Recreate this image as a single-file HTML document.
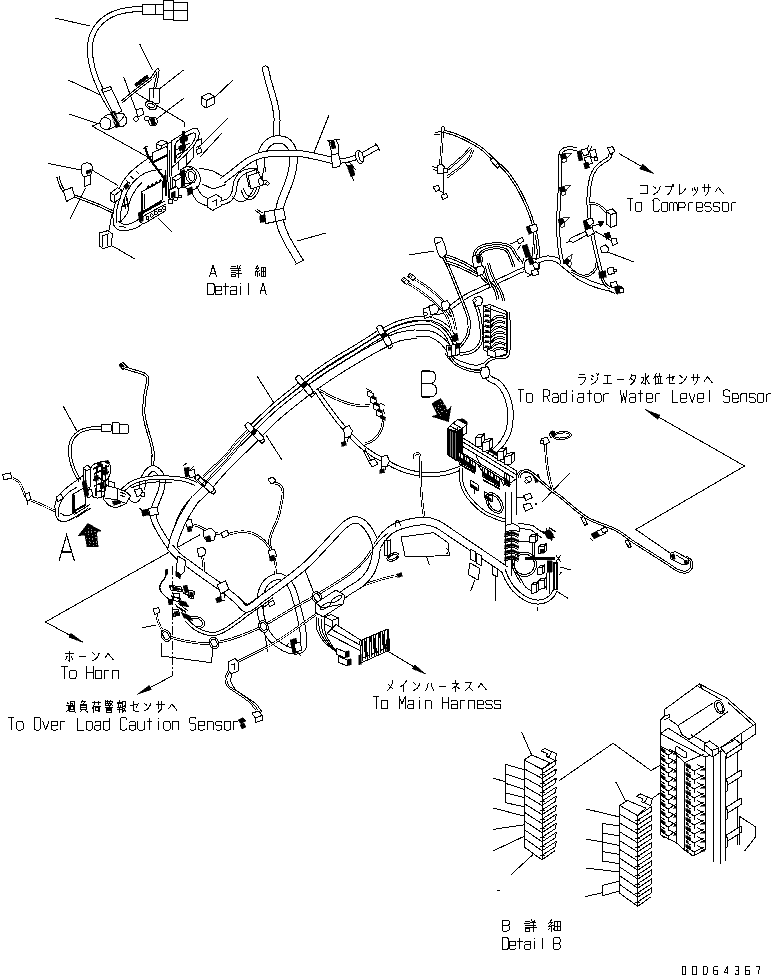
<!DOCTYPE html>
<html><head><meta charset="utf-8"><title>Wiring harness</title>
<style>
html,body{margin:0;padding:0;background:#fff;}
body{width:773px;height:975px;overflow:hidden;font-family:"Liberation Mono",monospace;}
svg{display:block}
svg text{font-family:"Liberation Mono",monospace;fill:#000;}
</style></head><body>
<svg shape-rendering="crispEdges" width="773" height="975" viewBox="0 0 773 975" stroke-linecap="butt">
<rect width="773" height="975" fill="#fff"/>
<path d="M55 18 L90 26 M139.7 44 L152.6 70 M68.6 80.2 L104.8 97 M68.6 113.8 L99.6 124.2 M183.7 69.9 L159 89.3 M183.7 98.3 L156.5 119 M123.7 77 L135.8 110 M92 126 L153 160 M92 126 L100 123 M136 93 L184 122 L184 127 M47.9 163.4 L81.5 170 M92 170 L117.7 185.4 M85.4 188 L70 219 M112.5 211 L108.7 232 M112.5 246 L135 259 M157.8 217.7 L172 232 M233 80 L214 98 M228 118 L198 148 M222 133 L200 157 M329 115 L313 155 M326 233 L297 241" fill="none" stroke="#000" stroke-width="1"/>
<path d="M142 9 C139.7 9.2 132.8 9.2 128 10 C123.2 10.8 117.7 11.8 113 14 C108.3 16.2 103.5 19.3 100 23 C96.5 26.7 93.7 31.2 92 36 C90.3 40.8 89.8 46.3 90 52 C90.2 57.7 91.5 64.3 93 70 C94.5 75.7 96.8 81 99 86 C101.2 91 103.8 96 106 100 C108.2 104 111 108.3 112 110" fill="none" stroke="#000" stroke-width="6" stroke-linecap="butt" stroke-linejoin="round"/>
<path d="M142 9 C139.7 9.2 132.8 9.2 128 10 C123.2 10.8 117.7 11.8 113 14 C108.3 16.2 103.5 19.3 100 23 C96.5 26.7 93.7 31.2 92 36 C90.3 40.8 89.8 46.3 90 52 C90.2 57.7 91.5 64.3 93 70 C94.5 75.7 96.8 81 99 86 C101.2 91 103.8 96 106 100 C108.2 104 111 108.3 112 110" fill="none" stroke="#fff" stroke-width="4" stroke-linecap="butt" stroke-linejoin="round"/>
<path d="M142.3 4 L155.2 4 L155.2 14.2 L142.3 14.2Z" fill="#fff" stroke="#000" stroke-width="1" stroke-linejoin="round"/>
<path d="M155.2 4 L163 4 L163 14.2 L155.2 14.2Z" fill="#fff" stroke="#000" stroke-width="1" stroke-linejoin="round"/>
<path d="M163 0.5 L173.4 0.5 L173.4 19.4 L163 19.4Z" fill="#fff" stroke="#000" stroke-width="1" stroke-linejoin="round"/>
<path d="M173.4 2.6 L187.6 2.6 L187.6 20.7 L173.4 20.7Z" fill="#fff" stroke="#000" stroke-width="1" stroke-linejoin="round"/>
<path d="M163 10.3 L187.6 10.3" fill="none" stroke="#000" stroke-width="1"/>
<path d="M101.5 89.5 L110.5 86.5 L122 111 L114 115Z" fill="#fff" stroke="#000" stroke-width="1" stroke-linejoin="round"/>
<path d="M103 92.5 L111.5 89.5" fill="none" stroke="#000" stroke-width="1"/>
<ellipse cx="107" cy="123" rx="7" ry="6.5" fill="#fff" stroke="#000" stroke-width="1"/>
<ellipse cx="120" cy="120.5" rx="7" ry="6.5" fill="#fff" stroke="#000" stroke-width="1"/>
<path d="M104 117 C105.3 114.4 114.7 113.7 118 113.5 C121.3 113.3 125.3 113.4 124 116 C122.7 118.6 113.3 128.8 110 129 C106.7 129.2 102.7 119.6 104 117Z" fill="#fff" stroke="#000" stroke-width="1" stroke-linejoin="round"/>
<ellipse cx="105.5" cy="123.5" rx="5.5" ry="6" fill="#fff" stroke="#000" stroke-width="1" transform="rotate(-15 105.5 123.5)"/>
<path d="M110 112 L115 111 L120 126 L116 128Z" fill="#000" stroke="#000" stroke-width="0.5"/>
<path d="M111 116 L116 124 M113 113 L119 122" fill="none" stroke="#fff" stroke-width="0.8"/>
<path d="M121.6 102 C123.8 100.2 129.9 95 135 91 C140.1 87 149.2 80.2 152 78" fill="none" stroke="#000" stroke-width="3" stroke-linecap="butt" stroke-linejoin="round"/>
<path d="M121.6 102 C123.8 100.2 129.9 95 135 91 C140.1 87 149.2 80.2 152 78" fill="none" stroke="#fff" stroke-width="1" stroke-linecap="butt" stroke-linejoin="round"/>
<path d="M152 78 C152.7 77 155 73.3 156 72 C157 70.7 157.8 69 158 70 C158.2 71 157.6 74.8 157 78 C156.4 81.2 154.9 87.2 154.5 89" fill="none" stroke="#000" stroke-width="3" stroke-linecap="butt" stroke-linejoin="round"/>
<path d="M152 78 C152.7 77 155 73.3 156 72 C157 70.7 157.8 69 158 70 C158.2 71 157.6 74.8 157 78 C156.4 81.2 154.9 87.2 154.5 89" fill="none" stroke="#fff" stroke-width="1" stroke-linecap="butt" stroke-linejoin="round"/>
<path d="M134.5 84 L147 74.5 L149 77.5 L136.5 87Z" fill="#000" stroke="#000" stroke-width="0.5"/>
<path d="M149 88 L159 88 L159 103 L149 103Z" fill="#fff" stroke="#000" stroke-width="1" stroke-linejoin="round"/>
<path d="M153.5 88 L153.5 98" fill="none" stroke="#000" stroke-width="1"/>
<ellipse cx="151" cy="105.5" rx="6" ry="3.8" fill="#fff" stroke="#000" stroke-width="1" transform="rotate(25 151 105.5)"/>
<ellipse cx="151" cy="105.5" rx="3.5" ry="2" fill="#fff" stroke="#000" stroke-width="1" transform="rotate(25 151 105.5)"/>
<path d="M136 110 L142 108 L144 114 L138 117Z" fill="#fff" stroke="#000" stroke-width="1" stroke-linejoin="round"/>
<ellipse cx="136" cy="119" rx="2.2" ry="2.2" fill="#fff" stroke="#000" stroke-width="1"/>
<ellipse cx="147" cy="118.5" rx="2.5" ry="2.5" fill="#fff" stroke="#000" stroke-width="1"/>
<ellipse cx="153" cy="121.5" rx="4.2" ry="4.5" fill="#fff" stroke="#000" stroke-width="1"/>
<path d="M150 119 L154 117.5 L156 124 L152 125.5Z" fill="#000" stroke="#000" stroke-width="0.5"/>
<path d="M82 165 C83 163.2 86.3 162.8 88 163 C89.7 163.2 91.5 164.2 92 166 C92.5 167.8 92.2 172.2 91 174 C89.8 175.8 86.5 177 85 177 C83.5 177 82.5 176 82 174 C81.5 172 81 166.8 82 165Z" fill="#fff" stroke="#000" stroke-width="1" stroke-linejoin="round"/>
<path d="M84 177 L90 175 L90.5 184 L85 186.5Z" fill="#fff" stroke="#000" stroke-width="1" stroke-linejoin="round"/>
<path d="M86 171 L91 169 L91.5 172 L86.5 174Z" fill="#000" stroke="#000" stroke-width="0.5"/>
<path d="M58 177 C58.5 178.5 59.7 183.3 61 186 C62.3 188.7 62.8 191 66 193 C69.2 195 74.7 196 80 198 C85.3 200 92.5 202.7 98 205 C103.5 207.3 110.5 210.8 113 212" fill="none" stroke="#000" stroke-width="3.2" stroke-linecap="butt" stroke-linejoin="round"/>
<path d="M58 177 C58.5 178.5 59.7 183.3 61 186 C62.3 188.7 62.8 191 66 193 C69.2 195 74.7 196 80 198 C85.3 200 92.5 202.7 98 205 C103.5 207.3 110.5 210.8 113 212" fill="none" stroke="#fff" stroke-width="1.2" stroke-linecap="butt" stroke-linejoin="round"/>
<path d="M63.4 190.5 L72 187.5 L75 197 L66.5 201.5Z" fill="#fff" stroke="#000" stroke-width="1" stroke-linejoin="round"/>
<path d="M99.6 233 L108 230.6 L112.5 234 L111 246 L103 248.8 L99.6 246Z" fill="#fff" stroke="#000" stroke-width="1" stroke-linejoin="round"/>
<path d="M103 235.5 L108 234 L107 246 M103 235.5 L102.5 247" fill="none" stroke="#000" stroke-width="1"/>
<path d="M201 97 L209 93 L214.5 96.5 L214 104 L206 108 L201 104.5Z" fill="#fff" stroke="#000" stroke-width="1" stroke-linejoin="round"/>
<path d="M201 97 L206.5 100.5 L214.5 96.5 M206.5 100.5 L206 108" fill="none" stroke="#000" stroke-width="1"/>
<path d="M113.5 225 C113.4 223.2 112.8 217.5 113 214 C113.2 210.5 114.2 207.7 115 204 C115.8 200.3 116.8 195.7 118 192 C119.2 188.3 120.4 185.3 122.5 182 C124.6 178.7 126.8 175.6 130.5 172 C134.2 168.4 140.6 163.7 144.8 160.6 C149.1 157.5 152.2 156.3 156 153.5 C159.8 150.7 165.7 145.6 167.6 144" fill="none" stroke="#000" stroke-width="1" stroke-linejoin="round"/>
<path d="M120.7 222 C120.8 220.2 120.5 214.4 121 211 C121.5 207.6 122.4 205.1 123.5 201.8 C124.6 198.5 125.8 194.3 127.5 191 C129.2 187.7 131.2 184.6 133.5 182 C135.8 179.4 138.4 177.2 141 175.5 C143.6 173.8 145.5 172.6 149 171.5 C152.5 170.4 159.8 169.4 162 169" fill="none" stroke="#000" stroke-width="1" stroke-linejoin="round"/>
<path d="M127.8 213 C128.1 211.2 128.6 205.3 129.5 202 C130.4 198.7 132.2 195.8 133.5 193.3 C134.8 190.8 136.1 188.8 137.5 187 C138.9 185.2 141.2 183.2 142 182.5" fill="none" stroke="#000" stroke-width="1" stroke-linejoin="round"/>
<path d="M117 223 C116.9 221.2 116.2 215.7 116.5 212 C116.8 208.3 117.9 204.7 119 201 C120.1 197.3 121.5 193.2 123 190 C124.5 186.8 127.2 183.3 128 182" fill="none" stroke="#000" stroke-width="1" stroke-linejoin="round"/>
<path d="M113.5 225 C114.1 225.7 115.6 228.1 117 229 C118.4 229.9 119.2 230.5 122 230.5 C124.8 230.5 130.2 230 133.5 229 C136.8 228 140.6 225.3 142 224.6" fill="none" stroke="#000" stroke-width="1" stroke-linejoin="round"/>
<path d="M118 221 C119 221.6 121.7 224.2 124 224.5 C126.3 224.8 129.3 224 132 223 C134.7 222 138.7 219.2 140 218.5" fill="none" stroke="#000" stroke-width="1" stroke-linejoin="round"/>
<path d="M120.7 222 L127.8 213 M119 226 L126 227.5" fill="none" stroke="#000" stroke-width="1"/>
<path d="M124 199 L125.5 209 M126.5 196 L128 207 M123 206 L130 203" fill="none" stroke="#000" stroke-width="1.4"/>
<path d="M123.5 186 L127 183 L129.5 186 L126 189.5Z" fill="#000" stroke="#000" stroke-width="0.5"/>
<path d="M130 176 L134 179 M126 180 L130 183.5 M136 171 L139.5 174.5" fill="none" stroke="#000" stroke-width="1"/>
<path d="M110.7 193 L117.5 187.6 L121.5 190 L120.7 198 L114 203 L110.7 200.4Z" fill="#fff" stroke="#000" stroke-width="1" stroke-linejoin="round"/>
<path d="M110.7 193 L114.5 195.5 L121.5 190 M114.5 195.5 L114 203" fill="none" stroke="#000" stroke-width="1"/>
<path d="M141.3 191.9 L162 180.5 L162 200.4 L141.3 213.2Z" fill="#fff" stroke="#000" stroke-width="1" stroke-linejoin="round"/>
<path d="M142.3 192.5 L142.3 212.5 L162 200.8" fill="none" stroke="#000" stroke-width="2.2"/>
<path d="M144.5 193.5 L144.5 209 M146 189.5 L160 182" fill="none" stroke="#000" stroke-width="1"/>
<path d="M147 188 L149 186 M151 186 L153 184 M155 184 L157 182 M159 182 L161 180" fill="none" stroke="#000" stroke-width="1.6"/>
<path d="M139 215.5 L164.8 201 M143.4 224 L166 210.5 M139 215.5 L139 221 L143.4 224 M141 217.5 L165.5 204" fill="none" stroke="#000" stroke-width="1"/>
<ellipse cx="147.5" cy="218" rx="1.6" ry="1.6" fill="#fff" stroke="#000" stroke-width="1"/>
<ellipse cx="151.7" cy="215.5" rx="1.6" ry="1.6" fill="#fff" stroke="#000" stroke-width="1"/>
<ellipse cx="155.9" cy="213" rx="1.6" ry="1.6" fill="#fff" stroke="#000" stroke-width="1"/>
<ellipse cx="160.1" cy="210.5" rx="1.6" ry="1.6" fill="#fff" stroke="#000" stroke-width="1"/>
<ellipse cx="164.3" cy="208" rx="1.6" ry="1.6" fill="#fff" stroke="#000" stroke-width="1"/>
<path d="M138 213 L142 211 L143.5 220 L139.5 222Z" fill="#000" stroke="#000" stroke-width="0.5"/>
<path d="M167.3 144 L171.5 142 L172.3 196 L168.3 198Z" fill="#fff" stroke="#000" stroke-width="1" stroke-linejoin="round"/>
<path d="M169.5 150 L170.3 192" fill="none" stroke="#000" stroke-width="1"/>
<path d="M165.5 170 L165.8 196" fill="none" stroke="#000" stroke-width="1.8"/>
<path d="M163 176 L166 174.5 L166.5 186 L163.5 187.5Z" fill="#000" stroke="#000" stroke-width="0.5"/>
<path d="M144.8 146.5 C145.2 147.6 146 150.7 147 153 C148 155.3 149.5 158.1 151 160.5 C152.5 162.9 154.3 165.2 156 167.5 C157.7 169.8 159.5 172 161 174 C162.5 176 164.3 178.6 165 179.5" fill="none" stroke="#000" stroke-width="2.2"/>
<path d="M143.5 148.5 L147.5 146 M149 163 L153 160" fill="none" stroke="#000" stroke-width="1"/>
<path d="M171.5 141 L184 133 L193 128.5 L197.5 129 L199.5 132.5 L198 139 L193 147 L185 155.5 L178 162 L172 167.5Z" fill="#fff" stroke="#000" stroke-width="1" stroke-linejoin="round"/>
<path d="M176 143 C177.5 139.4 183.1 138.2 186 136.5 C188.9 134.8 191.9 133.1 193.5 133 C195.1 132.9 195.8 134.2 195.5 136 C195.2 137.8 193.9 141.3 192 144 C190.1 146.7 186.5 149.7 184 152 C181.5 154.3 178.3 159.5 177 158 C175.7 156.5 174.5 146.6 176 143Z" fill="none" stroke="#000" stroke-width="1" stroke-linejoin="round"/>
<path d="M183.5 130.5 L183.5 152" fill="none" stroke="#000" stroke-width="2.8"/>
<path d="M179.5 137 L187 134.5 L188 140 L180.5 143Z" fill="#000" stroke="#000" stroke-width="0.5"/>
<path d="M178.5 146 L185 143.5 L186 148 L179.5 151Z" fill="#000" stroke="#000" stroke-width="0.5"/>
<path d="M176 150 L190 143 M177 155 L188 149 M175 145 L175 163" fill="none" stroke="#000" stroke-width="1.3"/>
<path d="M186 155 L186 166 M193 147 L193 158 M186 166 L193 158 M178 162 L178 170 M196 141 L201 139 L201 145 L196 147.5" fill="none" stroke="#000" stroke-width="1"/>
<path d="M196 150 L200.5 148 L202 152 L197.5 154Z" fill="#fff" stroke="#000" stroke-width="1" stroke-linejoin="round"/>
<path d="M156 143.5 L162 140 L167.5 142.5 L167.5 147 L161.5 150.5 L156 148Z" fill="#fff" stroke="#000" stroke-width="1" stroke-linejoin="round"/>
<path d="M156 143.5 L161.5 146 L167.5 142.5 M161.5 146 L161.5 150.5" fill="none" stroke="#000" stroke-width="1"/>
<path d="M152 153 L166 146.5 L167.5 149 L167.5 155 L153.5 162 L152 160Z" fill="#fff" stroke="#000" stroke-width="1" stroke-linejoin="round"/>
<path d="M153.5 162 L167.5 155" fill="none" stroke="#000" stroke-width="2.2"/>
<ellipse cx="190" cy="178" rx="10" ry="12" fill="#fff" stroke="#000" stroke-width="1" transform="rotate(-25 190 178)"/>
<path d="M180 170 L188 166 L192.5 169 L192 183 L184 188 L180 185Z" fill="#fff" stroke="#000" stroke-width="1" stroke-linejoin="round"/>
<ellipse cx="191" cy="176" rx="5.2" ry="7.2" fill="#fff" stroke="#000" stroke-width="1" transform="rotate(-15 191 176)"/>
<ellipse cx="191.5" cy="176.2" rx="3" ry="5" fill="#fff" stroke="#000" stroke-width="1" transform="rotate(-15 191.5 176.2)"/>
<path d="M181 171 L184.5 169.5 L184.5 186 L181 187.5Z" fill="#000" stroke="#000" stroke-width="0.5"/>
<path d="M184.5 172 L191 169 M184.5 184 L191 183.5" fill="none" stroke="#000" stroke-width="1"/>
<path d="M172 178 L179 174 L182 177 L181.5 187 L174.5 191 L172 188Z" fill="#fff" stroke="#000" stroke-width="1" stroke-linejoin="round"/>
<path d="M172 178 L175.5 181 L182 177 M175.5 181 L174.5 191" fill="none" stroke="#000" stroke-width="1"/>
<path d="M169.5 190 L176.5 186.5 L179 190 L178.5 197 L171.5 200.5 L169.5 198Z" fill="#fff" stroke="#000" stroke-width="1" stroke-linejoin="round"/>
<path d="M171 193 L175 191 L175.5 196 L171.5 198Z" fill="#000" stroke="#000" stroke-width="0.5"/>
<ellipse cx="170.5" cy="201.5" rx="2.2" ry="2.2" fill="#fff" stroke="#000" stroke-width="1"/>
<ellipse cx="175.5" cy="199" rx="1.9" ry="1.9" fill="#fff" stroke="#000" stroke-width="1"/>
<ellipse cx="180" cy="196.5" rx="1.6" ry="1.6" fill="#fff" stroke="#000" stroke-width="1"/>
<path d="M187 189 L192 186.5 L193 193 L188 195.5Z" fill="#000" stroke="#000" stroke-width="0.5"/>
<path d="M199 168 L212 170.5 L223 176.5 M202 184 L213 189 L226 184.5" fill="none" stroke="#000" stroke-width="1"/>
<path d="M196 186 C197.2 187.7 200.3 193.7 203 196 C205.7 198.3 210.5 199.3 212 200" fill="none" stroke="#000" stroke-width="1" stroke-linejoin="round"/>
<path d="M190 189 C191.2 191 194.2 198.2 197 201 C199.8 203.8 205.3 205.2 207 206" fill="none" stroke="#000" stroke-width="1" stroke-linejoin="round"/>
<path d="M207.5 199 L216 194.5 L222 198 L221 206 L212.5 210.5 L207.5 207Z" fill="#fff" stroke="#000" stroke-width="1" stroke-linejoin="round"/>
<path d="M212 202 L217 199.5 L216.5 206" fill="none" stroke="#000" stroke-width="1"/>
<path d="M221 203 C222.3 202.5 226.8 201.8 229 200 C231.2 198.2 232.8 195.2 234 192 C235.2 188.8 234.8 184 236 181 C237.2 178 238.7 175.8 241 174 C243.3 172.2 246.8 171 250 170.5 C253.2 170 258.3 170.9 260 171" fill="none" stroke="#000" stroke-width="5" stroke-linecap="butt" stroke-linejoin="round"/>
<path d="M221 203 C222.3 202.5 226.8 201.8 229 200 C231.2 198.2 232.8 195.2 234 192 C235.2 188.8 234.8 184 236 181 C237.2 178 238.7 175.8 241 174 C243.3 172.2 246.8 171 250 170.5 C253.2 170 258.3 170.9 260 171" fill="none" stroke="#fff" stroke-width="3" stroke-linecap="butt" stroke-linejoin="round"/>
<path d="M246 173 L256 169.5 L259 176 L258 184 L249 186.5Z" fill="#fff" stroke="#000" stroke-width="1" stroke-linejoin="round"/>
<ellipse cx="260" cy="180" rx="2.5" ry="4.5" fill="#fff" stroke="#000" stroke-width="1" transform="rotate(-10 260 180)"/>
<path d="M232 196 C233 196.8 235.7 200.3 238 201 C240.3 201.7 243.7 201.5 246 200 C248.3 198.5 250.3 194.7 252 192 C253.7 189.3 255.3 185.3 256 184" fill="none" stroke="#000" stroke-width="1" stroke-linejoin="round"/>
<path d="M265.5 69 C265.9 70.8 267 76.2 268 80 C269 83.8 270.3 87.8 271.5 92 C272.7 96.2 274.1 100.7 275 105 C275.9 109.3 276.8 112.8 277 118 C277.2 123.2 276.6 133 276.5 136" fill="none" stroke="#000" stroke-width="7" stroke-linecap="round" stroke-linejoin="round"/>
<path d="M265.5 69 C265.9 70.8 267 76.2 268 80 C269 83.8 270.3 87.8 271.5 92 C272.7 96.2 274.1 100.7 275 105 C275.9 109.3 276.8 112.8 277 118 C277.2 123.2 276.6 133 276.5 136" fill="none" stroke="#fff" stroke-width="5" stroke-linecap="round" stroke-linejoin="round"/>
<path d="M262 172 C261.8 170 260.2 164 260.5 160 C260.8 156 262.2 151.2 264 148 C265.8 144.8 268.5 142.4 271 141 C273.5 139.6 276.3 139.3 279 139.5 C281.7 139.7 284.8 140.2 287 142 C289.2 143.8 291.4 146.7 292.5 150 C293.6 153.3 293.8 157.7 293.5 162 C293.2 166.3 292.2 171.3 291 176 C289.8 180.7 287.7 185.5 286 190 C284.3 194.5 282.2 199 281 203 C279.8 207 279 210.2 279 214 C279 217.8 279.7 221.7 281 226 C282.3 230.3 284.8 235.7 287 240 C289.2 244.3 291.8 248.3 294 252 C296.2 255.7 299 260.3 300 262" fill="none" stroke="#000" stroke-width="8.5" stroke-linecap="butt" stroke-linejoin="round"/>
<path d="M262 172 C261.8 170 260.2 164 260.5 160 C260.8 156 262.2 151.2 264 148 C265.8 144.8 268.5 142.4 271 141 C273.5 139.6 276.3 139.3 279 139.5 C281.7 139.7 284.8 140.2 287 142 C289.2 143.8 291.4 146.7 292.5 150 C293.6 153.3 293.8 157.7 293.5 162 C293.2 166.3 292.2 171.3 291 176 C289.8 180.7 287.7 185.5 286 190 C284.3 194.5 282.2 199 281 203 C279.8 207 279 210.2 279 214 C279 217.8 279.7 221.7 281 226 C282.3 230.3 284.8 235.7 287 240 C289.2 244.3 291.8 248.3 294 252 C296.2 255.7 299 260.3 300 262" fill="none" stroke="#fff" stroke-width="6.5" stroke-linecap="butt" stroke-linejoin="round"/>
<path d="M295.5 264.5 L304.5 259.5" fill="none" stroke="#000" stroke-width="1" stroke-linejoin="round"/>
<path d="M222 181 C224.2 179.3 230.7 174.3 235 171 C239.3 167.7 243.8 163.6 248 161 C252.2 158.4 255.5 156.8 260 155.5 C264.5 154.2 268.5 153.8 275 153.5 C281.5 153.2 291.8 152.9 299 153.5 C306.2 154.1 312.2 155.8 318 157 C323.8 158.2 331.3 160.3 334 161" fill="none" stroke="#000" stroke-width="7" stroke-linecap="butt" stroke-linejoin="round"/>
<path d="M222 181 C224.2 179.3 230.7 174.3 235 171 C239.3 167.7 243.8 163.6 248 161 C252.2 158.4 255.5 156.8 260 155.5 C264.5 154.2 268.5 153.8 275 153.5 C281.5 153.2 291.8 152.9 299 153.5 C306.2 154.1 312.2 155.8 318 157 C323.8 158.2 331.3 160.3 334 161" fill="none" stroke="#fff" stroke-width="5" stroke-linecap="butt" stroke-linejoin="round"/>
<path d="M241 190 C241.7 191.3 243.2 196.5 245 198 C246.8 199.5 249.8 200 252 199 C254.2 198 256.3 195.5 258 192 C259.7 188.5 260.8 183 262 178 C263.2 173 264.5 164.7 265 162" fill="none" stroke="#000" stroke-width="1" stroke-linejoin="round"/>
<path d="M243 188 C243.7 189.2 245.5 193.7 247 195 C248.5 196.3 250.5 196.8 252 196 C253.5 195.2 254.7 193.2 256 190 C257.3 186.8 259.3 179.2 260 177" fill="none" stroke="#000" stroke-width="1" stroke-linejoin="round"/>
<path d="M248 176 L258 172.5 L262 179 L260 186 L251 189Z" fill="#fff" stroke="#000" stroke-width="1" stroke-linejoin="round"/>
<ellipse cx="261" cy="182" rx="2.3" ry="4.2" fill="#fff" stroke="#000" stroke-width="1" transform="rotate(-15 261 182)"/>
<path d="M262 180 L267 181 M262 184 L266 185" fill="none" stroke="#000" stroke-width="1"/>
<ellipse cx="267.5" cy="183.5" rx="1.6" ry="1.6" fill="#fff" stroke="#000" stroke-width="1"/>
<path d="M334 161 C335.8 160.9 341.3 161.1 345 160.5 C348.7 159.9 354.2 158 356 157.5" fill="none" stroke="#000" stroke-width="5.5" stroke-linecap="butt" stroke-linejoin="round"/>
<path d="M334 161 C335.8 160.9 341.3 161.1 345 160.5 C348.7 159.9 354.2 158 356 157.5" fill="none" stroke="#fff" stroke-width="3.5" stroke-linecap="butt" stroke-linejoin="round"/>
<path d="M362 155.5 C363.3 154.8 367.3 152.5 370 151 C372.7 149.5 376.7 147.2 378 146.5" fill="none" stroke="#000" stroke-width="6" stroke-linecap="butt" stroke-linejoin="round"/>
<path d="M362 155.5 C363.3 154.8 367.3 152.5 370 151 C372.7 149.5 376.7 147.2 378 146.5" fill="none" stroke="#fff" stroke-width="4" stroke-linecap="butt" stroke-linejoin="round"/>
<path d="M375.5 143 L380 150.5" fill="none" stroke="#000" stroke-width="1" stroke-linejoin="round"/>
<ellipse cx="359.5" cy="157" rx="3.6" ry="7" fill="#fff" stroke="#000" stroke-width="1" transform="rotate(-15 359.5 157)"/>
<ellipse cx="361" cy="156.5" rx="2.2" ry="5" fill="#fff" stroke="#000" stroke-width="1" transform="rotate(-15 361 156.5)"/>
<path d="M331 155 L338 153 L341 163 L339 166.5 L333 168Z" fill="#fff" stroke="#000" stroke-width="1" stroke-linejoin="round"/>
<path d="M329 141 L336 139.5 L339 146 L338 153.5 L332 155Z" fill="#fff" stroke="#000" stroke-width="1" stroke-linejoin="round"/>
<path d="M330.5 141.5 L334 140.5 L336 148 L332 149Z" fill="#000" stroke="#000" stroke-width="0.5"/>
<path d="M327 140 L331 143 M336 140 L340 139" fill="none" stroke="#000" stroke-width="1"/>
<path d="M347 166 L352 164 L355 175 L351 177Z" fill="#000" stroke="#000" stroke-width="0.5"/>
<path d="M345 163 L352 172 M349 162 L356 170 M352 177 L354 181" fill="none" stroke="#000" stroke-width="1"/>
<path d="M274 210 L283.5 208.5 L285.5 219 L276 221.5Z" fill="#fff" stroke="#000" stroke-width="1" stroke-linejoin="round"/>
<path d="M264 212 L274 210 L276 221.5 L266 223.5Z" fill="#fff" stroke="#000" stroke-width="1" stroke-linejoin="round"/>
<path d="M259.5 215.5 L265 214.5 L266 221.5 L260.5 222.5Z" fill="#000" stroke="#000" stroke-width="0.5"/>
<path d="M255.5 210.5 L261 214.5 M257 209.5 L263 213" fill="none" stroke="#000" stroke-width="1"/>
<path d="M257 376 L274 403 M266 435 L282 460 M409 255 L434 251" fill="none" stroke="#000" stroke-width="1"/>
<path d="M172 546 C172.8 543.7 175.1 537.2 177 532 C178.9 526.8 180.9 520 183.6 515 C186.3 510 189.5 506.1 193 502 C196.5 497.9 200.7 494.7 204.5 490.5 C208.3 486.3 212.1 481.4 216 477 C219.9 472.6 222 470.1 228 464 C234 457.9 244.3 448.2 252 440.5 C259.7 432.8 266 425.4 274.2 418 C282.4 410.6 293.7 401.8 301 396 C308.3 390.2 312.4 387.4 318 383.5 C323.6 379.6 328.6 376.2 334.3 372.5 C340 368.8 346.1 365.1 352 361.5 C357.9 357.9 364.8 353.9 370 351 C375.2 348.1 378.3 346.3 383 344 C387.7 341.7 392.5 338.7 398 337 C403.5 335.3 413 334.5 416 334" fill="none" stroke="#000" stroke-width="9.5" stroke-linecap="butt" stroke-linejoin="round"/>
<path d="M172 546 C172.8 543.7 175.1 537.2 177 532 C178.9 526.8 180.9 520 183.6 515 C186.3 510 189.5 506.1 193 502 C196.5 497.9 200.7 494.7 204.5 490.5 C208.3 486.3 212.1 481.4 216 477 C219.9 472.6 222 470.1 228 464 C234 457.9 244.3 448.2 252 440.5 C259.7 432.8 266 425.4 274.2 418 C282.4 410.6 293.7 401.8 301 396 C308.3 390.2 312.4 387.4 318 383.5 C323.6 379.6 328.6 376.2 334.3 372.5 C340 368.8 346.1 365.1 352 361.5 C357.9 357.9 364.8 353.9 370 351 C375.2 348.1 378.3 346.3 383 344 C387.7 341.7 392.5 338.7 398 337 C403.5 335.3 413 334.5 416 334" fill="none" stroke="#fff" stroke-width="7.5" stroke-linecap="butt" stroke-linejoin="round"/>
<path d="M251 432.5 C254.9 428.8 265.9 417.3 274.2 410 C282.5 402.7 293.7 394.2 301 388.5 C308.3 382.8 312.3 379.5 318 375.5 C323.7 371.5 329.3 368.1 335 364.5 C340.7 360.9 346.8 357.2 352 354 C357.2 350.8 361.2 348 366 345 C370.8 342 375.7 338.9 381 336 C386.3 333.1 392.2 329.7 398 327.5 C403.8 325.3 410.7 323.8 416 323 C421.3 322.2 427.7 323 430 323" fill="none" stroke="#000" stroke-width="4.6" stroke-linecap="butt" stroke-linejoin="round"/>
<path d="M251 432.5 C254.9 428.8 265.9 417.3 274.2 410 C282.5 402.7 293.7 394.2 301 388.5 C308.3 382.8 312.3 379.5 318 375.5 C323.7 371.5 329.3 368.1 335 364.5 C340.7 360.9 346.8 357.2 352 354 C357.2 350.8 361.2 348 366 345 C370.8 342 375.7 338.9 381 336 C386.3 333.1 392.2 329.7 398 327.5 C403.8 325.3 410.7 323.8 416 323 C421.3 322.2 427.7 323 430 323" fill="none" stroke="#fff" stroke-width="2.6" stroke-linecap="butt" stroke-linejoin="round"/>
<path d="M250 427.8 C254 424 265.8 412.3 274.2 405 C282.6 397.7 293.2 389.6 300.5 383.8 C307.8 378.1 312.4 374.5 318 370.5 C323.6 366.5 328.3 363.3 334 359.7 C339.7 356.1 346.8 352.1 352 349 C357.2 345.9 360.3 343.9 365 341 C369.7 338.1 374.5 334.5 380 331.5 C385.5 328.5 392 325.2 398 323 C404 320.8 410.3 319.2 416 318.5 C421.7 317.8 429.3 318.9 432 319" fill="none" stroke="#000" stroke-width="4.6" stroke-linecap="butt" stroke-linejoin="round"/>
<path d="M250 427.8 C254 424 265.8 412.3 274.2 405 C282.6 397.7 293.2 389.6 300.5 383.8 C307.8 378.1 312.4 374.5 318 370.5 C323.6 366.5 328.3 363.3 334 359.7 C339.7 356.1 346.8 352.1 352 349 C357.2 345.9 360.3 343.9 365 341 C369.7 338.1 374.5 334.5 380 331.5 C385.5 328.5 392 325.2 398 323 C404 320.8 410.3 319.2 416 318.5 C421.7 317.8 429.3 318.9 432 319" fill="none" stroke="#fff" stroke-width="2.6" stroke-linecap="butt" stroke-linejoin="round"/>
<path d="M250 428.5 C247.8 430.7 241.1 436.9 237 441.5 C232.9 446.1 229.3 451.7 225.3 456 C221.3 460.3 216.7 464 213 467.5 C209.3 471 204.7 475.4 203 477" fill="none" stroke="#000" stroke-width="2.4" stroke-linecap="butt" stroke-linejoin="round"/>
<path d="M250 428.5 C247.8 430.7 241.1 436.9 237 441.5 C232.9 446.1 229.3 451.7 225.3 456 C221.3 460.3 216.7 464 213 467.5 C209.3 471 204.7 475.4 203 477" fill="none" stroke="#fff" stroke-width="1" stroke-linecap="butt" stroke-linejoin="round"/>
<path d="M251.5 433 C249.2 435.3 242.2 442.3 238 447 C233.8 451.7 229.8 456.8 226 461 C222.2 465.2 218.2 469.1 215 472.5 C211.8 475.9 207.9 480 206.5 481.5" fill="none" stroke="#000" stroke-width="2.4" stroke-linecap="butt" stroke-linejoin="round"/>
<path d="M251.5 433 C249.2 435.3 242.2 442.3 238 447 C233.8 451.7 229.8 456.8 226 461 C222.2 465.2 218.2 469.1 215 472.5 C211.8 475.9 207.9 480 206.5 481.5" fill="none" stroke="#fff" stroke-width="1" stroke-linecap="butt" stroke-linejoin="round"/>
<g transform="translate(381.5 331.5) rotate(-28)" stroke="#000" stroke-width="1.15"><rect x="-2.8" y="-6.4" width="5.6" height="11.6" rx="2.4" fill="#fff"/><path d="M-1.6 15.2 L-1.3 19 L2.8 18.4 L3 14.6" fill="#fff"/><rect x="-2.3" y="4.6" width="6.2" height="11.6" rx="2.6" fill="#fff"/><path d="M-2.6 3 L3 2.6 L3.4 6.2 L-2.2 6.8Z" fill="#000"/></g>
<g transform="translate(301 381.5) rotate(-38)" stroke="#000" stroke-width="1.15"><rect x="-2.8" y="-6.4" width="5.6" height="11.6" rx="2.4" fill="#fff"/><path d="M-1.6 15.2 L-1.3 19 L2.8 18.4 L3 14.6" fill="#fff"/><rect x="-2.3" y="4.6" width="6.2" height="11.6" rx="2.6" fill="#fff"/><path d="M-2.6 3 L3 2.6 L3.4 6.2 L-2.2 6.8Z" fill="#000"/></g>
<g transform="translate(250.5 428.5) rotate(-42)" stroke="#000" stroke-width="1.15"><rect x="-2.8" y="-6.4" width="5.6" height="11.6" rx="2.4" fill="#fff"/><path d="M-1.6 15.2 L-1.3 19 L2.8 18.4 L3 14.6" fill="#fff"/><rect x="-2.3" y="4.6" width="6.2" height="11.6" rx="2.6" fill="#fff"/><path d="M-2.6 3 L3 2.6 L3.4 6.2 L-2.2 6.8Z" fill="#000"/></g>
<g transform="translate(200.5 480.5) rotate(-47)" stroke="#000" stroke-width="1.15"><rect x="-2.8" y="-6.4" width="5.6" height="11.6" rx="2.4" fill="#fff"/><path d="M-1.6 15.2 L-1.3 19 L2.8 18.4 L3 14.6" fill="#fff"/><rect x="-2.3" y="4.6" width="6.2" height="11.6" rx="2.6" fill="#fff"/><path d="M-2.6 3 L3 2.6 L3.4 6.2 L-2.2 6.8Z" fill="#000"/></g>
<path d="M416 334 C418.3 334 425.8 333 430 334 C434.2 335 437.8 337.5 441 340 C444.2 342.5 447.7 347.5 449 349" fill="none" stroke="#000" stroke-width="7" stroke-linecap="butt" stroke-linejoin="round"/>
<path d="M416 334 C418.3 334 425.8 333 430 334 C434.2 335 437.8 337.5 441 340 C444.2 342.5 447.7 347.5 449 349" fill="none" stroke="#fff" stroke-width="5" stroke-linecap="butt" stroke-linejoin="round"/>
<path d="M430 323 C431.7 323.8 437 325.7 440 328 C443 330.3 446 333.8 448 337 C450 340.2 451.3 345.3 452 347" fill="none" stroke="#000" stroke-width="4.2" stroke-linecap="butt" stroke-linejoin="round"/>
<path d="M430 323 C431.7 323.8 437 325.7 440 328 C443 330.3 446 333.8 448 337 C450 340.2 451.3 345.3 452 347" fill="none" stroke="#fff" stroke-width="2.2" stroke-linecap="butt" stroke-linejoin="round"/>
<path d="M432 319 C433.8 319.8 439.7 321.7 443 324 C446.3 326.3 450 329.5 452 333 C454 336.5 454.5 343 455 345" fill="none" stroke="#000" stroke-width="4.2" stroke-linecap="butt" stroke-linejoin="round"/>
<path d="M432 319 C433.8 319.8 439.7 321.7 443 324 C446.3 326.3 450 329.5 452 333 C454 336.5 454.5 343 455 345" fill="none" stroke="#fff" stroke-width="2.2" stroke-linecap="butt" stroke-linejoin="round"/>
<path d="M531 267 C529.2 267.7 524.3 269.2 520 271 C515.7 272.8 510.3 275.5 505 278 C499.7 280.5 494.5 282.9 488 286 C481.5 289.1 472.7 292.7 466 296.5 C459.3 300.3 452.8 306.3 448 309 C443.2 311.7 440.3 311.8 437 312.5 C433.7 313.2 429.5 312.9 428 313" fill="none" stroke="#000" stroke-width="5" stroke-linecap="butt" stroke-linejoin="round"/>
<path d="M531 267 C529.2 267.7 524.3 269.2 520 271 C515.7 272.8 510.3 275.5 505 278 C499.7 280.5 494.5 282.9 488 286 C481.5 289.1 472.7 292.7 466 296.5 C459.3 300.3 452.8 306.3 448 309 C443.2 311.7 440.3 311.8 437 312.5 C433.7 313.2 429.5 312.9 428 313" fill="none" stroke="#fff" stroke-width="3" stroke-linecap="butt" stroke-linejoin="round"/>
<path d="M423 309 L430 306.5 L433 311 L432 316 L425 318.5Z" fill="#fff" stroke="#000" stroke-width="1" stroke-linejoin="round"/>
<path d="M429 306 L436 304 L439 309 L437 313 L431 315Z" fill="#fff" stroke="#000" stroke-width="1" stroke-linejoin="round"/>
<ellipse cx="425.5" cy="314" rx="1.8" ry="1.8" fill="#fff" stroke="#000" stroke-width="1"/>
<g transform="translate(447.5 309.5) rotate(-30) scale(0.85)"><path d="M-2.5 -4.5 L2.5 -4.5 L3.5 4 L-1.5 5Z" fill="#fff" stroke="#000" stroke-width="1.18"/><path d="M-1.5 5 L-1 8.5 L3 8 L3.5 4" fill="#fff" stroke="#000" stroke-width="1.41"/></g>
<path d="M407.5 283 C409.6 284.3 415.6 287.8 420 291 C424.4 294.2 429.7 298 434 302 C438.3 306 443 310 446 315 C449 320 451 329.2 452 332" fill="none" stroke="#000" stroke-width="2.4" stroke-linecap="butt" stroke-linejoin="round"/>
<path d="M407.5 283 C409.6 284.3 415.6 287.8 420 291 C424.4 294.2 429.7 298 434 302 C438.3 306 443 310 446 315 C449 320 451 329.2 452 332" fill="none" stroke="#fff" stroke-width="1" stroke-linecap="butt" stroke-linejoin="round"/>
<path d="M414 278.5 C416.2 279.9 422.7 283.8 427 287 C431.3 290.2 436 293.8 440 298 C444 302.2 448.3 306.7 451 312 C453.7 317.3 455.2 327 456 330" fill="none" stroke="#000" stroke-width="2.4" stroke-linecap="butt" stroke-linejoin="round"/>
<path d="M414 278.5 C416.2 279.9 422.7 283.8 427 287 C431.3 290.2 436 293.8 440 298 C444 302.2 448.3 306.7 451 312 C453.7 317.3 455.2 327 456 330" fill="none" stroke="#fff" stroke-width="1" stroke-linecap="butt" stroke-linejoin="round"/>
<g transform="translate(406 281.5) rotate(38)"><rect x="-4.5" y="-2" width="7" height="4" fill="#fff" stroke="#000"/><path d="M-3 -2V2M-1 -2V2" stroke="#000" stroke-width=".9"/></g>
<g transform="translate(412.5 277.5) rotate(38)"><rect x="-4.5" y="-2" width="7" height="4" fill="#fff" stroke="#000"/><path d="M-3 -2V2M-1 -2V2" stroke="#000" stroke-width=".9"/></g>
<path d="M443 256 C443.8 257.7 446.3 262.3 448 266 C449.7 269.7 451.2 273.5 453 278 C454.8 282.5 457 288 459 293 C461 298 463.3 303.3 465 308 C466.7 312.7 468.5 316.7 469 321 C469.5 325.3 469.2 330.2 468 334 C466.8 337.8 464 341.3 462 344 C460 346.7 457 349 456 350" fill="none" stroke="#000" stroke-width="3.2" stroke-linecap="butt" stroke-linejoin="round"/>
<path d="M443 256 C443.8 257.7 446.3 262.3 448 266 C449.7 269.7 451.2 273.5 453 278 C454.8 282.5 457 288 459 293 C461 298 463.3 303.3 465 308 C466.7 312.7 468.5 316.7 469 321 C469.5 325.3 469.2 330.2 468 334 C466.8 337.8 464 341.3 462 344 C460 346.7 457 349 456 350" fill="none" stroke="#fff" stroke-width="1.2" stroke-linecap="butt" stroke-linejoin="round"/>
<path d="M445 255.5 C446.7 256.1 451.3 257.5 455 259 C458.7 260.5 463.3 262.4 467 264.5 C470.7 266.6 473.8 268.8 477 271.5 C480.2 274.2 483.2 278.4 486 281 C488.8 283.6 492 284 494 287 C496 290 497.3 297 498 299" fill="none" stroke="#000" stroke-width="3.2" stroke-linecap="butt" stroke-linejoin="round"/>
<path d="M445 255.5 C446.7 256.1 451.3 257.5 455 259 C458.7 260.5 463.3 262.4 467 264.5 C470.7 266.6 473.8 268.8 477 271.5 C480.2 274.2 483.2 278.4 486 281 C488.8 283.6 492 284 494 287 C496 290 497.3 297 498 299" fill="none" stroke="#fff" stroke-width="1.2" stroke-linecap="butt" stroke-linejoin="round"/>
<path d="M447 262 C448.8 262.7 454.2 264.4 458 266 C461.8 267.6 466.7 269.8 470 271.5 C473.3 273.2 476.7 275.2 478 276" fill="none" stroke="#000" stroke-width="3.2" stroke-linecap="butt" stroke-linejoin="round"/>
<path d="M447 262 C448.8 262.7 454.2 264.4 458 266 C461.8 267.6 466.7 269.8 470 271.5 C473.3 273.2 476.7 275.2 478 276" fill="none" stroke="#fff" stroke-width="1.2" stroke-linecap="butt" stroke-linejoin="round"/>
<path d="M434.5 240 C434.2 236.9 436.8 237.8 438 237.5 C439.2 237.2 440.6 236.1 442 238.5 C443.4 240.9 446.2 249 446.5 252 C446.8 255 445.2 255.8 444 256.5 C442.8 257.2 441.1 258.8 439.5 256 C437.9 253.2 434.8 243.1 434.5 240Z" fill="#fff" stroke="#000" stroke-width="1" stroke-linejoin="round"/>
<path d="M435 244 L441.5 241.5" fill="none" stroke="#000" stroke-width="1"/>
<path d="M474 259 C474.2 257.7 474.3 253.1 475.5 251 C476.7 248.9 478.2 247.7 481 246.5 C483.8 245.3 488 244.3 492 244 C496 243.7 501.7 243.8 505 244.5 C508.3 245.2 510.2 246.2 512 248 C513.8 249.8 514.5 252.7 516 255 C517.5 257.3 520.2 260.8 521 262" fill="none" stroke="#000" stroke-width="3" stroke-linecap="butt" stroke-linejoin="round"/>
<path d="M474 259 C474.2 257.7 474.3 253.1 475.5 251 C476.7 248.9 478.2 247.7 481 246.5 C483.8 245.3 488 244.3 492 244 C496 243.7 501.7 243.8 505 244.5 C508.3 245.2 510.2 246.2 512 248 C513.8 249.8 514.5 252.7 516 255 C517.5 257.3 520.2 260.8 521 262" fill="none" stroke="#fff" stroke-width="1" stroke-linecap="butt" stroke-linejoin="round"/>
<path d="M478.5 262 C478.8 260.7 478.9 256 480 254 C481.1 252 482.8 251 485 250 C487.2 249 490 248.2 493 248 C496 247.8 500.5 247.8 503 248.5 C505.5 249.2 506.7 250.2 508 252 C509.3 253.8 510 256.5 511 259 C512 261.5 513.5 265.7 514 267" fill="none" stroke="#000" stroke-width="3" stroke-linecap="butt" stroke-linejoin="round"/>
<path d="M478.5 262 C478.8 260.7 478.9 256 480 254 C481.1 252 482.8 251 485 250 C487.2 249 490 248.2 493 248 C496 247.8 500.5 247.8 503 248.5 C505.5 249.2 506.7 250.2 508 252 C509.3 253.8 510 256.5 511 259 C512 261.5 513.5 265.7 514 267" fill="none" stroke="#fff" stroke-width="1" stroke-linecap="butt" stroke-linejoin="round"/>
<path d="M488.5 263 C488.9 264.5 489.8 268.7 491 272 C492.2 275.3 494.3 279.7 496 283 C497.7 286.3 499.7 289 501 292 C502.3 295 503.5 299.5 504 301" fill="none" stroke="#000" stroke-width="3" stroke-linecap="butt" stroke-linejoin="round"/>
<path d="M488.5 263 C488.9 264.5 489.8 268.7 491 272 C492.2 275.3 494.3 279.7 496 283 C497.7 286.3 499.7 289 501 292 C502.3 295 503.5 299.5 504 301" fill="none" stroke="#fff" stroke-width="1" stroke-linecap="butt" stroke-linejoin="round"/>
<path d="M484 266 C484.5 267.7 485.8 272.5 487 276 C488.2 279.5 490.3 285.2 491 287" fill="none" stroke="#000" stroke-width="3" stroke-linecap="butt" stroke-linejoin="round"/>
<path d="M484 266 C484.5 267.7 485.8 272.5 487 276 C488.2 279.5 490.3 285.2 491 287" fill="none" stroke="#fff" stroke-width="1" stroke-linecap="butt" stroke-linejoin="round"/>
<path d="M472 257 L479 254 L483 258 L481 266 L474 268Z" fill="#fff" stroke="#000" stroke-width="1" stroke-linejoin="round"/>
<path d="M476 256.5 L480 255 L481.5 262 L477.5 263Z" fill="#000" stroke="#000" stroke-width="0.5"/>
<path d="M476 268 L482 265.5 L485 269 L483 274 L478 276Z" fill="#fff" stroke="#000" stroke-width="1" stroke-linejoin="round"/>
<path d="M524 271 C525.2 270.5 528.8 269.5 531 268 C533.2 266.5 536 263 537 262" fill="none" stroke="#000" stroke-width="5" stroke-linecap="butt" stroke-linejoin="round"/>
<path d="M524 271 C525.2 270.5 528.8 269.5 531 268 C533.2 266.5 536 263 537 262" fill="none" stroke="#fff" stroke-width="3" stroke-linecap="butt" stroke-linejoin="round"/>
<path d="M525 262 C526 260 529 258.3 531 258 C533 257.7 535.5 258.7 537 260 C538.5 261.3 540.2 264 540 266 C539.8 268 537.8 270.7 536 272 C534.2 273.3 530.8 274.3 529 274 C527.2 273.7 525.7 272 525 270 C524.3 268 524 264 525 262Z" fill="#fff" stroke="#000" stroke-width="1" stroke-linejoin="round"/>
<ellipse cx="536" cy="265.5" rx="2.6" ry="3.6" fill="#fff" stroke="#000" stroke-width="1" transform="rotate(-30 536 265.5)"/>
<path d="M528 258 L532 256 L534 263 L530 265Z" fill="#000" stroke="#000" stroke-width="0.5"/>
<path d="M443 131 C445.2 131.7 451.7 133.3 456 135 C460.3 136.7 464.7 138.7 469 141 C473.3 143.3 477.8 145.8 482 149 C486.2 152.2 490 156.3 494 160 C498 163.7 502.3 166.8 506 171 C509.7 175.2 513 180.2 516 185 C519 189.8 521.5 194.7 524 200 C526.5 205.3 529.1 211.7 531 217 C532.9 222.3 534.3 227 535.5 232 C536.7 237 537.6 242.7 538 247 C538.4 251.3 538 256.2 538 258" fill="none" stroke="#000" stroke-width="3.2" stroke-linecap="butt" stroke-linejoin="round"/>
<path d="M443 131 C445.2 131.7 451.7 133.3 456 135 C460.3 136.7 464.7 138.7 469 141 C473.3 143.3 477.8 145.8 482 149 C486.2 152.2 490 156.3 494 160 C498 163.7 502.3 166.8 506 171 C509.7 175.2 513 180.2 516 185 C519 189.8 521.5 194.7 524 200 C526.5 205.3 529.1 211.7 531 217 C532.9 222.3 534.3 227 535.5 232 C536.7 237 537.6 242.7 538 247 C538.4 251.3 538 256.2 538 258" fill="none" stroke="#fff" stroke-width="1.2" stroke-linecap="butt" stroke-linejoin="round"/>
<path d="M442.5 131 C442.4 133 442.2 138.8 442 143 C441.8 147.2 441.3 151.8 441 156 C440.7 160.2 440.2 166 440 168" fill="none" stroke="#000" stroke-width="2.6" stroke-linecap="butt" stroke-linejoin="round"/>
<path d="M442.5 131 C442.4 133 442.2 138.8 442 143 C441.8 147.2 441.3 151.8 441 156 C440.7 160.2 440.2 166 440 168" fill="none" stroke="#fff" stroke-width="1" stroke-linecap="butt" stroke-linejoin="round"/>
<path d="M471 147.5 C469.7 148.9 465.8 153.2 463 156 C460.2 158.8 456.7 161.7 454 164 C451.3 166.3 448.2 169 447 170" fill="none" stroke="#000" stroke-width="2.6" stroke-linecap="butt" stroke-linejoin="round"/>
<path d="M471 147.5 C469.7 148.9 465.8 153.2 463 156 C460.2 158.8 456.7 161.7 454 164 C451.3 166.3 448.2 169 447 170" fill="none" stroke="#fff" stroke-width="1" stroke-linecap="butt" stroke-linejoin="round"/>
<path d="M473 150 C472.2 151.7 470.5 156.8 468 160 C465.5 163.2 461.5 166.2 458 169 C454.5 171.8 448.8 175.7 447 177" fill="none" stroke="#000" stroke-width="2.6" stroke-linecap="butt" stroke-linejoin="round"/>
<path d="M473 150 C472.2 151.7 470.5 156.8 468 160 C465.5 163.2 461.5 166.2 458 169 C454.5 171.8 448.8 175.7 447 177" fill="none" stroke="#fff" stroke-width="1" stroke-linecap="butt" stroke-linejoin="round"/>
<path d="M443.5 172 L443.7 194" fill="none" stroke="#000" stroke-width="1.6"/>
<ellipse cx="442.8" cy="129.5" rx="1.8" ry="3.4" fill="#fff" stroke="#000" stroke-width="1" transform="rotate(10 442.8 129.5)"/>
<path d="M435 133 L441 131 M434 135 L440 134.5" fill="none" stroke="#000" stroke-width="1"/>
<path d="M437 165.5 L442 164 L445 168 L443 173 L438 173.5Z" fill="#fff" stroke="#000" stroke-width="1" stroke-linejoin="round"/>
<ellipse cx="445.5" cy="170.5" rx="2.4" ry="2.4" fill="#fff" stroke="#000" stroke-width="1"/>
<path d="M432 166.5 L437 168 M433 169.5 L438 171" fill="none" stroke="#000" stroke-width="1"/>
<path d="M433 187 L438 185.5 L440 189 L436 191.5Z" fill="#fff" stroke="#000" stroke-width="1" stroke-linejoin="round"/>
<path d="M438 190 L443 192.5" fill="none" stroke="#000" stroke-width="1"/>
<path d="M441 195.5 L446.5 193.5 L448 197 L443 199.5Z" fill="#fff" stroke="#000" stroke-width="1" stroke-linejoin="round"/>
<g transform="translate(494 162) rotate(-35) scale(0.8)"><path d="M-2.5 -4.5 L2.5 -4.5 L3.5 4 L-1.5 5Z" fill="#fff" stroke="#000" stroke-width="1.25"/><path d="M-1.5 5 L-1 8.5 L3 8 L3.5 4" fill="#fff" stroke="#000" stroke-width="1.50"/></g>
<path d="M526 227 L531 225 L534 232 L529 234.5Z" fill="#000" stroke="#000" stroke-width="0.5"/>
<path d="M529 226 L536 224 L538 230 L532 233Z" fill="#fff" stroke="#000" stroke-width="1" stroke-linejoin="round"/>
<path d="M534 232 C534 234.2 534.2 241 534 245 C533.8 249 533.2 254.2 533 256" fill="none" stroke="#000" stroke-width="2.6" stroke-linecap="butt" stroke-linejoin="round"/>
<path d="M534 232 C534 234.2 534.2 241 534 245 C533.8 249 533.2 254.2 533 256" fill="none" stroke="#fff" stroke-width="1" stroke-linecap="butt" stroke-linejoin="round"/>
<path d="M517 240 L522 237.5 L524 241 L519 244Z" fill="#fff" stroke="#000" stroke-width="1" stroke-linejoin="round"/>
<path d="M510 244 L518 241" fill="none" stroke="#000" stroke-width="1"/>
<path d="M522 246 L527 244 L531 256 L526 258Z" fill="#000" stroke="#000" stroke-width="0.5"/>
<path d="M521 245 L517 250 M524 258 L522 264" fill="none" stroke="#000" stroke-width="1"/>
<path d="M607.6 252 L633.5 261.8 M619 153.6 L653 173" fill="none" stroke="#000" stroke-width="1"/>
<path d="M654 174 L639.5 169 L642.6 163.9Z" fill="#000" stroke="#000" stroke-width="0.5"/>
<path d="M537 261 C538.5 260.6 542.8 258.6 546 258.3 C549.2 258.1 552.7 258.1 556 259.5 C559.3 260.9 561.8 263.8 566 267 C570.2 270.2 575.8 275.4 581 278.5 C586.2 281.6 592 283.8 597 285.5 C602 287.2 608.7 288.4 611 289" fill="none" stroke="#000" stroke-width="5.5" stroke-linecap="butt" stroke-linejoin="round"/>
<path d="M537 261 C538.5 260.6 542.8 258.6 546 258.3 C549.2 258.1 552.7 258.1 556 259.5 C559.3 260.9 561.8 263.8 566 267 C570.2 270.2 575.8 275.4 581 278.5 C586.2 281.6 592 283.8 597 285.5 C602 287.2 608.7 288.4 611 289" fill="none" stroke="#fff" stroke-width="3.5" stroke-linecap="butt" stroke-linejoin="round"/>
<path d="M562.5 264 C562 261.3 560.2 254.7 559.5 248 C558.8 241.3 558 232.3 558 224 C558 215.7 558.9 206.7 559.3 198 C559.7 189.3 560.2 178.7 560.3 172 C560.4 165.3 559.7 161.5 560 158 C560.3 154.5 560.7 152.6 562 151 C563.3 149.4 565.5 148.6 568 148.3 C570.5 148 575.5 148.9 577 149" fill="none" stroke="#000" stroke-width="4" stroke-linecap="butt" stroke-linejoin="round"/>
<path d="M562.5 264 C562 261.3 560.2 254.7 559.5 248 C558.8 241.3 558 232.3 558 224 C558 215.7 558.9 206.7 559.3 198 C559.7 189.3 560.2 178.7 560.3 172 C560.4 165.3 559.7 161.5 560 158 C560.3 154.5 560.7 152.6 562 151 C563.3 149.4 565.5 148.6 568 148.3 C570.5 148 575.5 148.9 577 149" fill="none" stroke="#fff" stroke-width="2" stroke-linecap="butt" stroke-linejoin="round"/>
<path d="M571 271 C572.8 271.8 578.8 275.4 582 276 C585.2 276.6 587.7 275.8 590 274.5 C592.3 273.2 594.8 270.8 596 268 C597.2 265.2 597.2 259.7 597.5 258" fill="none" stroke="#000" stroke-width="3" stroke-linecap="butt" stroke-linejoin="round"/>
<path d="M571 271 C572.8 271.8 578.8 275.4 582 276 C585.2 276.6 587.7 275.8 590 274.5 C592.3 273.2 594.8 270.8 596 268 C597.2 265.2 597.2 259.7 597.5 258" fill="none" stroke="#fff" stroke-width="1" stroke-linecap="butt" stroke-linejoin="round"/>
<path d="M611 152.5 C610.7 153.4 610.3 156.4 609 158 C607.7 159.6 605.2 160.3 603 162 C600.8 163.7 598 165.3 596 168 C594 170.7 592.2 173.2 591 178 C589.8 182.8 588.8 190.3 588.5 197 C588.2 203.7 588.8 211.2 589.5 218 C590.2 224.8 591.7 231.3 593 238 C594.3 244.7 596.3 253 597.5 258 C598.7 263 599.2 265 600 268 C600.8 271 601.7 274.7 602 276" fill="none" stroke="#000" stroke-width="4" stroke-linecap="butt" stroke-linejoin="round"/>
<path d="M611 152.5 C610.7 153.4 610.3 156.4 609 158 C607.7 159.6 605.2 160.3 603 162 C600.8 163.7 598 165.3 596 168 C594 170.7 592.2 173.2 591 178 C589.8 182.8 588.8 190.3 588.5 197 C588.2 203.7 588.8 211.2 589.5 218 C590.2 224.8 591.7 231.3 593 238 C594.3 244.7 596.3 253 597.5 258 C598.7 263 599.2 265 600 268 C600.8 271 601.7 274.7 602 276" fill="none" stroke="#fff" stroke-width="2" stroke-linecap="butt" stroke-linejoin="round"/>
<path d="M602 278 C602.5 279 603.7 282.3 605 284 C606.3 285.7 609.2 287.3 610 288" fill="none" stroke="#000" stroke-width="3" stroke-linecap="butt" stroke-linejoin="round"/>
<path d="M602 278 C602.5 279 603.7 282.3 605 284 C606.3 285.7 609.2 287.3 610 288" fill="none" stroke="#fff" stroke-width="1" stroke-linecap="butt" stroke-linejoin="round"/>
<path d="M577 151.5 L581 150.5 L583 160 L579 161Z" fill="#000" stroke="#000" stroke-width="0.5"/>
<path d="M581 150 L587 148.5 L589 154 L584 156Z" fill="#fff" stroke="#000" stroke-width="1" stroke-linejoin="round"/>
<path d="M584 158 L590 156 L592.5 163 L587 165.5Z" fill="#fff" stroke="#000" stroke-width="1" stroke-linejoin="round"/>
<path d="M583.5 163 L588 161.5 L589.5 167.5 L585 169Z" fill="#000" stroke="#000" stroke-width="0.5"/>
<path d="M589 151 L595 149.5 L597 156 L592 158Z" fill="#fff" stroke="#000" stroke-width="1" stroke-linejoin="round"/>
<ellipse cx="596" cy="159" rx="2" ry="2" fill="#fff" stroke="#000" stroke-width="1"/>
<path d="M590 150.5 L592 146 M587 148.5 L589 145" fill="none" stroke="#000" stroke-width="1"/>
<path d="M607.5 148 L612.5 146.5 L615 151.5 L610.5 154Z" fill="#fff" stroke="#000" stroke-width="1" stroke-linejoin="round"/>
<g transform="translate(563 157) rotate(-8) scale(0.85)"><path d="M-3 -3.5 L3 -4 L4 2 L-2 3.5Z" fill="#000" stroke="#000" stroke-width=".8"/><path d="M3 -4 L11 -3.2 L4 2Z" fill="#fff" stroke="#000" stroke-width="1"/><path d="M-2 3.5 L-1 7 L3 6 L4 2" fill="#fff" stroke="#000" stroke-width="1"/></g>
<g transform="translate(562 190) rotate(-12) scale(0.85)"><path d="M-3 -3.5 L3 -4 L4 2 L-2 3.5Z" fill="#000" stroke="#000" stroke-width=".8"/><path d="M3 -4 L11 -3.2 L4 2Z" fill="#fff" stroke="#000" stroke-width="1"/><path d="M-2 3.5 L-1 7 L3 6 L4 2" fill="#fff" stroke="#000" stroke-width="1"/></g>
<g transform="translate(561 222) rotate(-14) scale(0.85)"><path d="M-3 -3.5 L3 -4 L4 2 L-2 3.5Z" fill="#000" stroke="#000" stroke-width=".8"/><path d="M3 -4 L11 -3.2 L4 2Z" fill="#fff" stroke="#000" stroke-width="1"/><path d="M-2 3.5 L-1 7 L3 6 L4 2" fill="#fff" stroke="#000" stroke-width="1"/></g>
<g transform="translate(567 262) rotate(-40) scale(0.8)"><path d="M-3 -3.5 L3 -4 L4 2 L-2 3.5Z" fill="#000" stroke="#000" stroke-width=".8"/><path d="M3 -4 L11 -3.2 L4 2Z" fill="#fff" stroke="#000" stroke-width="1"/><path d="M-2 3.5 L-1 7 L3 6 L4 2" fill="#fff" stroke="#000" stroke-width="1"/></g>
<path d="M589 203.3 C590.2 203.4 593.8 203.3 596 204 C598.2 204.7 600.2 206 602 207.5 C603.8 209 606.2 212.1 607 213" fill="none" stroke="#000" stroke-width="2.4" stroke-linecap="butt" stroke-linejoin="round"/>
<path d="M589 203.3 C590.2 203.4 593.8 203.3 596 204 C598.2 204.7 600.2 206 602 207.5 C603.8 209 606.2 212.1 607 213" fill="none" stroke="#fff" stroke-width="1" stroke-linecap="butt" stroke-linejoin="round"/>
<path d="M606 211 L612.5 209 L616.5 213 L616.7 225 L611 227.5 L606.5 224Z" fill="#fff" stroke="#000" stroke-width="1" stroke-linejoin="round"/>
<path d="M606 211 L610.5 214.5 L616.5 213 M610.5 214.5 L611 227.5" fill="none" stroke="#000" stroke-width="1"/>
<path d="M569 240.5 L571 238 L585 231.5 L587 235 L573 242.5Z" fill="#fff" stroke="#000" stroke-width="1" stroke-linejoin="round"/>
<path d="M566.5 243 L569.5 241" fill="none" stroke="#000" stroke-width="1"/>
<path d="M583 221 L588 219 L591 230 L586 232.5Z" fill="#000" stroke="#000" stroke-width="0.5"/>
<path d="M586 220 L592 218 L594 223 L589 226Z" fill="#fff" stroke="#000" stroke-width="1" stroke-linejoin="round"/>
<path d="M585 230 L592 227.5 L594.5 233 L588 236.5Z" fill="#fff" stroke="#000" stroke-width="1" stroke-linejoin="round"/>
<path d="M592 226 L601 223.5 M594.7 231 L606 237.5 L613 242" fill="none" stroke="#000" stroke-width="1"/>
<path d="M598 221 L604 222 L600.5 226.5Z" fill="#000" stroke="#000" stroke-width="1" stroke-linejoin="round"/>
<path d="M604.5 234 L609 232.5 L611 237 L606.5 239Z" fill="#000" stroke="#000" stroke-width="1" stroke-linejoin="round"/>
<path d="M611 239 L616 238 L617.5 243.5 L612.5 245.5Z" fill="#fff" stroke="#000" stroke-width="1" stroke-linejoin="round"/>
<path d="M600 247.5 L605.5 245 L609 248.5 L607.5 252.5 L602 253Z" fill="#fff" stroke="#000" stroke-width="1" stroke-linejoin="round"/>
<path d="M598.5 272 L605.5 270.5 L606.5 277 L599.5 278.5Z" fill="#000" stroke="#000" stroke-width="0.5"/>
<path d="M607 268.5 L613 267 L614.5 273 L608.5 275Z" fill="#fff" stroke="#000" stroke-width="1" stroke-linejoin="round"/>
<ellipse cx="615" cy="270.5" rx="1.6" ry="1.6" fill="#fff" stroke="#000" stroke-width="1"/>
<path d="M610 283 L616 281.5 L618 286 L612 288Z" fill="#fff" stroke="#000" stroke-width="1" stroke-linejoin="round"/>
<path d="M614 287 L620 285.5 L622.5 292 L616.5 294Z" fill="#000" stroke="#000" stroke-width="0.5"/>
<path d="M609 291 L615 293.5 M620 286 L624 289" fill="none" stroke="#000" stroke-width="1"/>
<path d="M619 289 L623 288 L624 292 L620 293Z" fill="#fff" stroke="#000" stroke-width="1" stroke-linejoin="round"/>
<path d="M531 271 L537 269 L539 274 L533 276Z" fill="#fff" stroke="#000" stroke-width="1" stroke-linejoin="round"/>
<path d="M527 277 L533 274" fill="none" stroke="#000" stroke-width="1"/>
<path d="M474.5 302 C475.2 303.7 477.4 308 478.5 312 C479.6 316 480.5 321.3 481 326 C481.5 330.7 482.2 336.3 481.5 340 C480.8 343.7 478.9 345.9 477 348 C475.1 350.1 472.8 351.5 470 352.5 C467.2 353.5 461.7 353.8 460 354" fill="none" stroke="#000" stroke-width="3.6" stroke-linecap="butt" stroke-linejoin="round"/>
<path d="M474.5 302 C475.2 303.7 477.4 308 478.5 312 C479.6 316 480.5 321.3 481 326 C481.5 330.7 482.2 336.3 481.5 340 C480.8 343.7 478.9 345.9 477 348 C475.1 350.1 472.8 351.5 470 352.5 C467.2 353.5 461.7 353.8 460 354" fill="none" stroke="#fff" stroke-width="1.6" stroke-linecap="butt" stroke-linejoin="round"/>
<path d="M447 352 C447.7 353 449.2 356.2 451 358 C452.8 359.8 455.2 361.2 458 362.5 C460.8 363.8 464.8 365.2 468 366 C471.2 366.8 474.3 367.7 477 367.5 C479.7 367.3 482.8 365.4 484 365" fill="none" stroke="#000" stroke-width="5.5" stroke-linecap="butt" stroke-linejoin="round"/>
<path d="M447 352 C447.7 353 449.2 356.2 451 358 C452.8 359.8 455.2 361.2 458 362.5 C460.8 363.8 464.8 365.2 468 366 C471.2 366.8 474.3 367.7 477 367.5 C479.7 367.3 482.8 365.4 484 365" fill="none" stroke="#fff" stroke-width="3.5" stroke-linecap="butt" stroke-linejoin="round"/>
<path d="M484 365 C484.8 364.2 487 361.2 489 360 C491 358.8 493.3 358 496 357.5 C498.7 357 502.9 357.9 505 357 C507.1 356.1 507.8 355.7 508.5 352 C509.2 348.3 509 341.7 509 335 C509 328.3 508.6 315.8 508.5 312" fill="none" stroke="#000" stroke-width="3.6" stroke-linecap="butt" stroke-linejoin="round"/>
<path d="M484 365 C484.8 364.2 487 361.2 489 360 C491 358.8 493.3 358 496 357.5 C498.7 357 502.9 357.9 505 357 C507.1 356.1 507.8 355.7 508.5 352 C509.2 348.3 509 341.7 509 335 C509 328.3 508.6 315.8 508.5 312" fill="none" stroke="#fff" stroke-width="1.6" stroke-linecap="butt" stroke-linejoin="round"/>
<path d="M449 355 C450 356.4 452.2 361.2 455 363.5 C457.8 365.8 462.3 367.7 466 369 C469.7 370.3 474 371.2 477 371.5 C480 371.8 482.8 371.1 484 371" fill="none" stroke="#000" stroke-width="3" stroke-linecap="butt" stroke-linejoin="round"/>
<path d="M449 355 C450 356.4 452.2 361.2 455 363.5 C457.8 365.8 462.3 367.7 466 369 C469.7 370.3 474 371.2 477 371.5 C480 371.8 482.8 371.1 484 371" fill="none" stroke="#fff" stroke-width="1" stroke-linecap="butt" stroke-linejoin="round"/>
<path d="M484.5 370 C485.2 371.3 486.8 375.8 489 378 C491.2 380.2 495.3 380.7 498 383 C500.7 385.3 503.1 388.3 505 392 C506.9 395.7 508.6 400.7 509.5 405 C510.4 409.3 510.7 413.7 510.5 418 C510.3 422.3 509.8 427 508.5 431 C507.2 435 505.1 438.8 503 442 C500.9 445.2 498.3 447.8 496 450 C493.7 452.2 490.2 454.2 489 455" fill="none" stroke="#000" stroke-width="6.5" stroke-linecap="butt" stroke-linejoin="round"/>
<path d="M484.5 370 C485.2 371.3 486.8 375.8 489 378 C491.2 380.2 495.3 380.7 498 383 C500.7 385.3 503.1 388.3 505 392 C506.9 395.7 508.6 400.7 509.5 405 C510.4 409.3 510.7 413.7 510.5 418 C510.3 422.3 509.8 427 508.5 431 C507.2 435 505.1 438.8 503 442 C500.9 445.2 498.3 447.8 496 450 C493.7 452.2 490.2 454.2 489 455" fill="none" stroke="#fff" stroke-width="4.5" stroke-linecap="butt" stroke-linejoin="round"/>
<path d="M481.5 368 L487.5 366.5 L490 371.5 L488.5 377 L483 378.5 L480.5 374Z" fill="#fff" stroke="#000" stroke-width="1" stroke-linejoin="round"/>
<path d="M483.3 306 L490 304.5 L506.8 311.5 L506.8 354 L497 357 L484 350Z" fill="#fff" stroke="#000" stroke-width="1" stroke-linejoin="round"/>
<path d="M490 304.5 L490.5 349 M483.3 306 L490 309 L506.8 314.5" fill="none" stroke="#000" stroke-width="1"/>
<path d="M484 311.2 L490 312" fill="none" stroke="#000" stroke-width="1"/>
<path d="M485 309.2 L489 309.8 L489 311.2 L485 310.6Z" fill="#000" stroke="#000" stroke-width="0.5"/>
<path d="M484 316.4 L490 317.2" fill="none" stroke="#000" stroke-width="1"/>
<path d="M485 314.4 L489 315 L489 316.4 L485 315.8Z" fill="#000" stroke="#000" stroke-width="0.5"/>
<path d="M484 321.6 L490 322.4" fill="none" stroke="#000" stroke-width="1"/>
<path d="M485 319.6 L489 320.2 L489 321.6 L485 321Z" fill="#000" stroke="#000" stroke-width="0.5"/>
<path d="M484 326.8 L490 327.6" fill="none" stroke="#000" stroke-width="1"/>
<path d="M485 324.8 L489 325.4 L489 326.8 L485 326.2Z" fill="#000" stroke="#000" stroke-width="0.5"/>
<path d="M484 332 L490 332.8" fill="none" stroke="#000" stroke-width="1"/>
<path d="M485 330 L489 330.6 L489 332 L485 331.4Z" fill="#000" stroke="#000" stroke-width="0.5"/>
<path d="M484 337.2 L490 338" fill="none" stroke="#000" stroke-width="1"/>
<path d="M485 335.2 L489 335.8 L489 337.2 L485 336.6Z" fill="#000" stroke="#000" stroke-width="0.5"/>
<path d="M484 342.4 L490 343.2" fill="none" stroke="#000" stroke-width="1"/>
<path d="M485 340.4 L489 341 L489 342.4 L485 341.8Z" fill="#000" stroke="#000" stroke-width="0.5"/>
<path d="M484 347.6 L490 348.4" fill="none" stroke="#000" stroke-width="1"/>
<path d="M485 345.6 L489 346.2 L489 347.6 L485 347Z" fill="#000" stroke="#000" stroke-width="0.5"/>
<path d="M491 320.5 C491.7 319.8 493.3 317.4 495 316.5 C496.7 315.6 499.2 315.3 501 315.4 C502.8 315.5 504.8 316.9 505.5 317.2" fill="none" stroke="#000" stroke-width="1" stroke-linejoin="round"/>
<path d="M491 322 C491.8 321.4 494.3 319 496 318.2 C497.7 317.4 499.4 317.1 501 317.2 C502.6 317.3 504.8 318.7 505.5 319" fill="none" stroke="#000" stroke-width="1" stroke-linejoin="round"/>
<path d="M491 325.8 C491.7 325.1 493.3 322.7 495 321.8 C496.7 320.9 499.2 320.6 501 320.7 C502.8 320.8 504.8 322.2 505.5 322.5" fill="none" stroke="#000" stroke-width="1" stroke-linejoin="round"/>
<path d="M491 327.3 C491.8 326.7 494.3 324.3 496 323.5 C497.7 322.7 499.4 322.4 501 322.5 C502.6 322.6 504.8 324 505.5 324.3" fill="none" stroke="#000" stroke-width="1" stroke-linejoin="round"/>
<path d="M491 331.1 C491.7 330.4 493.3 328 495 327.1 C496.7 326.2 499.2 325.9 501 326 C502.8 326.1 504.8 327.5 505.5 327.8" fill="none" stroke="#000" stroke-width="1" stroke-linejoin="round"/>
<path d="M491 332.6 C491.8 332 494.3 329.6 496 328.8 C497.7 328 499.4 327.7 501 327.8 C502.6 327.9 504.8 329.3 505.5 329.6" fill="none" stroke="#000" stroke-width="1" stroke-linejoin="round"/>
<path d="M491 336.4 C491.7 335.7 493.3 333.2 495 332.4 C496.7 331.5 499.2 331.2 501 331.3 C502.8 331.4 504.8 332.8 505.5 333.1" fill="none" stroke="#000" stroke-width="1" stroke-linejoin="round"/>
<path d="M491 337.9 C491.8 337.3 494.3 334.9 496 334.1 C497.7 333.3 499.4 333 501 333.1 C502.6 333.2 504.8 334.6 505.5 334.9" fill="none" stroke="#000" stroke-width="1" stroke-linejoin="round"/>
<path d="M491 341.7 C491.7 341 493.3 338.6 495 337.7 C496.7 336.8 499.2 336.5 501 336.6 C502.8 336.7 504.8 338.1 505.5 338.4" fill="none" stroke="#000" stroke-width="1" stroke-linejoin="round"/>
<path d="M491 343.2 C491.8 342.6 494.3 340.2 496 339.4 C497.7 338.6 499.4 338.3 501 338.4 C502.6 338.5 504.8 339.9 505.5 340.2" fill="none" stroke="#000" stroke-width="1" stroke-linejoin="round"/>
<path d="M491 347 C491.7 346.3 493.3 343.9 495 343 C496.7 342.1 499.2 341.8 501 341.9 C502.8 342 504.8 343.4 505.5 343.7" fill="none" stroke="#000" stroke-width="1" stroke-linejoin="round"/>
<path d="M491 348.5 C491.8 347.9 494.3 345.5 496 344.7 C497.7 343.9 499.4 343.6 501 343.7 C502.6 343.8 504.8 345.2 505.5 345.5" fill="none" stroke="#000" stroke-width="1" stroke-linejoin="round"/>
<path d="M491 352.3 C491.7 351.6 493.3 349.2 495 348.3 C496.7 347.4 499.2 347.1 501 347.2 C502.8 347.3 504.8 348.7 505.5 349" fill="none" stroke="#000" stroke-width="1" stroke-linejoin="round"/>
<path d="M491 353.8 C491.8 353.2 494.3 350.8 496 350 C497.7 349.2 499.4 348.9 501 349 C502.6 349.1 504.8 350.5 505.5 350.8" fill="none" stroke="#000" stroke-width="1" stroke-linejoin="round"/>
<path d="M487 349 L495 351.5 L495 357.5 L487 355Z" fill="#fff" stroke="#000" stroke-width="1" stroke-linejoin="round"/>
<path d="M474 298 L480 296 L483 300 L481 305 L475.5 306.5Z" fill="#fff" stroke="#000" stroke-width="1" stroke-linejoin="round"/>
<ellipse cx="474.5" cy="300.5" rx="1.8" ry="1.8" fill="#fff" stroke="#000" stroke-width="1"/>
<path d="M446.5 346 L459.5 343.5 L460 354.5 L447.5 357Z" fill="#fff" stroke="#000" stroke-width="1" stroke-linejoin="round"/>
<path d="M451 345.2 L451.5 356.3 M455.3 344.3 L455.8 355.5" fill="none" stroke="#000" stroke-width="1"/>
<path d="M448 347 L450.5 346.5 L450.8 350 L448.2 350.5Z" fill="#000" stroke="#000" stroke-width="0.5"/>
<path d="M456 344.7 L459 344 L459.2 348 L456.2 348.6Z" fill="#000" stroke="#000" stroke-width="0.5"/>
<path d="M452 336 L457 333 L458.5 340 L454 342Z" fill="#000" stroke="#000" stroke-width="0.5"/>
<path d="M441 303 L447 300.5 L450 304 L448.5 309 L443 311Z" fill="#fff" stroke="#000" stroke-width="1" stroke-linejoin="round"/>
<path d="M421.5 371 V397 M421.5 371 H430 Q435.5 371 435.5 377 Q435.5 383.5 430 383.5 H421.5 M430 383.5 Q436.5 384 436.5 390.5 Q436.5 397 430 397 H421.5" fill="none" stroke="#000" stroke-width="1.1"/>
<path d="M431.7 403.6 L440.8 398.4 L447.8 410 L451.2 406.2 L448.6 421.7 L431.7 416.5 L437.4 414.7Z" fill="#000" stroke="#000" stroke-width="0.5"/>
<path d="M434 404.5 L441 416 M437 402.5 L444.5 415.5 M440 401 L447 413.5 M435 409 L444 404 M438 413 L447 408" fill="none" stroke="#fff" stroke-width="0.7" stroke-dasharray="1 2.2"/>
<path d="M316 390 C317.2 391.8 320.5 396.9 323 400.5 C325.5 404.1 328.3 407.9 331 411.5 C333.7 415.1 336.2 418.6 339 422 C341.8 425.4 344.9 429 347.6 432 C350.3 435 352.6 437.6 355 440 C357.4 442.4 359 444.2 362 446.6 C365 449 369.2 452.1 373 454.5 C376.8 456.9 381.2 458.9 385 461 C388.8 463.1 392.2 465.3 396 467 C399.8 468.7 403.7 470.2 407.7 471.4 C411.7 472.6 415.9 473.4 420 474 C424.1 474.6 428.2 475 432.5 474.8 C436.8 474.6 441.9 473.9 446 473 C450.1 472.1 454.3 470.5 457 469.5 C459.7 468.5 461.2 467.4 462 467" fill="none" stroke="#000" stroke-width="5" stroke-linecap="butt" stroke-linejoin="round"/>
<path d="M316 390 C317.2 391.8 320.5 396.9 323 400.5 C325.5 404.1 328.3 407.9 331 411.5 C333.7 415.1 336.2 418.6 339 422 C341.8 425.4 344.9 429 347.6 432 C350.3 435 352.6 437.6 355 440 C357.4 442.4 359 444.2 362 446.6 C365 449 369.2 452.1 373 454.5 C376.8 456.9 381.2 458.9 385 461 C388.8 463.1 392.2 465.3 396 467 C399.8 468.7 403.7 470.2 407.7 471.4 C411.7 472.6 415.9 473.4 420 474 C424.1 474.6 428.2 475 432.5 474.8 C436.8 474.6 441.9 473.9 446 473 C450.1 472.1 454.3 470.5 457 469.5 C459.7 468.5 461.2 467.4 462 467" fill="none" stroke="#fff" stroke-width="3" stroke-linecap="butt" stroke-linejoin="round"/>
<path d="M319.5 390 C321.2 391 326.4 394.2 330 396 C333.6 397.8 337.7 399.6 341.4 401 C345.1 402.4 348.6 403.7 352 404.5 C355.4 405.3 359 405.9 362 406 C365 406.1 368.7 405.2 370 405" fill="none" stroke="#000" stroke-width="2.6" stroke-linecap="butt" stroke-linejoin="round"/>
<path d="M319.5 390 C321.2 391 326.4 394.2 330 396 C333.6 397.8 337.7 399.6 341.4 401 C345.1 402.4 348.6 403.7 352 404.5 C355.4 405.3 359 405.9 362 406 C365 406.1 368.7 405.2 370 405" fill="none" stroke="#fff" stroke-width="1" stroke-linecap="butt" stroke-linejoin="round"/>
<path d="M383 414.5 C383 415.8 383.2 419.6 383 422 C382.8 424.4 382.4 426.7 381.5 429 C380.6 431.3 379.1 434 377.5 436 C375.9 438 374.2 439.7 372 441 C369.8 442.3 365.8 443.5 364.5 444" fill="none" stroke="#000" stroke-width="2.6" stroke-linecap="butt" stroke-linejoin="round"/>
<path d="M383 414.5 C383 415.8 383.2 419.6 383 422 C382.8 424.4 382.4 426.7 381.5 429 C380.6 431.3 379.1 434 377.5 436 C375.9 438 374.2 439.7 372 441 C369.8 442.3 365.8 443.5 364.5 444" fill="none" stroke="#fff" stroke-width="1" stroke-linecap="butt" stroke-linejoin="round"/>
<path d="M368 391 L374 394 L373 398.5 L367 395.5Z" fill="#fff" stroke="#000" stroke-width="1" stroke-linejoin="round"/>
<path d="M371.5 395.5 L376.5 398 L376 401 L371 398.5Z" fill="#000" stroke="#000" stroke-width="0.5"/>
<path d="M371 397.5 L377 400.5 L376 405 L370 402Z" fill="#fff" stroke="#000" stroke-width="1" stroke-linejoin="round"/>
<path d="M374.5 402 L379.5 404.5 L379 407.5 L374 405Z" fill="#000" stroke="#000" stroke-width="0.5"/>
<path d="M374 404 L380 407 L379 411.5 L373 408.5Z" fill="#fff" stroke="#000" stroke-width="1" stroke-linejoin="round"/>
<path d="M377.5 408.5 L382.5 411 L382 414 L377 411.5Z" fill="#000" stroke="#000" stroke-width="0.5"/>
<path d="M377 410.5 L383 413.5 L382 418 L376 415Z" fill="#fff" stroke="#000" stroke-width="1" stroke-linejoin="round"/>
<path d="M380.5 415 L385.5 417.5 L385 420.5 L380 418Z" fill="#000" stroke="#000" stroke-width="0.5"/>
<path d="M366 388.5 L372 391.5 M380 403 L385 405.5 M383 409 L384.5 414" fill="none" stroke="#000" stroke-width="1"/>
<path d="M343.5 428.5 L349 425.5 L352.5 431 L350.5 436 L345 438Z" fill="#fff" stroke="#000" stroke-width="1" stroke-linejoin="round"/>
<path d="M345 438 L343.5 443.5 M348.5 437 L347.5 442" fill="none" stroke="#000" stroke-width="1"/>
<path d="M341 442.5 L345.5 441 L346.5 445 L342 446.5Z" fill="#000" stroke="#000" stroke-width="0.5"/>
<path d="M381.5 457 L387 455 L389.5 461 L387 466.5 L382 467Z" fill="#fff" stroke="#000" stroke-width="1" stroke-linejoin="round"/>
<path d="M382 467 L381 471 M385.5 466.5 L385 470.5" fill="none" stroke="#000" stroke-width="1"/>
<path d="M379.5 469.5 L384 468.5 L384.5 472.5 L380 473.5Z" fill="#000" stroke="#000" stroke-width="0.5"/>
<path d="M363 449.7 L365.5 455 L368.3 461 M365 448.5 L368 455 L370.5 460" fill="none" stroke="#000" stroke-width="1"/>
<path d="M368.5 461 L374.5 459 L378 464 L372 467Z" fill="#fff" stroke="#000" stroke-width="1" stroke-linejoin="round"/>
<path d="M414 459 C414.1 458.3 413.9 455.9 414.5 455 C415.1 454.1 416.6 453.3 417.5 453.5 C418.4 453.7 419.5 453.2 420 456 C420.5 458.8 420.3 464.8 420.5 470 C420.7 475.2 420.7 481.2 421 487 C421.3 492.8 421.9 499.7 422.5 505 C423.1 510.3 424.2 516.7 424.5 519" fill="none" stroke="#000" stroke-width="2.4" stroke-linecap="butt" stroke-linejoin="round"/>
<path d="M414 459 C414.1 458.3 413.9 455.9 414.5 455 C415.1 454.1 416.6 453.3 417.5 453.5 C418.4 453.7 419.5 453.2 420 456 C420.5 458.8 420.3 464.8 420.5 470 C420.7 475.2 420.7 481.2 421 487 C421.3 492.8 421.9 499.7 422.5 505 C423.1 510.3 424.2 516.7 424.5 519" fill="none" stroke="#fff" stroke-width="1" stroke-linecap="butt" stroke-linejoin="round"/>
<path d="M461 468 C461 470 460.3 476 461 480 C461.7 484 462.9 488.2 465 492 C467.1 495.8 470.3 499.7 473.5 503 C476.7 506.3 480.1 509.5 484 512 C487.9 514.5 493.2 516.5 497 518 C500.8 519.5 505.3 520.5 507 521" fill="none" stroke="#000" stroke-width="4" stroke-linecap="butt" stroke-linejoin="round"/>
<path d="M461 468 C461 470 460.3 476 461 480 C461.7 484 462.9 488.2 465 492 C467.1 495.8 470.3 499.7 473.5 503 C476.7 506.3 480.1 509.5 484 512 C487.9 514.5 493.2 516.5 497 518 C500.8 519.5 505.3 520.5 507 521" fill="none" stroke="#fff" stroke-width="2" stroke-linecap="butt" stroke-linejoin="round"/>
<path d="M456.8 441 L462 437.5 L516 470.5 L516 479 L511 482.5 L456.8 449.5Z" fill="#fff" stroke="#000" stroke-width="1" stroke-linejoin="round"/>
<path d="M456.8 445 L462 441.5 L516 474.5 M462 437.5 L462 441.5 M458 452 L511 485 M462 446 L514 478" fill="none" stroke="#000" stroke-width="1"/>
<path d="M447.8 428.5 L453 423.5 L462 428.5 L462 458 L457 461 L447.8 455Z" fill="#000" stroke="#000" stroke-width="1" stroke-linejoin="round"/>
<path d="M450.2 431V455.5 M452.6 432V457 M455 433V458.5" fill="none" stroke="#fff" stroke-width="0.5"/>
<path d="M447.8 428.5 L453 423 L458 419.5 L467 424.5 L466.5 433 L462 436 L462 428.5 L457 431.5Z" fill="#fff" stroke="#000" stroke-width="1" stroke-linejoin="round"/>
<path d="M453 423 L462 428.5 L466.5 425 M457 431.5 L457 427 M450 426 L459 431" fill="none" stroke="#000" stroke-width="1"/>
<path d="M458 420 L462 418.5 L467 421.5 L467 424.5 L462 422Z" fill="#000" stroke="#000" stroke-width="0.5"/>
<path d="M475 438 L481.5 437 L481.5 446 L475 447Z" fill="#fff" stroke="#000" stroke-width="1" stroke-linejoin="round"/>
<path d="M475 438 L478.2 434.8 L484.7 433.8 L481.5 437Z" fill="#fff" stroke="#000" stroke-width="1" stroke-linejoin="round"/>
<path d="M481.5 437 L484.7 433.8 L484.7 442.8 L481.5 446Z" fill="#fff" stroke="#000" stroke-width="1" stroke-linejoin="round"/>
<path d="M482.5 442.5 L489 441.5 L489 450.5 L482.5 451.5Z" fill="#fff" stroke="#000" stroke-width="1" stroke-linejoin="round"/>
<path d="M482.5 442.5 L485.7 439.3 L492.2 438.3 L489 441.5Z" fill="#fff" stroke="#000" stroke-width="1" stroke-linejoin="round"/>
<path d="M489 441.5 L492.2 438.3 L492.2 447.3 L489 450.5Z" fill="#fff" stroke="#000" stroke-width="1" stroke-linejoin="round"/>
<path d="M497 452 L503.5 451 L503.5 459.5 L497 460.5Z" fill="#fff" stroke="#000" stroke-width="1" stroke-linejoin="round"/>
<path d="M497 452 L500.2 448.8 L506.7 447.8 L503.5 451Z" fill="#fff" stroke="#000" stroke-width="1" stroke-linejoin="round"/>
<path d="M503.5 451 L506.7 447.8 L506.7 456.3 L503.5 459.5Z" fill="#fff" stroke="#000" stroke-width="1" stroke-linejoin="round"/>
<path d="M504.5 456.5 L511 455.5 L511 464 L504.5 465Z" fill="#fff" stroke="#000" stroke-width="1" stroke-linejoin="round"/>
<path d="M504.5 456.5 L507.7 453.3 L514.2 452.3 L511 455.5Z" fill="#fff" stroke="#000" stroke-width="1" stroke-linejoin="round"/>
<path d="M511 455.5 L514.2 452.3 L514.2 460.8 L511 464Z" fill="#fff" stroke="#000" stroke-width="1" stroke-linejoin="round"/>
<path d="M489 448 L497 452.5 L497 456 L489 451.5Z" fill="#000" stroke="#000" stroke-width="0.5"/>
<path d="M458 452 L463.5 455 L463.5 464.5 L458 461.5Z" fill="#fff" stroke="#000" stroke-width="1" stroke-linejoin="round"/>
<path d="M458.8 456.3 L462.7 459 L462.7 463.4 L458.8 460.7Z" fill="#000" stroke="#000" stroke-width="0.5"/>
<path d="M460.8 453.5 L460.8 456.8" fill="none" stroke="#000" stroke-width="1"/>
<path d="M464 455.5 L469.5 458.5 L469.5 468 L464 465Z" fill="#fff" stroke="#000" stroke-width="1" stroke-linejoin="round"/>
<path d="M464.8 459.8 L468.7 462.5 L468.7 466.9 L464.8 464.2Z" fill="#000" stroke="#000" stroke-width="0.5"/>
<path d="M466.8 457 L466.8 460.2" fill="none" stroke="#000" stroke-width="1"/>
<path d="M470 459.5 L475.5 462.5 L475.5 472 L470 469Z" fill="#fff" stroke="#000" stroke-width="1" stroke-linejoin="round"/>
<path d="M470.8 463.8 L474.7 466.5 L474.7 470.9 L470.8 468.2Z" fill="#000" stroke="#000" stroke-width="0.5"/>
<path d="M472.8 461 L472.8 464.2" fill="none" stroke="#000" stroke-width="1"/>
<path d="M482 467 L487.5 470 L487.5 479.5 L482 476.5Z" fill="#fff" stroke="#000" stroke-width="1" stroke-linejoin="round"/>
<path d="M482.8 471.3 L486.7 474 L486.7 478.4 L482.8 475.7Z" fill="#000" stroke="#000" stroke-width="0.5"/>
<path d="M484.8 468.5 L484.8 471.8" fill="none" stroke="#000" stroke-width="1"/>
<path d="M488 470.5 L493.5 473.5 L493.5 483 L488 480Z" fill="#fff" stroke="#000" stroke-width="1" stroke-linejoin="round"/>
<path d="M488.8 474.8 L492.7 477.5 L492.7 481.9 L488.8 479.2Z" fill="#000" stroke="#000" stroke-width="0.5"/>
<path d="M490.8 472 L490.8 475.2" fill="none" stroke="#000" stroke-width="1"/>
<path d="M494 474.5 L499.5 477.5 L499.5 487 L494 484Z" fill="#fff" stroke="#000" stroke-width="1" stroke-linejoin="round"/>
<path d="M494.8 478.8 L498.7 481.5 L498.7 485.9 L494.8 483.2Z" fill="#000" stroke="#000" stroke-width="0.5"/>
<path d="M496.8 476 L496.8 479.2" fill="none" stroke="#000" stroke-width="1"/>
<path d="M504 473 L509.5 476 L509.5 487 L504 484Z" fill="#fff" stroke="#000" stroke-width="1" stroke-linejoin="round"/>
<path d="M504.8 477.9 L508.7 480.7 L508.7 485.9 L504.8 483.2Z" fill="#000" stroke="#000" stroke-width="0.5"/>
<path d="M506.8 474.5 L506.8 478.5" fill="none" stroke="#000" stroke-width="1"/>
<path d="M476 456 L481 466 M476.5 463 L482 471 M500 478 L504 486" fill="none" stroke="#000" stroke-width="1"/>
<path d="M459 464L475 473 M483 480L500 489" fill="none" stroke="#000" stroke-width="1.6"/>
<path d="M470 480 L478 484.5 L478 491 L470 486.5Z" fill="#fff" stroke="#000" stroke-width="1" stroke-linejoin="round"/>
<path d="M471 484 L477 487.5 L477 490 L471 486.5Z" fill="#000" stroke="#000" stroke-width="0.5"/>
<path d="M484 491.5 L492 496 L492 502 L484 497.5Z" fill="#fff" stroke="#000" stroke-width="1" stroke-linejoin="round"/>
<path d="M485 495 L491 498.5 L491 501 L485 497.5Z" fill="#000" stroke="#000" stroke-width="0.5"/>
<path d="M488 500 L488 505 M474 489 L474 494" fill="none" stroke="#000" stroke-width="1"/>
<path d="M517.5 477 C517.8 476.4 518.1 474.4 519 473.5 C519.9 472.6 521.2 471.8 523 471.5 C524.8 471.2 528 471.2 530 472 C532 472.8 534.2 475.8 535 476.5" fill="none" stroke="#000" stroke-width="3.6" stroke-linecap="butt" stroke-linejoin="round"/>
<path d="M517.5 477 C517.8 476.4 518.1 474.4 519 473.5 C519.9 472.6 521.2 471.8 523 471.5 C524.8 471.2 528 471.2 530 472 C532 472.8 534.2 475.8 535 476.5" fill="none" stroke="#fff" stroke-width="1.6" stroke-linecap="butt" stroke-linejoin="round"/>
<path d="M533.5 476 L538.5 474 L540.5 480.5 L535.5 482.5Z" fill="#000" stroke="#000" stroke-width="0.5"/>
<path d="M516.3 476 L516.3 515 M511.8 500 L511.8 515" fill="none" stroke="#000" stroke-width="1"/>
<ellipse cx="494.5" cy="503" rx="7" ry="11.5" fill="none" stroke="#000" stroke-width="1" transform="rotate(-35 494.5 503)"/>
<ellipse cx="494.5" cy="503" rx="5" ry="9.5" fill="none" stroke="#000" stroke-width="1" transform="rotate(-35 494.5 503)"/>
<path d="M508.7 492 L508.7 520 L508.7 545 L508.7 576" fill="none" stroke="#000" stroke-width="6.5" stroke-linecap="butt" stroke-linejoin="round"/>
<path d="M508.7 492 L508.7 520 L508.7 545 L508.7 576" fill="none" stroke="#fff" stroke-width="4.5" stroke-linecap="butt" stroke-linejoin="round"/>
<path d="M516.3 497 L524 497" fill="none" stroke="#000" stroke-width="1"/>
<path d="M523.5 495.5 L530 493.5 L532.5 497.5 L526 500.5Z" fill="#fff" stroke="#000" stroke-width="1" stroke-linejoin="round"/>
<path d="M523 505 L530 503 L532.5 508 L525.5 511Z" fill="#fff" stroke="#000" stroke-width="1" stroke-linejoin="round"/>
<path d="M504.5 533 L513 531.5 L518.5 534 L518.5 536.2 L513 534 L504.5 535.6Z" fill="#000" stroke="#000" stroke-width="0.5"/>
<path d="M504.5 536.5 L513 535.2 L518.5 537.5" fill="none" stroke="#000" stroke-width="1"/>
<path d="M504.5 539 L513 537.5 L518.5 540 L518.5 542.2 L513 540 L504.5 541.6Z" fill="#000" stroke="#000" stroke-width="0.5"/>
<path d="M504.5 542.5 L513 541.2 L518.5 543.5" fill="none" stroke="#000" stroke-width="1"/>
<path d="M504.5 545 L513 543.5 L518.5 546 L518.5 548.2 L513 546 L504.5 547.6Z" fill="#000" stroke="#000" stroke-width="0.5"/>
<path d="M504.5 548.5 L513 547.2 L518.5 549.5" fill="none" stroke="#000" stroke-width="1"/>
<path d="M504.5 551 L513 549.5 L518.5 552 L518.5 554.2 L513 552 L504.5 553.6Z" fill="#000" stroke="#000" stroke-width="0.5"/>
<path d="M504.5 554.5 L513 553.2 L518.5 555.5" fill="none" stroke="#000" stroke-width="1"/>
<path d="M504.5 557 L513 555.5 L518.5 558 L518.5 560.2 L513 558 L504.5 559.6Z" fill="#000" stroke="#000" stroke-width="0.5"/>
<path d="M504.5 560.5 L513 559.2 L518.5 561.5" fill="none" stroke="#000" stroke-width="1"/>
<path d="M505 525.5 L513 523.5 L519 526.5 L519 531.5 L513 530 L505 532Z" fill="#fff" stroke="#000" stroke-width="1" stroke-linejoin="round"/>
<path d="M559.9 567 L570.9 570 M557.3 591.5 L568.3 598.6 M517.8 523 L532.7 525.5 L545.6 534.6 M519 528 L531 530 L542 538 M519 541 L529.5 541.5 M532.7 542 L532.7 556.6 M534.3 542 L534.3 556.6" fill="none" stroke="#000" stroke-width="1"/>
<path d="M503.5 570.5 C504.1 571.9 505.2 575.8 507 579 C508.8 582.2 511.3 586.5 514 589.5 C516.7 592.5 519.8 595 523 597 C526.2 599 529.7 600.8 533 601.5 C536.3 602.2 540 602.2 543 601.5 C546 600.8 548.9 598.9 551 597 C553.1 595.1 554.8 591.2 555.5 590" fill="none" stroke="#000" stroke-width="5" stroke-linecap="butt" stroke-linejoin="round"/>
<path d="M503.5 570.5 C504.1 571.9 505.2 575.8 507 579 C508.8 582.2 511.3 586.5 514 589.5 C516.7 592.5 519.8 595 523 597 C526.2 599 529.7 600.8 533 601.5 C536.3 602.2 540 602.2 543 601.5 C546 600.8 548.9 598.9 551 597 C553.1 595.1 554.8 591.2 555.5 590" fill="none" stroke="#fff" stroke-width="3" stroke-linecap="butt" stroke-linejoin="round"/>
<path d="M521 580 C521.8 581.2 524.2 585.8 526 587.5 C527.8 589.2 530.6 590 531.5 590.5" fill="none" stroke="#000" stroke-width="1" stroke-linejoin="round"/>
<path d="M512 563 C512.7 564.7 514.3 569.7 516 573 C517.7 576.3 521 581.3 522 583" fill="none" stroke="#000" stroke-width="3" stroke-linecap="butt" stroke-linejoin="round"/>
<path d="M512 563 C512.7 564.7 514.3 569.7 516 573 C517.7 576.3 521 581.3 522 583" fill="none" stroke="#fff" stroke-width="1" stroke-linecap="butt" stroke-linejoin="round"/>
<ellipse cx="524.3" cy="564.3" rx="12.3" ry="12.3" fill="none" stroke="#000" stroke-width="1"/>
<ellipse cx="524.3" cy="564.3" rx="10.2" ry="10.2" fill="none" stroke="#000" stroke-width="1"/>
<path d="M525 558.5 L554.7 558.5" fill="none" stroke="#000" stroke-width="3.2"/>
<path d="M555.3 561.7 V590" fill="none" stroke="#000" stroke-width="5.5"/>
<path d="M555.3 564 V588.5" fill="none" stroke="#fff" stroke-width="1.6"/>
<path d="M556 555.3 L560.5 561.7 M560.5 555.3 L556 561.7 M559 575 L561.5 572" fill="none" stroke="#000" stroke-width="1"/>
<path d="M544.3 532 L549 529.4 L553.4 534 L552 539.8 L547 538Z" fill="#000" stroke="#000" stroke-width="0.5"/>
<path d="M542 531L555 538 M546 528L552 541 M549 527.5L556 532" fill="none" stroke="#000" stroke-width="1.3"/>
<path d="M529.5 537 L535.5 536 L535.5 542 L529.5 543Z" fill="#fff" stroke="#000" stroke-width="1" stroke-linejoin="round"/>
<path d="M529.5 537 L531.7 534.8 L537.7 533.8 L535.5 536Z" fill="#fff" stroke="#000" stroke-width="1" stroke-linejoin="round"/>
<path d="M535.5 536 L537.7 533.8 L537.7 539.8 L535.5 542Z" fill="#fff" stroke="#000" stroke-width="1" stroke-linejoin="round"/>
<path d="M538.5 547 L544.5 546 L544.5 552.5 L538.5 553.5Z" fill="#fff" stroke="#000" stroke-width="1" stroke-linejoin="round"/>
<path d="M538.5 547 L540.7 544.8 L546.7 543.8 L544.5 546Z" fill="#fff" stroke="#000" stroke-width="1" stroke-linejoin="round"/>
<path d="M544.5 546 L546.7 543.8 L546.7 550.3 L544.5 552.5Z" fill="#fff" stroke="#000" stroke-width="1" stroke-linejoin="round"/>
<path d="M540 549.5 L543.5 549 L543.5 553 L540 553.5Z" fill="#000" stroke="#000" stroke-width="0.5"/>
<path d="M537.9 568 L542.4 567 L542.4 574 L537.9 575Z" fill="#fff" stroke="#000" stroke-width="1" stroke-linejoin="round"/>
<path d="M537.9 568 L539.9 566 L544.4 565 L542.4 567Z" fill="#fff" stroke="#000" stroke-width="1" stroke-linejoin="round"/>
<path d="M542.4 567 L544.4 565 L544.4 572 L542.4 574Z" fill="#fff" stroke="#000" stroke-width="1" stroke-linejoin="round"/>
<path d="M531.4 585 L536.4 584 L536.4 592.5 L531.4 593.5Z" fill="#fff" stroke="#000" stroke-width="1" stroke-linejoin="round"/>
<path d="M531.4 585 L533.6 582.8 L538.6 581.8 L536.4 584Z" fill="#fff" stroke="#000" stroke-width="1" stroke-linejoin="round"/>
<path d="M536.4 584 L538.6 581.8 L538.6 590.3 L536.4 592.5Z" fill="#fff" stroke="#000" stroke-width="1" stroke-linejoin="round"/>
<path d="M538.5 581 L544 580 L544 588.5 L538.5 589.5Z" fill="#fff" stroke="#000" stroke-width="1" stroke-linejoin="round"/>
<path d="M538.5 581 L540.7 578.8 L546.2 577.8 L544 580Z" fill="#fff" stroke="#000" stroke-width="1" stroke-linejoin="round"/>
<path d="M544 580 L546.2 577.8 L546.2 586.3 L544 588.5Z" fill="#fff" stroke="#000" stroke-width="1" stroke-linejoin="round"/>
<path d="M547 561 L552 560.5 L552 572 L547 572.5Z" fill="#000" stroke="#000" stroke-width="0.5"/>
<path d="M546 572.5 L546 590 M549.5 572 L549.5 594 M537 607 L537 611 M495.2 575 L495.2 600.6" fill="none" stroke="#000" stroke-width="1"/>
<path d="M492.5 565 L497.5 567.5 L497.5 577 L492.5 574.5Z" fill="#fff" stroke="#000" stroke-width="1" stroke-linejoin="round"/>
<path d="M63.4 406.5 L77.6 432.3 M45.4 622 L200 534.7 M302.6 564 L314.7 595 M265 633.4 L267.4 652 M141.6 627.8 L156 625 M161 643 L161 656 L211.5 662.7 L212.8 648.5" fill="none" stroke="#000" stroke-width="1"/>
<path d="M172 566 L172 676" fill="none" stroke="#000" stroke-width="1" stroke-linejoin="round" stroke-dasharray="9 2 2 2"/>
<path d="M172 676 L138 694" fill="none" stroke="#000" stroke-width="1"/>
<path d="M137 694.5 L149.1 685.4 L151.4 689.6Z" fill="#000" stroke="#000" stroke-width="0.5"/>
<path d="M45.4 622 L82.4 642" fill="none" stroke="#000" stroke-width="1"/>
<path d="M83 642.3 L68.7 637.3 L70.9 633.1Z" fill="#000" stroke="#000" stroke-width="0.5"/>
<path d="M277 576.5 C273.7 577.3 267.8 580.1 265 584 C262.2 587.9 260.5 594 260 600 C259.5 606 260.3 613.8 262 620 C263.7 626.2 266.2 632.2 270 637 C273.8 641.8 280.5 646.2 285 648.5 C289.5 650.8 293.9 651.4 297 651 C300.1 650.6 302.6 649.8 303.5 646 C304.4 642.2 303.4 634.3 302.5 628 C301.6 621.7 299.7 614.5 298 608 C296.3 601.5 294.7 593.8 292.5 589 C290.3 584.2 287.6 581.1 285 579 C282.4 576.9 280.3 575.7 277 576.5Z" fill="none" stroke="#000" stroke-width="7"/>
<path d="M277 576.5 C273.7 577.3 267.8 580.1 265 584 C262.2 587.9 260.5 594 260 600 C259.5 606 260.3 613.8 262 620 C263.7 626.2 266.2 632.2 270 637 C273.8 641.8 280.5 646.2 285 648.5 C289.5 650.8 293.9 651.4 297 651 C300.1 650.6 302.6 649.8 303.5 646 C304.4 642.2 303.4 634.3 302.5 628 C301.6 621.7 299.7 614.5 298 608 C296.3 601.5 294.7 593.8 292.5 589 C290.3 584.2 287.6 581.1 285 579 C282.4 576.9 280.3 575.7 277 576.5Z" fill="none" stroke="#fff" stroke-width="5"/>
<path d="M272 482.5 C273.3 482.9 278.2 483.4 280 485 C281.8 486.6 282.8 488.7 283 492 C283.2 495.3 281.8 500.7 281 505 C280.2 509.3 279.5 513.5 278 518 C276.5 522.5 273.4 527.8 272 532 C270.6 536.2 269.2 539 269.5 543 C269.8 547 272.4 552.2 273.5 556 C274.6 559.8 275.7 563 276 566 C276.3 569 275.6 572.7 275.5 574" fill="none" stroke="#000" stroke-width="2.6" stroke-linecap="butt" stroke-linejoin="round"/>
<path d="M272 482.5 C273.3 482.9 278.2 483.4 280 485 C281.8 486.6 282.8 488.7 283 492 C283.2 495.3 281.8 500.7 281 505 C280.2 509.3 279.5 513.5 278 518 C276.5 522.5 273.4 527.8 272 532 C270.6 536.2 269.2 539 269.5 543 C269.8 547 272.4 552.2 273.5 556 C274.6 559.8 275.7 563 276 566 C276.3 569 275.6 572.7 275.5 574" fill="none" stroke="#fff" stroke-width="1" stroke-linecap="butt" stroke-linejoin="round"/>
<path d="M268 479 L273 477 L276 481 L271 484Z" fill="#fff" stroke="#000" stroke-width="1" stroke-linejoin="round"/>
<path d="M187 524 C188.8 524.3 194.2 524.7 198 526 C201.8 527.3 205.3 530.6 210 532 C214.7 533.4 221.3 534.5 226 534.5 C230.7 534.5 234 532.3 238 532 C242 531.7 246 531.3 250 532.5 C254 533.7 258.7 536.4 262 539 C265.3 541.6 268 545.2 270 548 C272 550.8 273.3 554.7 274 556" fill="none" stroke="#000" stroke-width="2.6" stroke-linecap="butt" stroke-linejoin="round"/>
<path d="M187 524 C188.8 524.3 194.2 524.7 198 526 C201.8 527.3 205.3 530.6 210 532 C214.7 533.4 221.3 534.5 226 534.5 C230.7 534.5 234 532.3 238 532 C242 531.7 246 531.3 250 532.5 C254 533.7 258.7 536.4 262 539 C265.3 541.6 268 545.2 270 548 C272 550.8 273.3 554.7 274 556" fill="none" stroke="#fff" stroke-width="1" stroke-linecap="butt" stroke-linejoin="round"/>
<path d="M185 521 L191 519 L193 527 L188 530Z" fill="#fff" stroke="#000" stroke-width="1" stroke-linejoin="round"/>
<path d="M187 527 L191 526 L192 531 L188 532Z" fill="#000" stroke="#000" stroke-width="0.5"/>
<path d="M203 531 L211 528 L216 533 L214 540 L207 542 L204 537Z" fill="#fff" stroke="#000" stroke-width="1" stroke-linejoin="round"/>
<path d="M205 537 L210 535.5 L211 540 L207 541.5Z" fill="#000" stroke="#000" stroke-width="0.5"/>
<path d="M221 533 L227 530 L229 535 L223 538Z" fill="#fff" stroke="#000" stroke-width="1" stroke-linejoin="round"/>
<path d="M268 551 L274 549 L277 556 L271 559Z" fill="#fff" stroke="#000" stroke-width="1" stroke-linejoin="round"/>
<path d="M269 556.5 L274 555 L275 560 L270.5 561Z" fill="#000" stroke="#000" stroke-width="0.5"/>
<path d="M124 367.5 C125.8 368.1 131.7 369.9 135 371 C138.3 372.1 141.9 372.9 144 374 C146.1 375.1 147 375.7 147.5 377.5 C148 379.3 147.4 382.1 147 385 C146.6 387.9 145.5 390.3 145 395 C144.5 399.7 143.6 408 143.8 413 C144 418 145.1 421 146 425 C146.9 429 148.3 432.5 149.5 437 C150.7 441.5 152.5 447.2 153 452 C153.5 456.8 152.6 463.7 152.5 466" fill="none" stroke="#000" stroke-width="3.2" stroke-linecap="butt" stroke-linejoin="round"/>
<path d="M124 367.5 C125.8 368.1 131.7 369.9 135 371 C138.3 372.1 141.9 372.9 144 374 C146.1 375.1 147 375.7 147.5 377.5 C148 379.3 147.4 382.1 147 385 C146.6 387.9 145.5 390.3 145 395 C144.5 399.7 143.6 408 143.8 413 C144 418 145.1 421 146 425 C146.9 429 148.3 432.5 149.5 437 C150.7 441.5 152.5 447.2 153 452 C153.5 456.8 152.6 463.7 152.5 466" fill="none" stroke="#fff" stroke-width="1.2" stroke-linecap="butt" stroke-linejoin="round"/>
<path d="M119 365 L123 362.5 L127 366.5 L123 369.5Z" fill="#fff" stroke="#000" stroke-width="1" stroke-linejoin="round"/>
<path d="M119.5 365.5 L122.5 363.5 L124.5 366 L121.5 368Z" fill="#000" stroke="#000" stroke-width="0.5"/>
<path d="M142 490 C142.2 488.5 142.2 483.9 143 481 C143.8 478.1 145.4 474.6 147 472.5 C148.6 470.4 150.7 468.8 152.5 468.5 C154.3 468.2 156.4 469.4 158 471 C159.6 472.6 161.4 475 162 478 C162.6 481 162.3 485.2 161.5 489 C160.7 492.8 158.4 497.2 157 501 C155.6 504.8 153.3 508.5 153 512 C152.7 515.5 153.5 518.2 155 522 C156.5 525.8 159.5 530.8 162 535 C164.5 539.2 167.3 543.5 170 547 C172.7 550.5 174.7 553 178 556 C181.3 559 185.5 561.7 190 565 C194.5 568.3 199.7 572.2 205 576 C210.3 579.8 216.5 583.8 222 588 C227.5 592.2 233.8 597.5 238 601 C242.2 604.5 245.5 607.7 247 609" fill="none" stroke="#000" stroke-width="6.6" stroke-linecap="butt" stroke-linejoin="round"/>
<path d="M142 490 C142.2 488.5 142.2 483.9 143 481 C143.8 478.1 145.4 474.6 147 472.5 C148.6 470.4 150.7 468.8 152.5 468.5 C154.3 468.2 156.4 469.4 158 471 C159.6 472.6 161.4 475 162 478 C162.6 481 162.3 485.2 161.5 489 C160.7 492.8 158.4 497.2 157 501 C155.6 504.8 153.3 508.5 153 512 C152.7 515.5 153.5 518.2 155 522 C156.5 525.8 159.5 530.8 162 535 C164.5 539.2 167.3 543.5 170 547 C172.7 550.5 174.7 553 178 556 C181.3 559 185.5 561.7 190 565 C194.5 568.3 199.7 572.2 205 576 C210.3 579.8 216.5 583.8 222 588 C227.5 592.2 233.8 597.5 238 601 C242.2 604.5 245.5 607.7 247 609" fill="none" stroke="#fff" stroke-width="4.6" stroke-linecap="butt" stroke-linejoin="round"/>
<path d="M196 498 C194.2 500.8 188.2 509.3 185 515 C181.8 520.7 179 526.8 177 532 C175 537.2 173.2 542.7 173 546 C172.8 549.3 175.5 551 176 552" fill="none" stroke="#000" stroke-width="9.5" stroke-linecap="butt" stroke-linejoin="round"/>
<path d="M196 498 C194.2 500.8 188.2 509.3 185 515 C181.8 520.7 179 526.8 177 532 C175 537.2 173.2 542.7 173 546 C172.8 549.3 175.5 551 176 552" fill="none" stroke="#fff" stroke-width="7.5" stroke-linecap="butt" stroke-linejoin="round"/>
<path d="M170 547 C171.3 548.5 174.7 553 178 556 C181.3 559 185.5 561.7 190 565 C194.5 568.3 199.7 572.2 205 576 C210.3 579.8 216.5 583.8 222 588 C227.5 592.2 233.8 597.5 238 601 C242.2 604.5 245.5 607.7 247 609" fill="none" stroke="#000" stroke-width="7.6" stroke-linecap="butt" stroke-linejoin="round"/>
<path d="M170 547 C171.3 548.5 174.7 553 178 556 C181.3 559 185.5 561.7 190 565 C194.5 568.3 199.7 572.2 205 576 C210.3 579.8 216.5 583.8 222 588 C227.5 592.2 233.8 597.5 238 601 C242.2 604.5 245.5 607.7 247 609" fill="none" stroke="#fff" stroke-width="5.6" stroke-linecap="butt" stroke-linejoin="round"/>
<path d="M118 495 C119 494 121.8 490.9 124 489 C126.2 487.1 128.2 485.1 131 483.5 C133.8 481.9 136.8 480.5 141 479.5 C145.2 478.5 150.8 477.8 156 477.5 C161.2 477.2 167 477.6 172 478 C177 478.4 182 479 186 480 C190 481 194.3 483.3 196 484" fill="none" stroke="#000" stroke-width="4.6" stroke-linecap="butt" stroke-linejoin="round"/>
<path d="M118 495 C119 494 121.8 490.9 124 489 C126.2 487.1 128.2 485.1 131 483.5 C133.8 481.9 136.8 480.5 141 479.5 C145.2 478.5 150.8 477.8 156 477.5 C161.2 477.2 167 477.6 172 478 C177 478.4 182 479 186 480 C190 481 194.3 483.3 196 484" fill="none" stroke="#fff" stroke-width="2.6" stroke-linecap="butt" stroke-linejoin="round"/>
<path d="M131 488 C132.8 487.3 137.8 485 142 484 C146.2 483 151 482.2 156 482 C161 481.8 169.3 482.8 172 483" fill="none" stroke="#000" stroke-width="1" stroke-linejoin="round"/>
<path d="M148.5 508.5 L157 507 L158.5 514 L150 516Z" fill="#fff" stroke="#000" stroke-width="1" stroke-linejoin="round"/>
<path d="M141.5 510 L148 509 L149 515 L142.5 516Z" fill="#000" stroke="#000" stroke-width="0.5"/>
<path d="M139 508 L143 511" fill="none" stroke="#000" stroke-width="1"/>
<path d="M184 468 L189 467 L190 476 L185.5 477Z" fill="#000" stroke="#000" stroke-width="0.5"/>
<path d="M188 471 L194 469.5 L195.5 476 L190 478Z" fill="#fff" stroke="#000" stroke-width="1" stroke-linejoin="round"/>
<path d="M183 466 L187 463 M190 470 L194 466" fill="none" stroke="#000" stroke-width="1"/>
<g transform="translate(201 481) rotate(-40) scale(0.7)"><path d="M-2.5 -4.5 L2.5 -4.5 L3.5 4 L-1.5 5Z" fill="#fff" stroke="#000" stroke-width="1.43"/><path d="M-1.5 5 L-1 8.5 L3 8 L3.5 4" fill="#fff" stroke="#000" stroke-width="1.71"/></g>
<path d="M134.5 490 L141 488 L143.5 494 L137 497Z" fill="#fff" stroke="#000" stroke-width="1" stroke-linejoin="round"/>
<ellipse cx="143" cy="494.5" rx="2" ry="2" fill="#fff" stroke="#000" stroke-width="1"/>
<path d="M127 494 C127.7 495.2 129.3 499.7 131 501 C132.7 502.3 135.3 502.5 137 502 C138.7 501.5 140.3 498.7 141 498" fill="none" stroke="#000" stroke-width="1" stroke-linejoin="round"/>
<path d="M101 428 C99.2 428.1 93.5 427.9 90 428.5 C86.5 429.1 82.8 429.9 80 431.5 C77.2 433.1 74.7 435.4 73 438 C71.3 440.6 70.4 443.7 70 447 C69.6 450.3 69.8 454.2 70.5 458 C71.2 461.8 72.4 466.2 74 470 C75.6 473.8 79 479.2 80 481" fill="none" stroke="#000" stroke-width="3.6" stroke-linecap="butt" stroke-linejoin="round"/>
<path d="M101 428 C99.2 428.1 93.5 427.9 90 428.5 C86.5 429.1 82.8 429.9 80 431.5 C77.2 433.1 74.7 435.4 73 438 C71.3 440.6 70.4 443.7 70 447 C69.6 450.3 69.8 454.2 70.5 458 C71.2 461.8 72.4 466.2 74 470 C75.6 473.8 79 479.2 80 481" fill="none" stroke="#fff" stroke-width="1.6" stroke-linecap="butt" stroke-linejoin="round"/>
<path d="M101 424.6 L111 424.6 L111 431.2 L101 431.2Z" fill="#fff" stroke="#000" stroke-width="1" stroke-linejoin="round"/>
<path d="M112.5 422.8 L119 422.8 L119 433.6 L112.5 433.6Z" fill="#fff" stroke="#000" stroke-width="1" stroke-linejoin="round"/>
<path d="M119 424.6 L128 424.6 L128 433 L119 433Z" fill="#fff" stroke="#000" stroke-width="1" stroke-linejoin="round"/>
<path d="M111 428 L112.5 428" fill="none" stroke="#000" stroke-width="1"/>
<path d="M11.6 477.6 C12.8 478.3 17.1 479.9 19 482 C20.9 484.1 21.7 487.3 23 490 C24.3 492.7 24.2 495.7 27 498 C29.8 500.3 35.2 501.8 40 504 C44.8 506.2 53.3 510.2 56 511.5" fill="none" stroke="#000" stroke-width="2.4" stroke-linecap="butt" stroke-linejoin="round"/>
<path d="M11.6 477.6 C12.8 478.3 17.1 479.9 19 482 C20.9 484.1 21.7 487.3 23 490 C24.3 492.7 24.2 495.7 27 498 C29.8 500.3 35.2 501.8 40 504 C44.8 506.2 53.3 510.2 56 511.5" fill="none" stroke="#fff" stroke-width="1" stroke-linecap="butt" stroke-linejoin="round"/>
<path d="M2.6 474.5 L10.5 473 L12 478 L4 479.8Z" fill="#fff" stroke="#000" stroke-width="1" stroke-linejoin="round"/>
<path d="M25 494 L29 492.5 L31 499 L27 501Z" fill="#fff" stroke="#000" stroke-width="1" stroke-linejoin="round"/>
<path d="M27 501 L28 505" fill="none" stroke="#000" stroke-width="1"/>
<path d="M56 516 C55.8 514.2 54.7 508.2 55 505 C55.3 501.8 56.5 499.5 58 497 C59.5 494.5 61.5 492.3 64 490 C66.5 487.7 69.7 485.5 73 483 C76.3 480.5 82.2 476.3 84 475" fill="none" stroke="#000" stroke-width="1" stroke-linejoin="round"/>
<path d="M59 517 C59 515.3 58.5 509.8 59 507 C59.5 504.2 60.5 502.3 62 500 C63.5 497.7 65.5 495.2 68 493 C70.5 490.8 75.5 488 77 487" fill="none" stroke="#000" stroke-width="1" stroke-linejoin="round"/>
<path d="M56 516 C56.5 516.8 57.2 519.7 59 520.5 C60.8 521.3 64 521.8 67 521 C70 520.2 73.5 518.1 77 516 C80.5 513.9 86.2 509.8 88 508.5" fill="none" stroke="#000" stroke-width="1" stroke-linejoin="round"/>
<path d="M60 513 C61.2 513.5 64.3 516.2 67 516 C69.7 515.8 74.5 512.7 76 512" fill="none" stroke="#000" stroke-width="1" stroke-linejoin="round"/>
<path d="M72.6 494.5 L85.3 487 L85.3 505 L72.6 512.5Z" fill="#fff" stroke="#000" stroke-width="1" stroke-linejoin="round"/>
<path d="M73.5 494.5 L73.5 511.5 L85.3 505" fill="none" stroke="#000" stroke-width="2"/>
<path d="M74 514.5 L90 504.5 M76 517.5 L91 508" fill="none" stroke="#000" stroke-width="1"/>
<path d="M56 497 L61 494 L63 498 L58 502Z" fill="#fff" stroke="#000" stroke-width="1" stroke-linejoin="round"/>
<path d="M92 466 C93.3 464.4 95.8 463.2 98 462.5 C100.2 461.8 103 461.6 105 462 C107 462.4 109.1 463.3 110 465 C110.9 466.7 110.8 469.5 110.5 472 C110.2 474.5 108.2 477.3 108 480 C107.8 482.7 109.5 485.5 109 488 C108.5 490.5 106.8 493.3 105 495 C103.2 496.7 100.2 497.8 98 498 C95.8 498.2 93.5 497.5 92 496 C90.5 494.5 89.2 491.7 89 489 C88.8 486.3 90.8 482.8 91 480 C91.2 477.2 89.8 474.3 90 472 C90.2 469.7 90.7 467.6 92 466Z" fill="#fff" stroke="#000" stroke-width="1" stroke-linejoin="round"/>
<path d="M93 469 L99 466 L104 468 L109 466 M94 474 L100 471 L105 474 L109 472 M93 480 L99 478 L104 481 L108 479 M94 486 L99 484 L104 487 L107 485 M95 492 L101 491 L105 492 M97 466 L96 496 M102 464 L101.5 497 M106 465 L105 494" fill="none" stroke="#000" stroke-width="1.5"/>
<path d="M97 463 L101 461.5 L102 466 L98 467.5Z" fill="#000" stroke="#000" stroke-width="0.5"/>
<path d="M103 470 L107 469 L107.5 474 L103.5 475Z" fill="#000" stroke="#000" stroke-width="0.5"/>
<path d="M94 476 L98 475 L98.5 480 L94.5 481Z" fill="#000" stroke="#000" stroke-width="0.5"/>
<path d="M100 483 L104 482 L104.5 488 L100.5 489Z" fill="#000" stroke="#000" stroke-width="0.5"/>
<path d="M105 461 L108 460 L110 463 L107 464Z" fill="#000" stroke="#000" stroke-width="0.5"/>
<path d="M83 468 L88 465 L91 469 L90 487 L85 490 L83 486Z" fill="#fff" stroke="#000" stroke-width="1" stroke-linejoin="round"/>
<path d="M83 468 L86 470.5 L91 469 M86 470.5 L85.5 489.5" fill="none" stroke="#000" stroke-width="1"/>
<path d="M86 491 L91 489 L93 495 L88 498Z" fill="#fff" stroke="#000" stroke-width="1" stroke-linejoin="round"/>
<path d="M82 482 L86 480 L89 495 L85 497Z" fill="#000" stroke="#000" stroke-width="0.5"/>
<path d="M103.5 499.5 L105 491 L106.5 485.5 L118 488.5 L127 492.5 L130.5 496 L126 503.5 L116 508 L109 505.5Z" fill="#fff" stroke="#000" stroke-width="1" stroke-linejoin="round"/>
<path d="M118 488.5 L117 500 L105 498 M117 500 L126 503.5 M108 481 L114 482.5 L114 487.5" fill="none" stroke="#000" stroke-width="1"/>
<path d="M112 501.5 L119 500 L121 503 L114 505.5Z" fill="#000" stroke="#000" stroke-width="0.5"/>
<path d="M120 492 L126 494.5 M120 495 L125 497" fill="none" stroke="#000" stroke-width="1"/>
<path d="M59 561 L66.6 535 L74.4 561 M61.8 552 H71.7" fill="none" stroke="#000" stroke-width="1.1"/>
<path d="M87.8 523.3 L100.7 530.6 L96.5 532.3 L98.3 547 L87 546.5 L84.8 535 L78 536Z" fill="#000" stroke="#000" stroke-width="0.5"/>
<path d="M88 528 L90 545 M91.5 529 L93.5 545.5 M95 531 L96.5 545.5 M85 533 L97 531 M86 539 L97.5 537.5 M86.5 543.5 L98 542" fill="none" stroke="#fff" stroke-width="0.6" stroke-dasharray="1 2.2"/>
<path d="M178 556 L186 561 L184 572 L181 575 L176 571Z" fill="#fff" stroke="#000" stroke-width="1" stroke-linejoin="round"/>
<path d="M176 571 L181 575 L180 579 L175.5 576Z" fill="#000" stroke="#000" stroke-width="0.5"/>
<path d="M200 552 C200.5 553.3 202.3 556.8 203 560 C203.7 563.2 203.8 569.2 204 571" fill="none" stroke="#000" stroke-width="2.4" stroke-linecap="butt" stroke-linejoin="round"/>
<path d="M200 552 C200.5 553.3 202.3 556.8 203 560 C203.7 563.2 203.8 569.2 204 571" fill="none" stroke="#fff" stroke-width="1" stroke-linecap="butt" stroke-linejoin="round"/>
<path d="M197 549 L203 547 L206 551 L204.5 555.5 L199 556.5Z" fill="#fff" stroke="#000" stroke-width="1" stroke-linejoin="round"/>
<path d="M217 585 L225.5 581 L229 589 L221 594Z" fill="#fff" stroke="#000" stroke-width="1" stroke-linejoin="round"/>
<path d="M221 594 L220 600 M225 592 L224.5 598.5" fill="none" stroke="#000" stroke-width="1"/>
<path d="M215.5 598 L221 596 L222 601 L217 603Z" fill="#000" stroke="#000" stroke-width="0.5"/>
<path d="M221 601 L225 600" fill="none" stroke="#000" stroke-width="1"/>
<path d="M166.5 572 C166.2 573 165.9 576.2 165 578 C164.1 579.8 161.8 581 161 583 C160.2 585 159.2 587.7 160 590 C160.8 592.3 164 595 166 597 C168 599 171 601.2 172 602" fill="none" stroke="#000" stroke-width="1.3" stroke-linejoin="round"/>
<path d="M165 570 L167.5 569 L168 574 L165.5 575Z" fill="#000" stroke="#000" stroke-width="0.5"/>
<path d="M169 585 L181 587 L183 592 L171 590Z" fill="#fff" stroke="#000" stroke-width="1" stroke-linejoin="round"/>
<path d="M172 587 L178 588 L179 590.5 L173 589.5Z" fill="#000" stroke="#000" stroke-width="0.5"/>
<path d="M173 593 L180 594 L179 602 L173 600Z" fill="#fff" stroke="#000" stroke-width="1" stroke-linejoin="round"/>
<path d="M178 600 L186 602 L189 607 L181 605.5Z" fill="#000" stroke="#000" stroke-width="0.5"/>
<path d="M189 590 L195 591.5 L193 599 L188 597.5Z" fill="#fff" stroke="#000" stroke-width="1" stroke-linejoin="round"/>
<path d="M190 592 L193.5 593 L192.5 597 L189.5 596Z" fill="#000" stroke="#000" stroke-width="0.5"/>
<path d="M172 610 L178 609 L180 615 L174 616.5Z" fill="#fff" stroke="#000" stroke-width="1" stroke-linejoin="round"/>
<path d="M174 612 L178 611 L179 615 L175 616Z" fill="#000" stroke="#000" stroke-width="0.5"/>
<path d="M181 612 L190 616 L193 621 L184 618Z" fill="#000" stroke="#000" stroke-width="0.5"/>
<path d="M175 604 L183 612 M178 603 L188 611" fill="none" stroke="#000" stroke-width="1"/>
<ellipse cx="196" cy="622.5" rx="9" ry="6" fill="none" stroke="#000" stroke-width="1" transform="rotate(15 196 622.5)"/>
<ellipse cx="196" cy="622.5" rx="7" ry="4.2" fill="none" stroke="#000" stroke-width="1" transform="rotate(15 196 622.5)"/>
<path d="M170 586L182 590 M171 596L181 599 M176 606L186 612 M183 593L192 597" fill="none" stroke="#000" stroke-width="1.5"/>
<path d="M183 586 L187 585 L189 592 L185 593Z" fill="#000" stroke="#000" stroke-width="0.5"/>
<path d="M168 600 L172 599 L173 604 L169 605Z" fill="#000" stroke="#000" stroke-width="0.5"/>
<path d="M156.5 614 C156.8 615.2 157.2 618.7 158 621 C158.8 623.3 159.8 626 161 628 C162.2 630 164.3 632.2 165 633" fill="none" stroke="#000" stroke-width="2.2" stroke-linecap="butt" stroke-linejoin="round"/>
<path d="M156.5 614 C156.8 615.2 157.2 618.7 158 621 C158.8 623.3 159.8 626 161 628 C162.2 630 164.3 632.2 165 633" fill="none" stroke="#fff" stroke-width="1" stroke-linecap="butt" stroke-linejoin="round"/>
<path d="M153 609 L158.5 607.5 L160 612 L155 614.5Z" fill="#fff" stroke="#000" stroke-width="1" stroke-linejoin="round"/>
<path d="M166 636 C169.2 636.8 178.5 639.8 185 641 C191.5 642.2 198.8 643.4 205 643.5 C211.2 643.6 216.2 642.8 222 641.5 C227.8 640.2 233.3 638.5 240 636 C246.7 633.5 253.7 630.8 262 626.5 C270.3 622.2 281.3 615 290 610 C298.7 605 306.3 601 314 596.5 C321.7 592 329.5 587.2 336 583 C342.5 578.8 348.2 575.3 353 571.5 C357.8 567.7 361.8 563.6 365 560 C368.2 556.4 370.8 551.7 372 550" fill="none" stroke="#000" stroke-width="2.6" stroke-linecap="butt" stroke-linejoin="round"/>
<path d="M166 636 C169.2 636.8 178.5 639.8 185 641 C191.5 642.2 198.8 643.4 205 643.5 C211.2 643.6 216.2 642.8 222 641.5 C227.8 640.2 233.3 638.5 240 636 C246.7 633.5 253.7 630.8 262 626.5 C270.3 622.2 281.3 615 290 610 C298.7 605 306.3 601 314 596.5 C321.7 592 329.5 587.2 336 583 C342.5 578.8 348.2 575.3 353 571.5 C357.8 567.7 361.8 563.6 365 560 C368.2 556.4 370.8 551.7 372 550" fill="none" stroke="#fff" stroke-width="1" stroke-linecap="butt" stroke-linejoin="round"/>
<path d="M186 620 C187.5 621.3 192 625.9 195 628 C198 630.1 200.8 631.5 204 632.5 C207.2 633.5 210.7 634.3 214 634 C217.3 633.7 220.3 632.4 224 630.5 C227.7 628.6 232 625.3 236 622.5 C240 619.7 244 616.4 248 613.5 C252 610.6 256 607.8 260 605 C264 602.2 270 597.9 272 596.5" fill="none" stroke="#000" stroke-width="4.2" stroke-linecap="butt" stroke-linejoin="round"/>
<path d="M186 620 C187.5 621.3 192 625.9 195 628 C198 630.1 200.8 631.5 204 632.5 C207.2 633.5 210.7 634.3 214 634 C217.3 633.7 220.3 632.4 224 630.5 C227.7 628.6 232 625.3 236 622.5 C240 619.7 244 616.4 248 613.5 C252 610.6 256 607.8 260 605 C264 602.2 270 597.9 272 596.5" fill="none" stroke="#fff" stroke-width="2.2" stroke-linecap="butt" stroke-linejoin="round"/>
<path d="M247 609 C249.5 607.2 256.8 602.2 262 598.5 C267.2 594.8 273 590.7 278 587 C283 583.3 287.3 580.2 292 576.5 C296.7 572.8 301.5 569.1 306 565 C310.5 560.9 314.7 556.5 319 552 C323.3 547.5 328 542.2 332 538 C336 533.8 339.7 529.4 343 526.5 C346.3 523.6 349.2 521.4 352 520.5 C354.8 519.6 357.5 519.9 360 521 C362.5 522.1 364.8 524.3 367 527 C369.2 529.7 371.4 533.5 373 537 C374.6 540.5 375.9 546.2 376.5 548" fill="none" stroke="#000" stroke-width="7.6" stroke-linecap="butt" stroke-linejoin="round"/>
<path d="M247 609 C249.5 607.2 256.8 602.2 262 598.5 C267.2 594.8 273 590.7 278 587 C283 583.3 287.3 580.2 292 576.5 C296.7 572.8 301.5 569.1 306 565 C310.5 560.9 314.7 556.5 319 552 C323.3 547.5 328 542.2 332 538 C336 533.8 339.7 529.4 343 526.5 C346.3 523.6 349.2 521.4 352 520.5 C354.8 519.6 357.5 519.9 360 521 C362.5 522.1 364.8 524.3 367 527 C369.2 529.7 371.4 533.5 373 537 C374.6 540.5 375.9 546.2 376.5 548" fill="none" stroke="#fff" stroke-width="5.6" stroke-linecap="butt" stroke-linejoin="round"/>
<path d="M238 601 C239.5 602.3 243 609.4 247 609 C251 608.6 259.5 600.2 262 598.5" fill="none" stroke="#000" stroke-width="7.6" stroke-linecap="butt" stroke-linejoin="round"/>
<path d="M238 601 C239.5 602.3 243 609.4 247 609 C251 608.6 259.5 600.2 262 598.5" fill="none" stroke="#fff" stroke-width="5.6" stroke-linecap="butt" stroke-linejoin="round"/>
<path d="M237 662 C240 660.5 248.8 656.2 255 653 C261.2 649.8 267.5 646.8 274 643 C280.5 639.2 286.7 635 294 630 C301.3 625 309.7 618.7 318 613 C326.3 607.3 336.7 600.5 344 596 C351.3 591.5 355.3 588.9 362 586 C368.7 583.1 378.2 580.2 384 578.5 C389.8 576.8 394.8 576 397 575.5" fill="none" stroke="#000" stroke-width="2.4" stroke-linecap="butt" stroke-linejoin="round"/>
<path d="M237 662 C240 660.5 248.8 656.2 255 653 C261.2 649.8 267.5 646.8 274 643 C280.5 639.2 286.7 635 294 630 C301.3 625 309.7 618.7 318 613 C326.3 607.3 336.7 600.5 344 596 C351.3 591.5 355.3 588.9 362 586 C368.7 583.1 378.2 580.2 384 578.5 C389.8 576.8 394.8 576 397 575.5" fill="none" stroke="#fff" stroke-width="1" stroke-linecap="butt" stroke-linejoin="round"/>
<path d="M228 662 L235 658.5 L239 663 L238 671 L231 674 L228 670Z" fill="#fff" stroke="#000" stroke-width="1" stroke-linejoin="round"/>
<path d="M231.5 665 L235 663.5 L234.5 670.5" fill="none" stroke="#000" stroke-width="1"/>
<path d="M397 574 L401.5 572.5 L402.5 576 L398 577.5Z" fill="#000" stroke="#000" stroke-width="0.5"/>
<ellipse cx="166" cy="635.6" rx="4.6" ry="6" fill="#fff" stroke="#000" stroke-width="1" transform="rotate(-25 166 635.6)"/>
<ellipse cx="166" cy="635.6" rx="2.8" ry="4" fill="#fff" stroke="#000" stroke-width="1" transform="rotate(-25 166 635.6)"/>
<ellipse cx="214" cy="643" rx="4.6" ry="6" fill="#fff" stroke="#000" stroke-width="1" transform="rotate(-25 214 643)"/>
<ellipse cx="214" cy="643" rx="2.8" ry="4" fill="#fff" stroke="#000" stroke-width="1" transform="rotate(-25 214 643)"/>
<ellipse cx="263.5" cy="626.5" rx="4.6" ry="6" fill="#fff" stroke="#000" stroke-width="1" transform="rotate(-25 263.5 626.5)"/>
<ellipse cx="263.5" cy="626.5" rx="2.8" ry="4" fill="#fff" stroke="#000" stroke-width="1" transform="rotate(-25 263.5 626.5)"/>
<ellipse cx="317" cy="597.5" rx="4.6" ry="6" fill="#fff" stroke="#000" stroke-width="1" transform="rotate(-25 317 597.5)"/>
<ellipse cx="317" cy="597.5" rx="2.8" ry="4" fill="#fff" stroke="#000" stroke-width="1" transform="rotate(-25 317 597.5)"/>
<path d="M290 640 L296 638 L299 652 L293 654Z" fill="#000" stroke="#000" stroke-width="0.5"/>
<path d="M294 644 L300 642 L302 650 L296 652Z" fill="#fff" stroke="#000" stroke-width="1" stroke-linejoin="round"/>
<path d="M289 643 L286 647 M298 653 L301 656" fill="none" stroke="#000" stroke-width="1"/>
<path d="M268 603 L273 600.5 L275 604 L270 606.5Z" fill="#fff" stroke="#000" stroke-width="1" stroke-linejoin="round"/>
<path d="M262 608 L268 604.5" fill="none" stroke="#000" stroke-width="1"/>
<path d="M229 671 C228.5 672.2 226.2 675.5 226 678 C225.8 680.5 226 683.5 228 686 C230 688.5 234.5 690.5 238 693 C241.5 695.5 245.8 698.2 249 701 C252.2 703.8 255.7 708.5 257 710" fill="none" stroke="#000" stroke-width="2.6" stroke-linecap="butt" stroke-linejoin="round"/>
<path d="M229 671 C228.5 672.2 226.2 675.5 226 678 C225.8 680.5 226 683.5 228 686 C230 688.5 234.5 690.5 238 693 C241.5 695.5 245.8 698.2 249 701 C252.2 703.8 255.7 708.5 257 710" fill="none" stroke="#fff" stroke-width="1" stroke-linecap="butt" stroke-linejoin="round"/>
<path d="M232 673 C231.8 674.5 230.3 679.2 231 682 C231.7 684.8 233.5 687.5 236 690 C238.5 692.5 242.7 694.7 246 697 C249.3 699.3 253.3 701.5 256 704 C258.7 706.5 261 710.7 262 712" fill="none" stroke="#000" stroke-width="1" stroke-linejoin="round"/>
<path d="M252 713 L259 711 L262 715.5 L255 718Z" fill="#fff" stroke="#000" stroke-width="1" stroke-linejoin="round"/>
<path d="M255 718 L262 715.5 L263 720 L256 722.5Z" fill="#fff" stroke="#000" stroke-width="1" stroke-linejoin="round"/>
<path d="M238 720 L243 717.5 L246 721 L241 724Z" fill="#000" stroke="#000" stroke-width="0.5"/>
<path d="M240 725 L244 723 L246 727 L242 729Z" fill="#000" stroke="#000" stroke-width="0.5"/>
<path d="M426.6 557 L429.5 565.5 M475 579.7 L470.7 591 M382.5 648 L425 673.6" fill="none" stroke="#000" stroke-width="1"/>
<path d="M425.5 674 L412.3 668.8 L414.8 664.7Z" fill="#000" stroke="#000" stroke-width="0.5"/>
<path d="M376.5 548 C376.2 550 376.1 555.8 375 560 C373.9 564.2 372.3 569.2 370 573 C367.7 576.8 364.3 580.2 361 583 C357.7 585.8 353.5 587.7 350 590 C346.5 592.3 343.2 594.5 340 597 C336.8 599.5 332.5 603.7 331 605" fill="none" stroke="#000" stroke-width="8.6" stroke-linecap="butt" stroke-linejoin="round"/>
<path d="M376.5 548 C376.2 550 376.1 555.8 375 560 C373.9 564.2 372.3 569.2 370 573 C367.7 576.8 364.3 580.2 361 583 C357.7 585.8 353.5 587.7 350 590 C346.5 592.3 343.2 594.5 340 597 C336.8 599.5 332.5 603.7 331 605" fill="none" stroke="#fff" stroke-width="6.6" stroke-linecap="butt" stroke-linejoin="round"/>
<path d="M377 546 C378.3 544.2 382.2 538 385 535 C387.8 532 390 530 394 528 C398 526 403.8 524.2 409 523 C414.2 521.8 420.3 520.8 425 521 C429.7 521.2 433.2 522.3 437 524 C440.8 525.7 443.3 527.9 448 531 C452.7 534.1 459.3 538.7 465 542.5 C470.7 546.3 476.3 550.2 482 554 C487.7 557.8 495.2 562.8 499 565.5 C502.8 568.2 504 569.2 505 570" fill="none" stroke="#000" stroke-width="8.6" stroke-linecap="butt" stroke-linejoin="round"/>
<path d="M377 546 C378.3 544.2 382.2 538 385 535 C387.8 532 390 530 394 528 C398 526 403.8 524.2 409 523 C414.2 521.8 420.3 520.8 425 521 C429.7 521.2 433.2 522.3 437 524 C440.8 525.7 443.3 527.9 448 531 C452.7 534.1 459.3 538.7 465 542.5 C470.7 546.3 476.3 550.2 482 554 C487.7 557.8 495.2 562.8 499 565.5 C502.8 568.2 504 569.2 505 570" fill="none" stroke="#fff" stroke-width="6.6" stroke-linecap="butt" stroke-linejoin="round"/>
<path d="M372 550 C373.3 548.3 377.3 542.8 380 540 C382.7 537.2 386.7 534.2 388 533" fill="none" stroke="#000" stroke-width="1" stroke-linejoin="round"/>
<path d="M401 537 L433.7 532.7 L448 542.7 L449.4 555.5 L405.3 557Z" fill="#fff" stroke="#000" stroke-width="1" stroke-linejoin="round"/>
<path d="M446 548 L449 551 L446.5 554" fill="none" stroke="#000" stroke-width="1"/>
<path d="M384 541 L390.5 540 L391 555 L385 556Z" fill="#fff" stroke="#000" stroke-width="1" stroke-linejoin="round"/>
<path d="M387 541 L387.5 555.5" fill="none" stroke="#000" stroke-width="1"/>
<ellipse cx="393" cy="557" rx="6.5" ry="3.6" fill="none" stroke="#000" stroke-width="1" transform="rotate(-25 393 557)"/>
<ellipse cx="393" cy="557" rx="4.6" ry="2" fill="none" stroke="#000" stroke-width="1" transform="rotate(-25 393 557)"/>
<path d="M470.5 549 L475.5 552 L475.5 562 L470.5 559Z" fill="#fff" stroke="#000" stroke-width="1" stroke-linejoin="round"/>
<path d="M476.5 553 L481.5 556 L481.5 566 L476.5 563Z" fill="#fff" stroke="#000" stroke-width="1" stroke-linejoin="round"/>
<path d="M470 563 L480 568.5 L478 580 L468 574.5Z" fill="#fff" stroke="#000" stroke-width="1" stroke-linejoin="round"/>
<path d="M395 527 C395.2 526.1 395.3 522.5 396 521.5 C396.7 520.5 398.2 520.2 399 521 C399.8 521.8 400.2 525.2 400.5 526" fill="none" stroke="#000" stroke-width="1" stroke-linejoin="round"/>
<path d="M316 603 L336 590 L345 595.5 L343 604 L323 617 L315 612Z" fill="#fff" stroke="#000" stroke-width="1" stroke-linejoin="round"/>
<ellipse cx="325.5" cy="606" rx="6" ry="2" fill="none" stroke="#000" stroke-width="1" transform="rotate(-33 325.5 606)"/>
<ellipse cx="336.5" cy="599" rx="6" ry="2" fill="none" stroke="#000" stroke-width="1" transform="rotate(-33 336.5 599)"/>
<path d="M316 603 L322 608 L343 604" fill="none" stroke="#000" stroke-width="1"/>
<path d="M316 617 C316.2 619.2 315.5 625.7 317 630 C318.5 634.3 321.7 639.3 325 643 C328.3 646.7 335 650.5 337 652" fill="none" stroke="#000" stroke-width="1" stroke-linejoin="round"/>
<path d="M319 617.9 C319.1 620 318.4 626.4 319.7 630.6 C321 634.8 323.8 639.3 326.8 643 C329.8 646.7 335.8 651.2 337.6 652.9" fill="none" stroke="#000" stroke-width="1" stroke-linejoin="round"/>
<path d="M322 618.8 C322.1 620.9 321.3 627.2 322.4 631.2 C323.5 635.2 326 639.2 328.6 643 C331.2 646.8 336.6 652 338.2 653.8" fill="none" stroke="#000" stroke-width="1" stroke-linejoin="round"/>
<path d="M325 619.7 C325 621.7 324.2 627.9 325.1 631.8 C326 635.7 328.1 639.2 330.4 643 C332.7 646.8 337.4 652.8 338.8 654.7" fill="none" stroke="#000" stroke-width="1" stroke-linejoin="round"/>
<path d="M336 648 L345 652 L345 658 L336 654Z" fill="#fff" stroke="#000" stroke-width="1" stroke-linejoin="round"/>
<path d="M338 656 L347 660 L347 666 L338 662Z" fill="#fff" stroke="#000" stroke-width="1" stroke-linejoin="round"/>
<path d="M345 652 L349 650.5 L349 656.5 L345 658Z" fill="#000" stroke="#000" stroke-width="0.5"/>
<path d="M347 660 L351 658.5 L351 664.5 L347 666Z" fill="#000" stroke="#000" stroke-width="0.5"/>
<path d="M324.5 617 L331 614.5 L338.5 618 L338.5 625 L332 627.5 L324.5 624Z" fill="#fff" stroke="#000" stroke-width="1" stroke-linejoin="round"/>
<path d="M324.5 617 L332 620.5 L338.5 618 M332 620.5 L332 627.5" fill="none" stroke="#000" stroke-width="1"/>
<path d="M336 624.5 L362 641 L360 650.5 L327 633.5Z" fill="#fff" stroke="#000" stroke-width="1" stroke-linejoin="round"/>
<path d="M331 629 L361 645.5" fill="none" stroke="#000" stroke-width="1"/>
<path d="M359.8 641 L388 629 L389.5 650 L361 663Z" fill="#fff" stroke="#000" stroke-width="1" stroke-linejoin="round"/>
<path d="M362 640 L364.8 638.8 L365.3 657 L362.5 658.2Z" fill="#fff" stroke="#000" stroke-width="1.3" stroke-linejoin="round"/>
<path d="M362.5 658.2 L362.6 661 M365.3 657 L365.4 659.5" fill="none" stroke="#000" stroke-width="1"/>
<path d="M366.5 638.1 L369.3 636.9 L369.8 655.1 L367 656.3Z" fill="#fff" stroke="#000" stroke-width="1.3" stroke-linejoin="round"/>
<path d="M367 656.3 L367.1 659.1 M369.8 655.1 L369.9 657.6" fill="none" stroke="#000" stroke-width="1"/>
<path d="M371 636.2 L373.8 635 L374.3 653.2 L371.5 654.4Z" fill="#fff" stroke="#000" stroke-width="1.3" stroke-linejoin="round"/>
<path d="M371.5 654.4 L371.6 657.2 M374.3 653.2 L374.4 655.7" fill="none" stroke="#000" stroke-width="1"/>
<path d="M375.5 634.3 L378.3 633.1 L378.8 651.3 L376 652.5Z" fill="#fff" stroke="#000" stroke-width="1.3" stroke-linejoin="round"/>
<path d="M376 652.5 L376.1 655.3 M378.8 651.3 L378.9 653.8" fill="none" stroke="#000" stroke-width="1"/>
<path d="M380 632.4 L382.8 631.2 L383.3 649.4 L380.5 650.6Z" fill="#fff" stroke="#000" stroke-width="1.3" stroke-linejoin="round"/>
<path d="M380.5 650.6 L380.6 653.4 M383.3 649.4 L383.4 651.9" fill="none" stroke="#000" stroke-width="1"/>
<path d="M384.5 630.5 L387.3 629.3 L387.8 647.5 L385 648.7Z" fill="#fff" stroke="#000" stroke-width="1.3" stroke-linejoin="round"/>
<path d="M385 648.7 L385.1 651.5 M387.8 647.5 L387.9 650" fill="none" stroke="#000" stroke-width="1"/>
<path d="M358.5 655 L361 654 L361.5 664 L359 665Z" fill="#000" stroke="#000" stroke-width="0.5"/>
<path d="M386 640 L389.5 638.5 L390 650 L387 651.5Z" fill="#000" stroke="#000" stroke-width="0.5"/>
<path d="M569.5 473.4 L542 502 M645.4 409.6 L744.6 466 L635.8 529.5 L670 553" fill="none" stroke="#000" stroke-width="1"/>
<path d="M645 409.4 L660.1 415.2 L657.7 419.4Z" fill="#000" stroke="#000" stroke-width="0.5"/>
<ellipse cx="536" cy="504" rx="0.7" ry="0.7" fill="#000" stroke="#000" stroke-width="1"/>
<path d="M519 478 C519.3 477.2 519.8 474.2 521 473 C522.2 471.8 524.7 470.5 526.5 470.5 C528.3 470.5 529.9 471.5 532 473 C534.1 474.5 536 476.8 539 479.5 C542 482.2 546.2 485.9 550 489 C553.8 492.1 557.8 494.7 562 498 C566.2 501.3 570.7 505.6 575 509 C579.3 512.4 583.7 516 588 518.5 C592.3 521 596.8 522.3 601 524 C605.2 525.7 609.7 527 613 528.5 C616.3 530 617.8 530.9 621 533 C624.2 535.1 627.2 537.8 632 541 C636.8 544.2 644 548.7 650 552.5 C656 556.3 663.3 561 668 564 C672.7 567 675 569.2 678 570.5 C681 571.8 683.8 572.5 686 572 C688.2 571.5 690.7 569.3 691.5 567.5 C692.3 565.7 691.9 562.8 691 561 C690.1 559.2 686.8 557.7 686 557" fill="none" stroke="#000" stroke-width="3" stroke-linecap="butt" stroke-linejoin="round"/>
<path d="M519 478 C519.3 477.2 519.8 474.2 521 473 C522.2 471.8 524.7 470.5 526.5 470.5 C528.3 470.5 529.9 471.5 532 473 C534.1 474.5 536 476.8 539 479.5 C542 482.2 546.2 485.9 550 489 C553.8 492.1 557.8 494.7 562 498 C566.2 501.3 570.7 505.6 575 509 C579.3 512.4 583.7 516 588 518.5 C592.3 521 596.8 522.3 601 524 C605.2 525.7 609.7 527 613 528.5 C616.3 530 617.8 530.9 621 533 C624.2 535.1 627.2 537.8 632 541 C636.8 544.2 644 548.7 650 552.5 C656 556.3 663.3 561 668 564 C672.7 567 675 569.2 678 570.5 C681 571.8 683.8 572.5 686 572 C688.2 571.5 690.7 569.3 691.5 567.5 C692.3 565.7 691.9 562.8 691 561 C690.1 559.2 686.8 557.7 686 557" fill="none" stroke="#fff" stroke-width="1" stroke-linecap="butt" stroke-linejoin="round"/>
<path d="M545.5 443 C545.6 445 545.7 450.8 546 455 C546.3 459.2 546.8 463.7 547.5 468 C548.2 472.3 549.1 477.3 550 481 C550.9 484.7 552.5 488.5 553 490" fill="none" stroke="#000" stroke-width="2.6" stroke-linecap="butt" stroke-linejoin="round"/>
<path d="M545.5 443 C545.6 445 545.7 450.8 546 455 C546.3 459.2 546.8 463.7 547.5 468 C548.2 472.3 549.1 477.3 550 481 C550.9 484.7 552.5 488.5 553 490" fill="none" stroke="#fff" stroke-width="1" stroke-linecap="butt" stroke-linejoin="round"/>
<ellipse cx="562" cy="435.5" rx="9.5" ry="4" fill="none" stroke="#000" stroke-width="1" transform="rotate(-5 562 435.5)"/>
<ellipse cx="562" cy="435.5" rx="7.5" ry="2.4" fill="none" stroke="#000" stroke-width="1" transform="rotate(-5 562 435.5)"/>
<path d="M549 434 L554 431.5 L556 434.5 L551 437.5Z" fill="#fff" stroke="#000" stroke-width="1" stroke-linejoin="round"/>
<path d="M541 439 L547 437 L549.5 442 L544 445Z" fill="#fff" stroke="#000" stroke-width="1" stroke-linejoin="round"/>
<ellipse cx="542" cy="442" rx="1.8" ry="1.8" fill="#fff" stroke="#000" stroke-width="1"/>
<path d="M550 432 L553 430.5 L555.5 435 L552.5 436.5Z" fill="#000" stroke="#000" stroke-width="0.5"/>
<path d="M525.5 478 L530 476 L532 480.5 L528 483Z" fill="#fff" stroke="#000" stroke-width="1" stroke-linejoin="round"/>
<ellipse cx="526.5" cy="481.5" rx="1.6" ry="1.6" fill="#fff" stroke="#000" stroke-width="1"/>
<g transform="translate(583.5 520) rotate(-20) scale(0.65)"><path d="M-2.5 -4.5 L2.5 -4.5 L3.5 4 L-1.5 5Z" fill="#fff" stroke="#000" stroke-width="1.54"/><path d="M-1.5 5 L-1 8.5 L3 8 L3.5 4" fill="#fff" stroke="#000" stroke-width="1.85"/></g>
<g transform="translate(627.5 543) rotate(-25) scale(0.6)"><path d="M-2.5 -4.5 L2.5 -4.5 L3.5 4 L-1.5 5Z" fill="#fff" stroke="#000" stroke-width="1.67"/><path d="M-1.5 5 L-1 8.5 L3 8 L3.5 4" fill="#fff" stroke="#000" stroke-width="2.00"/></g>
<path d="M591 534 L597 531 L600 536 L594 539Z" fill="#000" stroke="#000" stroke-width="0.5"/>
<path d="M590 538 L593 541 M597 531 L608 527 M600 536 L606 533" fill="none" stroke="#000" stroke-width="1"/>
<path d="M601 529 L606 527 L608 531 L603 533Z" fill="#fff" stroke="#000" stroke-width="1" stroke-linejoin="round"/>
<path d="M670 553.5 L675 551.5 L689 559 L688 563.5 L683 565 L670 558.5Z" fill="#fff" stroke="#000" stroke-width="1" stroke-linejoin="round"/>
<path d="M671 555 L674 553.5 L675.5 558 L672.5 559.5Z" fill="#000" stroke="#000" stroke-width="0.5"/>
<path d="M684 561 L687 560 L688 564 L685 565Z" fill="#000" stroke="#000" stroke-width="0.5"/>
<path d="M676 555 L686 561" fill="none" stroke="#000" stroke-width="1"/>
<path d="M521.4 731.6 L531.7 755 M505.9 764 L505.9 802.8 M505.9 764.5 L524 769.7 M505.9 774 L524 780 M505.9 783.5 L524 789.3 M505.9 793 L524 797.6 M505.9 802.8 L524 806.7 M493 778 L505.9 782 M493 808 L524 816 M493 829.4 L524 824.8 M493 851 L524 836.4 M511 874.7 L533 854.5 M496.8 890.8 L500 890.8 M559 780.8 L613 743.3 L650.8 770.5 L661 765 M645.6 802.8 L661 792.4 M615.8 782 L626 802 M586 809 L619.7 817 M602 823.5 L602 861 M602 823.5 L619.7 826 M602 833 L619.7 836 M602 842 L619.7 845.5 M602 851.5 L619.7 854.5 M602 861 L619.7 863.7 M586 839 L602 842 M586 868 L619.7 872 M584.8 896.7 L602 892.8" fill="none" stroke="#000" stroke-width="1"/>
<path d="M602 885.5 L619.7 881 L619.7 890.8 L602 896Z" fill="#fff" stroke="#000" stroke-width="1" stroke-linejoin="round"/>
<path d="M524 760 L531.7 755 L549.9 762.7 L542 769.3Z" fill="#fff" stroke="#000" stroke-width="1" stroke-linejoin="round"/>
<path d="M524 760 L542 769.3 L542 859.9 L524 846.8Z" fill="#fff" stroke="#000" stroke-width="1" stroke-linejoin="round"/>
<path d="M524 768.7 L542 778.4" fill="none" stroke="#000" stroke-width="1"/>
<path d="M524 777.4 L542 787.4" fill="none" stroke="#000" stroke-width="1"/>
<path d="M524 786 L542 796.5" fill="none" stroke="#000" stroke-width="1"/>
<path d="M524 794.7 L542 805.5" fill="none" stroke="#000" stroke-width="1"/>
<path d="M524 803.4 L542 814.6" fill="none" stroke="#000" stroke-width="1"/>
<path d="M524 812.1 L542 823.7" fill="none" stroke="#000" stroke-width="1"/>
<path d="M524 820.8 L542 832.7" fill="none" stroke="#000" stroke-width="1"/>
<path d="M524 829.4 L542 841.8" fill="none" stroke="#000" stroke-width="1"/>
<path d="M524 838.1 L542 850.8" fill="none" stroke="#000" stroke-width="1"/>
<path d="M542 769.3 L556.3 759.8 M542 773.8 L555.3 765.3 M556.3 759.8 L555.3 765.3" fill="none" stroke="#000" stroke-width="1"/>
<path d="M539.5 774.3 L544.5 774.3" fill="none" stroke="#000" stroke-width="1"/>
<path d="M542 778.4 L556.3 768.9 M542 782.9 L555.3 774.4 M556.3 768.9 L555.3 774.4" fill="none" stroke="#000" stroke-width="1"/>
<path d="M539.5 783.4 L544.5 783.4" fill="none" stroke="#000" stroke-width="1"/>
<path d="M542 787.4 L556.3 777.9 M542 791.9 L555.3 783.4 M556.3 777.9 L555.3 783.4" fill="none" stroke="#000" stroke-width="1"/>
<path d="M539.5 792.4 L544.5 792.4" fill="none" stroke="#000" stroke-width="1"/>
<path d="M542 796.5 L556.3 787 M542 801 L555.3 792.5 M556.3 787 L555.3 792.5" fill="none" stroke="#000" stroke-width="1"/>
<path d="M539.5 801.5 L544.5 801.5" fill="none" stroke="#000" stroke-width="1"/>
<path d="M542 805.5 L556.3 796 M542 810 L555.3 801.5 M556.3 796 L555.3 801.5" fill="none" stroke="#000" stroke-width="1"/>
<path d="M539.5 810.5 L544.5 810.5" fill="none" stroke="#000" stroke-width="1"/>
<path d="M542 814.6 L556.3 805.1 M542 819.1 L555.3 810.6 M556.3 805.1 L555.3 810.6" fill="none" stroke="#000" stroke-width="1"/>
<path d="M539.5 819.6 L544.5 819.6" fill="none" stroke="#000" stroke-width="1"/>
<path d="M542 823.7 L556.3 814.2 M542 828.2 L555.3 819.7 M556.3 814.2 L555.3 819.7" fill="none" stroke="#000" stroke-width="1"/>
<path d="M539.5 828.7 L544.5 828.7" fill="none" stroke="#000" stroke-width="1"/>
<path d="M542 832.7 L556.3 823.2 M542 837.2 L555.3 828.7 M556.3 823.2 L555.3 828.7" fill="none" stroke="#000" stroke-width="1"/>
<path d="M539.5 837.7 L544.5 837.7" fill="none" stroke="#000" stroke-width="1"/>
<path d="M542 841.8 L556.3 832.3 M542 846.3 L555.3 837.8 M556.3 832.3 L555.3 837.8" fill="none" stroke="#000" stroke-width="1"/>
<path d="M539.5 846.8 L544.5 846.8" fill="none" stroke="#000" stroke-width="1"/>
<path d="M542 850.8 L556.3 841.3 M542 855.3 L555.3 846.8 M556.3 841.3 L555.3 846.8" fill="none" stroke="#000" stroke-width="1"/>
<path d="M539.5 855.8 L544.5 855.8" fill="none" stroke="#000" stroke-width="1"/>
<path d="M542 859.9 L555.3 850.4" fill="none" stroke="#000" stroke-width="1"/>
<path d="M540.8 751 L544.5 748.5 L552 751.7 L548.5 757.4 L546 756.4 L547.5 753.5Z" fill="#fff" stroke="#000" stroke-width="1" stroke-linejoin="round"/>
<path d="M548.5 757.4 L552 751.7 L556.5 753.7 L555 760.3Z" fill="#fff" stroke="#000" stroke-width="1" stroke-linejoin="round"/>
<path d="M619.7 805.4 L627.4 800.4 L645.7 808.1 L637.8 815.7Z" fill="#fff" stroke="#000" stroke-width="1" stroke-linejoin="round"/>
<path d="M619.7 805.4 L637.8 815.7 L637.8 906.3 L619.7 893.3Z" fill="#fff" stroke="#000" stroke-width="1" stroke-linejoin="round"/>
<path d="M619.7 814.2 L637.8 824.8" fill="none" stroke="#000" stroke-width="1"/>
<path d="M619.7 823 L637.8 833.8" fill="none" stroke="#000" stroke-width="1"/>
<path d="M619.7 831.8 L637.8 842.9" fill="none" stroke="#000" stroke-width="1"/>
<path d="M619.7 840.6 L637.8 851.9" fill="none" stroke="#000" stroke-width="1"/>
<path d="M619.7 849.4 L637.8 861" fill="none" stroke="#000" stroke-width="1"/>
<path d="M619.7 858.1 L637.8 870.1" fill="none" stroke="#000" stroke-width="1"/>
<path d="M619.7 866.9 L637.8 879.1" fill="none" stroke="#000" stroke-width="1"/>
<path d="M619.7 875.7 L637.8 888.2" fill="none" stroke="#000" stroke-width="1"/>
<path d="M619.7 884.5 L637.8 897.2" fill="none" stroke="#000" stroke-width="1"/>
<path d="M637.8 815.7 L652 806.2 M637.8 820.2 L651 811.7 M652 806.2 L651 811.7" fill="none" stroke="#000" stroke-width="1"/>
<path d="M635.3 820.7 L640.3 820.7" fill="none" stroke="#000" stroke-width="1"/>
<path d="M637.8 824.8 L652 815.3 M637.8 829.3 L651 820.8 M652 815.3 L651 820.8" fill="none" stroke="#000" stroke-width="1"/>
<path d="M635.3 829.8 L640.3 829.8" fill="none" stroke="#000" stroke-width="1"/>
<path d="M637.8 833.8 L652 824.3 M637.8 838.3 L651 829.8 M652 824.3 L651 829.8" fill="none" stroke="#000" stroke-width="1"/>
<path d="M635.3 838.8 L640.3 838.8" fill="none" stroke="#000" stroke-width="1"/>
<path d="M637.8 842.9 L652 833.4 M637.8 847.4 L651 838.9 M652 833.4 L651 838.9" fill="none" stroke="#000" stroke-width="1"/>
<path d="M635.3 847.9 L640.3 847.9" fill="none" stroke="#000" stroke-width="1"/>
<path d="M637.8 851.9 L652 842.4 M637.8 856.4 L651 847.9 M652 842.4 L651 847.9" fill="none" stroke="#000" stroke-width="1"/>
<path d="M635.3 856.9 L640.3 856.9" fill="none" stroke="#000" stroke-width="1"/>
<path d="M637.8 861 L652 851.5 M637.8 865.5 L651 857 M652 851.5 L651 857" fill="none" stroke="#000" stroke-width="1"/>
<path d="M635.3 866 L640.3 866" fill="none" stroke="#000" stroke-width="1"/>
<path d="M637.8 870.1 L652 860.6 M637.8 874.6 L651 866.1 M652 860.6 L651 866.1" fill="none" stroke="#000" stroke-width="1"/>
<path d="M635.3 875.1 L640.3 875.1" fill="none" stroke="#000" stroke-width="1"/>
<path d="M637.8 879.1 L652 869.6 M637.8 883.6 L651 875.1 M652 869.6 L651 875.1" fill="none" stroke="#000" stroke-width="1"/>
<path d="M635.3 884.1 L640.3 884.1" fill="none" stroke="#000" stroke-width="1"/>
<path d="M637.8 888.2 L652 878.7 M637.8 892.7 L651 884.2 M652 878.7 L651 884.2" fill="none" stroke="#000" stroke-width="1"/>
<path d="M635.3 893.2 L640.3 893.2" fill="none" stroke="#000" stroke-width="1"/>
<path d="M637.8 897.2 L652 887.7 M637.8 901.7 L651 893.2 M652 887.7 L651 893.2" fill="none" stroke="#000" stroke-width="1"/>
<path d="M635.3 902.2 L640.3 902.2" fill="none" stroke="#000" stroke-width="1"/>
<path d="M637.8 906.3 L651 896.8" fill="none" stroke="#000" stroke-width="1"/>
<path d="M636.5 796.4 L640.2 793.9 L647.7 797.1 L644.2 802.8 L641.7 801.8 L643.2 798.9Z" fill="#fff" stroke="#000" stroke-width="1" stroke-linejoin="round"/>
<path d="M644.2 802.8 L647.7 797.1 L652.2 799.1 L650.7 805.7Z" fill="#fff" stroke="#000" stroke-width="1" stroke-linejoin="round"/>
<path d="M664.2 709.8 L699.4 683.9 L726.2 697.7 L755.8 723.6 L755.8 733.8 L741 744 L720.6 751.4 L705 757 L660.5 733.8 L660.5 720 L664.2 716.3Z" fill="#fff" stroke="#000" stroke-width="1" stroke-linejoin="round"/>
<path d="M698 686.5 L722.5 700.5 M728 702.5 L753 725 M699.4 683.9 L702 688 M664.2 716.3 L669.7 714.4 L669.7 717.2 L664.2 720 M668.8 719 L678 725.5 L713 703 M678 725.5 L682 734.7 L689 739.4 L728 711.6 M691 734.7 L707.7 744 M660.5 733.8 L668 728 L704 751 M755.8 723.6 L741 733.5 L720.6 747.7 M741 733.5 L741 744" fill="none" stroke="#000" stroke-width="1"/>
<ellipse cx="719.3" cy="707" rx="4.4" ry="7" fill="#fff" stroke="#000" stroke-width="1" transform="rotate(-22 719.3 707)"/>
<ellipse cx="719.8" cy="707.3" rx="2.6" ry="5" fill="#fff" stroke="#000" stroke-width="1" transform="rotate(-22 719.8 707.3)"/>
<path d="M704 744 L709.5 741 L718.8 747.7 L718.8 753 L712 757 L704 750.5Z" fill="#fff" stroke="#000" stroke-width="1" stroke-linejoin="round"/>
<path d="M704 744 L712 750.5 L718.8 747.7 M712 750.5 L712 757" fill="none" stroke="#000" stroke-width="1"/>
<path d="M720.6 747.7 L735.4 739.4 L741 744 L741 749.5 L726 758.8 L726 754Z" fill="#fff" stroke="#000" stroke-width="1" stroke-linejoin="round"/>
<path d="M726 754 L741 744" fill="none" stroke="#000" stroke-width="1"/>
<path d="M660.5 733.8 L705 757 L705 850 L693 856 L684.6 850 L676 842.5 L660.5 834.6Z" fill="#fff" stroke="#000" stroke-width="1" stroke-linejoin="round"/>
<path d="M705 757 L705 850 M713.2 757 L713.2 862 M720 750 L720 864 M725 756 L725 861 M737.3 751 L737.3 845 M660.5 746 L676 754.5 M676 754.5 L676 842.5 M684.6 762.5 L684.6 850 M684.6 762.5 L704 754 M676 754.5 L684.6 762.5" fill="none" stroke="#000" stroke-width="1"/>
<path d="M675 747.7 L677 746.5 L686.5 752.5 L686.5 757 L684.5 758 L675 752Z" fill="#fff" stroke="#000" stroke-width="1" stroke-linejoin="round"/>
<path d="M661 750.5 L668 755 L676 750.5 M668 755 L668 758.5 M661 754.5 L665 757 M669 749 L676 753" fill="none" stroke="#000" stroke-width="1"/>
<path d="M661 747.5 L665 750 L665 752.5 L661 750Z" fill="#000" stroke="#000" stroke-width="0.5"/>
<path d="M672.5 754 L676.5 752.3 L676.5 754.1Z" fill="#000" stroke="#000" stroke-width="0.5"/>
<path d="M661 759.5 L668 764 L676 759.5 M668 764 L668 767.5 M661 763.5 L665 766 M669 758 L676 762" fill="none" stroke="#000" stroke-width="1"/>
<path d="M661 756.5 L665 759 L665 761.5 L661 759Z" fill="#000" stroke="#000" stroke-width="0.5"/>
<path d="M672.5 763 L676.5 761.3 L676.5 763.1Z" fill="#000" stroke="#000" stroke-width="0.5"/>
<path d="M661 768.5 L668 773 L676 768.5 M668 773 L668 776.5 M661 772.5 L665 775 M669 767 L676 771" fill="none" stroke="#000" stroke-width="1"/>
<path d="M661 765.5 L665 768 L665 770.5 L661 768Z" fill="#000" stroke="#000" stroke-width="0.5"/>
<path d="M672.5 772 L676.5 770.3 L676.5 772.1Z" fill="#000" stroke="#000" stroke-width="0.5"/>
<path d="M661 777.5 L668 782 L676 777.5 M668 782 L668 785.5 M661 781.5 L665 784 M669 776 L676 780" fill="none" stroke="#000" stroke-width="1"/>
<path d="M661 774.5 L665 777 L665 779.5 L661 777Z" fill="#000" stroke="#000" stroke-width="0.5"/>
<path d="M672.5 781 L676.5 779.3 L676.5 781.1Z" fill="#000" stroke="#000" stroke-width="0.5"/>
<path d="M661 786.5 L668 791 L676 786.5 M668 791 L668 794.5 M661 790.5 L665 793 M669 785 L676 789" fill="none" stroke="#000" stroke-width="1"/>
<path d="M661 783.5 L665 786 L665 788.5 L661 786Z" fill="#000" stroke="#000" stroke-width="0.5"/>
<path d="M672.5 790 L676.5 788.3 L676.5 790.1Z" fill="#000" stroke="#000" stroke-width="0.5"/>
<path d="M661 795.5 L668 800 L676 795.5 M668 800 L668 803.5 M661 799.5 L665 802 M669 794 L676 798" fill="none" stroke="#000" stroke-width="1"/>
<path d="M661 792.5 L665 795 L665 797.5 L661 795Z" fill="#000" stroke="#000" stroke-width="0.5"/>
<path d="M672.5 799 L676.5 797.3 L676.5 799.1Z" fill="#000" stroke="#000" stroke-width="0.5"/>
<path d="M661 804.5 L668 809 L676 804.5 M668 809 L668 812.5 M661 808.5 L665 811 M669 803 L676 807" fill="none" stroke="#000" stroke-width="1"/>
<path d="M661 801.5 L665 804 L665 806.5 L661 804Z" fill="#000" stroke="#000" stroke-width="0.5"/>
<path d="M672.5 808 L676.5 806.3 L676.5 808.1Z" fill="#000" stroke="#000" stroke-width="0.5"/>
<path d="M661 813.5 L668 818 L676 813.5 M668 818 L668 821.5 M661 817.5 L665 820 M669 812 L676 816" fill="none" stroke="#000" stroke-width="1"/>
<path d="M661 810.5 L665 813 L665 815.5 L661 813Z" fill="#000" stroke="#000" stroke-width="0.5"/>
<path d="M672.5 817 L676.5 815.3 L676.5 817.1Z" fill="#000" stroke="#000" stroke-width="0.5"/>
<path d="M661 822.5 L668 827 L676 822.5 M668 827 L668 830.5 M661 826.5 L665 829 M669 821 L676 825" fill="none" stroke="#000" stroke-width="1"/>
<path d="M661 819.5 L665 822 L665 824.5 L661 822Z" fill="#000" stroke="#000" stroke-width="0.5"/>
<path d="M672.5 826 L676.5 824.3 L676.5 826.1Z" fill="#000" stroke="#000" stroke-width="0.5"/>
<path d="M661 831.5 L668 836 L676 831.5 M668 836 L668 839.5 M661 835.5 L665 838 M669 830 L676 834" fill="none" stroke="#000" stroke-width="1"/>
<path d="M661 828.5 L665 831 L665 833.5 L661 831Z" fill="#000" stroke="#000" stroke-width="0.5"/>
<path d="M672.5 835 L676.5 833.3 L676.5 835.1Z" fill="#000" stroke="#000" stroke-width="0.5"/>
<path d="M686 766 L694 771 L704 766 M694 771 L694 774.5 M697 764.5 L704 768.5 M686 770 L691 773" fill="none" stroke="#000" stroke-width="1"/>
<path d="M685.5 763 L690.5 766 L690.5 769 L685.5 766Z" fill="#000" stroke="#000" stroke-width="0.5"/>
<path d="M699.5 770 L704.5 767.8 L704.5 770Z" fill="#000" stroke="#000" stroke-width="0.5"/>
<path d="M686 768 L688 769.2 L688 771.8 L686 770.6Z" fill="#000" stroke="#000" stroke-width="0.5"/>
<path d="M686 775 L694 780 L704 775 M694 780 L694 783.5 M697 773.5 L704 777.5 M686 779 L691 782" fill="none" stroke="#000" stroke-width="1"/>
<path d="M685.5 772 L690.5 775 L690.5 778 L685.5 775Z" fill="#000" stroke="#000" stroke-width="0.5"/>
<path d="M699.5 779 L704.5 776.8 L704.5 779Z" fill="#000" stroke="#000" stroke-width="0.5"/>
<path d="M686 777 L688 778.2 L688 780.8 L686 779.6Z" fill="#000" stroke="#000" stroke-width="0.5"/>
<path d="M686 784 L694 789 L704 784 M694 789 L694 792.5 M697 782.5 L704 786.5 M686 788 L691 791" fill="none" stroke="#000" stroke-width="1"/>
<path d="M685.5 781 L690.5 784 L690.5 787 L685.5 784Z" fill="#000" stroke="#000" stroke-width="0.5"/>
<path d="M699.5 788 L704.5 785.8 L704.5 788Z" fill="#000" stroke="#000" stroke-width="0.5"/>
<path d="M686 786 L688 787.2 L688 789.8 L686 788.6Z" fill="#000" stroke="#000" stroke-width="0.5"/>
<path d="M686 793 L694 798 L704 793 M694 798 L694 801.5 M697 791.5 L704 795.5 M686 797 L691 800" fill="none" stroke="#000" stroke-width="1"/>
<path d="M685.5 790 L690.5 793 L690.5 796 L685.5 793Z" fill="#000" stroke="#000" stroke-width="0.5"/>
<path d="M699.5 797 L704.5 794.8 L704.5 797Z" fill="#000" stroke="#000" stroke-width="0.5"/>
<path d="M686 795 L688 796.2 L688 798.8 L686 797.6Z" fill="#000" stroke="#000" stroke-width="0.5"/>
<path d="M686 802 L694 807 L704 802 M694 807 L694 810.5 M697 800.5 L704 804.5 M686 806 L691 809" fill="none" stroke="#000" stroke-width="1"/>
<path d="M685.5 799 L690.5 802 L690.5 805 L685.5 802Z" fill="#000" stroke="#000" stroke-width="0.5"/>
<path d="M699.5 806 L704.5 803.8 L704.5 806Z" fill="#000" stroke="#000" stroke-width="0.5"/>
<path d="M686 804 L688 805.2 L688 807.8 L686 806.6Z" fill="#000" stroke="#000" stroke-width="0.5"/>
<path d="M686 811 L694 816 L704 811 M694 816 L694 819.5 M697 809.5 L704 813.5 M686 815 L691 818" fill="none" stroke="#000" stroke-width="1"/>
<path d="M685.5 808 L690.5 811 L690.5 814 L685.5 811Z" fill="#000" stroke="#000" stroke-width="0.5"/>
<path d="M699.5 815 L704.5 812.8 L704.5 815Z" fill="#000" stroke="#000" stroke-width="0.5"/>
<path d="M686 813 L688 814.2 L688 816.8 L686 815.6Z" fill="#000" stroke="#000" stroke-width="0.5"/>
<path d="M686 820 L694 825 L704 820 M694 825 L694 828.5 M697 818.5 L704 822.5 M686 824 L691 827" fill="none" stroke="#000" stroke-width="1"/>
<path d="M685.5 817 L690.5 820 L690.5 823 L685.5 820Z" fill="#000" stroke="#000" stroke-width="0.5"/>
<path d="M699.5 824 L704.5 821.8 L704.5 824Z" fill="#000" stroke="#000" stroke-width="0.5"/>
<path d="M686 822 L688 823.2 L688 825.8 L686 824.6Z" fill="#000" stroke="#000" stroke-width="0.5"/>
<path d="M686 829 L694 834 L704 829 M694 834 L694 837.5 M697 827.5 L704 831.5 M686 833 L691 836" fill="none" stroke="#000" stroke-width="1"/>
<path d="M685.5 826 L690.5 829 L690.5 832 L685.5 829Z" fill="#000" stroke="#000" stroke-width="0.5"/>
<path d="M699.5 833 L704.5 830.8 L704.5 833Z" fill="#000" stroke="#000" stroke-width="0.5"/>
<path d="M686 831 L688 832.2 L688 834.8 L686 833.6Z" fill="#000" stroke="#000" stroke-width="0.5"/>
<path d="M686 838 L694 843 L704 838 M694 843 L694 846.5 M697 836.5 L704 840.5 M686 842 L691 845" fill="none" stroke="#000" stroke-width="1"/>
<path d="M685.5 835 L690.5 838 L690.5 841 L685.5 838Z" fill="#000" stroke="#000" stroke-width="0.5"/>
<path d="M699.5 842 L704.5 839.8 L704.5 842Z" fill="#000" stroke="#000" stroke-width="0.5"/>
<path d="M686 840 L688 841.2 L688 843.8 L686 842.6Z" fill="#000" stroke="#000" stroke-width="0.5"/>
<path d="M686 847 L694 852 L704 847 M694 852 L694 855.5 M697 845.5 L704 849.5 M686 851 L691 854" fill="none" stroke="#000" stroke-width="1"/>
<path d="M685.5 844 L690.5 847 L690.5 850 L685.5 847Z" fill="#000" stroke="#000" stroke-width="0.5"/>
<path d="M699.5 851 L704.5 848.8 L704.5 851Z" fill="#000" stroke="#000" stroke-width="0.5"/>
<path d="M686 849 L688 850.2 L688 852.8 L686 851.6Z" fill="#000" stroke="#000" stroke-width="0.5"/>
<path d="M725 780 L741 770 L741 776.5 L727 785.5 L727 791 L725 792Z" fill="#fff" stroke="#000" stroke-width="1" stroke-linejoin="round"/>
<path d="M725 780 L727 781.5 L727 785.5" fill="none" stroke="#000" stroke-width="1"/>
<path d="M725 808 L741 798 L741 804.5 L727 813.5 L727 819 L725 820Z" fill="#fff" stroke="#000" stroke-width="1" stroke-linejoin="round"/>
<path d="M725 808 L727 809.5 L727 813.5" fill="none" stroke="#000" stroke-width="1"/>
<path d="M725 836 L741 826 L741 832.5 L727 841.5 L727 847 L725 848Z" fill="#fff" stroke="#000" stroke-width="1" stroke-linejoin="round"/>
<path d="M725 836 L727 837.5 L727 841.5" fill="none" stroke="#000" stroke-width="1"/>
<path d="M739 816 L755.8 827 L755.8 836.5 L744.7 851 M739 816 L739 845" fill="none" stroke="#000" stroke-width="1"/>
<path d="M676 842.5 L684.6 850 M693 856 L705 850" fill="none" stroke="#000" stroke-width="1"/>
<path d="M640.7 185.9L647.7 185.9L647.7 193.9L640.7 193.9" fill="none" stroke="#000" stroke-width="1.0" stroke-linecap="square"/>
<path d="M653.6 186.4L655.8 188.4M653.6 194.4Q658.5 192.9 660.2 186.9" fill="none" stroke="#000" stroke-width="1.0" stroke-linecap="square"/>
<path d="M665.7 186.4L671.8 186.4Q671.7 191.9 667.4 194.9M673 184.1Q674 184.1 674 185.2Q674 186.3 673 186.3Q672 186.3 672 185.2Q672 184.1 673 184.1" fill="none" stroke="#000" stroke-width="1.0" stroke-linecap="square"/>
<path d="M679.5 184.9L679.5 194.4Q683.5 192.9 685.7 188.4" fill="none" stroke="#000" stroke-width="1.0" stroke-linecap="square"/>
<path d="M692 188.4L692.9 190.9M694.4 187.9L695.3 190.4M697.7 187.9Q697.3 192.9 693.3 195.4" fill="none" stroke="#000" stroke-width="1.0" stroke-linecap="square"/>
<path d="M702.7 187.9L710.7 187.9M704.9 184.9L704.9 191.4M708.5 184.9L708.5 189.9Q708.5 193.4 705.4 195.4" fill="none" stroke="#000" stroke-width="1.0" stroke-linecap="square"/>
<path d="M715.2 191.9L718.3 187.4L723.2 193.4" fill="none" stroke="#000" stroke-width="1.0" stroke-linecap="square"/>
<path d="M627 198.9L633.2 198.9M630.1 198.9L630.1 211.3" fill="none" stroke="#000" stroke-width="1.0" stroke-linejoin="round"/>
<path d="M637.2 202.5L640.3 202.5Q641.9 202.5 641.9 204.1L641.9 209.8Q641.9 211.3 640.3 211.3L637.2 211.3Q635.6 211.3 635.6 209.8L635.6 204.1Q635.6 202.5 637.2 202.5Z" fill="none" stroke="#000" stroke-width="1.0" stroke-linejoin="round"/>
<path d="M659.2 201L659.2 200.5Q659.2 198.9 657.6 198.9L654.5 198.9Q653 198.9 653 200.5L653 209.8Q653 211.3 654.5 211.3L657.6 211.3Q659.2 211.3 659.2 209.8L659.2 209.2" fill="none" stroke="#000" stroke-width="1.0" stroke-linejoin="round"/>
<path d="M663.1 202.5L666.2 202.5Q667.8 202.5 667.8 204.1L667.8 209.8Q667.8 211.3 666.2 211.3L663.1 211.3Q661.6 211.3 661.6 209.8L661.6 204.1Q661.6 202.5 663.1 202.5Z" fill="none" stroke="#000" stroke-width="1.0" stroke-linejoin="round"/>
<path d="M669.7 211.3L669.7 202.5M669.7 204.1Q669.7 202.5 671.5 202.5Q673.4 202.5 673.4 204.1L673.4 211.3M673.4 204.1Q673.4 202.5 675.2 202.5Q677 202.5 677 204.1L677 211.3" fill="none" stroke="#000" stroke-width="1.0" stroke-linejoin="round"/>
<path d="M678.9 211.3L678.9 202.5L683.5 202.5Q685.1 202.5 685.1 204.1L685.1 205.9Q685.1 207.5 683.5 207.5L678.9 207.5" fill="none" stroke="#000" stroke-width="1.0" stroke-linejoin="round"/>
<path d="M688.1 211.3L688.1 202.5M688.1 204.6Q688.4 202.5 690.6 202.5L692.7 202.5" fill="none" stroke="#000" stroke-width="1.0" stroke-linejoin="round"/>
<path d="M696.2 207.2L702.4 207.2L702.4 204.1Q702.4 202.5 700.9 202.5L697.8 202.5Q696.2 202.5 696.2 204.1L696.2 209.8Q696.2 211.3 697.8 211.3L700.9 211.3Q702.4 211.3 702.4 210.1" fill="none" stroke="#000" stroke-width="1.0" stroke-linejoin="round"/>
<path d="M711.1 204.1Q711.1 202.5 709.5 202.5L706.4 202.5Q704.9 202.5 704.9 204.1L704.9 205.3Q704.9 206.9 706.4 206.9L709.5 206.9Q711.1 206.9 711.1 208.4L711.1 209.8Q711.1 211.3 709.5 211.3L706.4 211.3Q704.9 211.3 704.9 209.8" fill="none" stroke="#000" stroke-width="1.0" stroke-linejoin="round"/>
<path d="M719.7 204.1Q719.7 202.5 718.1 202.5L715 202.5Q713.5 202.5 713.5 204.1L713.5 205.3Q713.5 206.9 715 206.9L718.1 206.9Q719.7 206.9 719.7 208.4L719.7 209.8Q719.7 211.3 718.1 211.3L715 211.3Q713.5 211.3 713.5 209.8" fill="none" stroke="#000" stroke-width="1.0" stroke-linejoin="round"/>
<path d="M723.7 202.5L726.8 202.5Q728.4 202.5 728.4 204.1L728.4 209.8Q728.4 211.3 726.8 211.3L723.7 211.3Q722.1 211.3 722.1 209.8L722.1 204.1Q722.1 202.5 723.7 202.5Z" fill="none" stroke="#000" stroke-width="1.0" stroke-linejoin="round"/>
<path d="M731.3 211.3L731.3 202.5M731.3 204.6Q731.6 202.5 733.9 202.5L736 202.5" fill="none" stroke="#000" stroke-width="1.0" stroke-linejoin="round"/>
<path d="M579.6 374.7L584.8 374.7M578.7 377.7L585.7 377.7Q585.3 382.2 580.9 384.7" fill="none" stroke="#000" stroke-width="1.0" stroke-linecap="square"/>
<path d="M591.7 375.2L593.5 376.7M591.3 378.7L593 380.2M591.7 384.2Q596.1 383.2 597.9 377.7M596.7 373.7L597.4 375.2M598.3 373.2L599 374.7" fill="none" stroke="#000" stroke-width="1.0" stroke-linecap="square"/>
<path d="M604.3 375.7L610.5 375.7M607.4 375.7L607.4 383.2M603.5 383.2L611.4 383.2" fill="none" stroke="#000" stroke-width="1.0" stroke-linecap="square"/>
<path d="M617 379.2L623.1 379.2" fill="none" stroke="#000" stroke-width="1.0" stroke-linecap="square"/>
<path d="M631.8 374.2Q631.3 377.7 629.1 380.2M631.8 375.7L635.7 375.7Q635.3 381.2 630.9 384.7M631.1 378.7L634.4 381.2" fill="none" stroke="#000" stroke-width="1.0" stroke-linecap="square"/>
<path d="M645.2 373.7L645.2 384.2L643.9 383.2M641.3 377.2L643.9 377.2Q643.5 381.2 641.3 383.7M648.8 375.7L646.1 378.7M645.7 378.2L649.2 383.7" fill="none" stroke="#000" stroke-width="1.0" stroke-linecap="square"/>
<path d="M656.1 373.7L653.9 378.2M655.2 376.7L655.2 384.7M659.2 373.7L659.2 375.7M656.5 376.2L661.8 376.2M657.9 377.7L658.6 382.2M660.9 377.7L660.1 382.2M656.5 383.7L662.3 383.7" fill="none" stroke="#000" stroke-width="1.0" stroke-linecap="square"/>
<path d="M666.5 378.2L674 376.7L672.2 380.2M669.1 374.2L669.1 382.2Q669.1 383.7 670.5 383.7L674 383.7" fill="none" stroke="#000" stroke-width="1.0" stroke-linecap="square"/>
<path d="M680 375.7L682.2 377.7M680 383.7Q684.8 382.2 686.6 376.2" fill="none" stroke="#000" stroke-width="1.0" stroke-linecap="square"/>
<path d="M691.7 377.2L699.6 377.2M693.9 374.2L693.9 380.7M697.4 374.2L697.4 379.2Q697.4 382.7 694.4 384.7" fill="none" stroke="#000" stroke-width="1.0" stroke-linecap="square"/>
<path d="M704.3 381.2L707.4 376.7L712.3 382.7" fill="none" stroke="#000" stroke-width="1.0" stroke-linecap="square"/>
<path d="M517.7 389.9L523.9 389.9M520.8 389.9L520.8 402.3" fill="none" stroke="#000" stroke-width="1.0" stroke-linejoin="round"/>
<path d="M527.8 393.5L530.9 393.5Q532.5 393.5 532.5 395.1L532.5 400.8Q532.5 402.3 530.9 402.3L527.8 402.3Q526.3 402.3 526.3 400.8L526.3 395.1Q526.3 393.5 527.8 393.5Z" fill="none" stroke="#000" stroke-width="1.0" stroke-linejoin="round"/>
<path d="M543.4 402.3L543.4 389.9L548.1 389.9Q549.6 389.9 549.6 391.5L549.6 394.6Q549.6 396.1 548.1 396.1L543.4 396.1M546.5 396.1L549.6 402.3" fill="none" stroke="#000" stroke-width="1.0" stroke-linejoin="round"/>
<path d="M552.5 395.1Q552.5 393.5 554 393.5L556.6 393.5Q558.2 393.5 558.2 395.1L558.2 402.3M558.2 397.7L553.5 397.7Q552 397.7 552 399.2L552 400.8Q552 402.3 553.5 402.3L556.6 402.3Q558.2 402.3 558.2 400.8" fill="none" stroke="#000" stroke-width="1.0" stroke-linejoin="round"/>
<path d="M566.8 389.9L566.8 402.3M566.8 395.1Q566.8 393.5 565.2 393.5L562.1 393.5Q560.6 393.5 560.6 395.1L560.6 400.8Q560.6 402.3 562.1 402.3L565.2 402.3Q566.8 402.3 566.8 400.8" fill="none" stroke="#000" stroke-width="1.0" stroke-linejoin="round"/>
<path d="M572.2 393.5L572.2 402.3M572.2 390.2L572.2 391.5" fill="none" stroke="#000" stroke-width="1.0" stroke-linejoin="round"/>
<path d="M578.2 395.1Q578.2 393.5 579.8 393.5L582.3 393.5Q583.9 393.5 583.9 395.1L583.9 402.3M583.9 397.7L579.2 397.7Q577.7 397.7 577.7 399.2L577.7 400.8Q577.7 402.3 579.2 402.3L582.3 402.3Q583.9 402.3 583.9 400.8" fill="none" stroke="#000" stroke-width="1.0" stroke-linejoin="round"/>
<path d="M589.4 389.9L589.4 402.3M586.8 393.5L591.9 393.5" fill="none" stroke="#000" stroke-width="1.0" stroke-linejoin="round"/>
<path d="M596.4 393.5L599.5 393.5Q601 393.5 601 395.1L601 400.8Q601 402.3 599.5 402.3L596.4 402.3Q594.8 402.3 594.8 400.8L594.8 395.1Q594.8 393.5 596.4 393.5Z" fill="none" stroke="#000" stroke-width="1.0" stroke-linejoin="round"/>
<path d="M603.9 402.3L603.9 393.5M603.9 395.6Q604.2 393.5 606.5 393.5L608.6 393.5" fill="none" stroke="#000" stroke-width="1.0" stroke-linejoin="round"/>
<path d="M620.5 389.9L621.8 402.3L623.6 394L625.5 402.3L626.7 389.9" fill="none" stroke="#000" stroke-width="1.0" stroke-linejoin="round"/>
<path d="M629.6 395.1Q629.6 393.5 631.2 393.5L633.8 393.5Q635.3 393.5 635.3 395.1L635.3 402.3M635.3 397.7L630.7 397.7Q629.1 397.7 629.1 399.2L629.1 400.8Q629.1 402.3 630.7 402.3L633.8 402.3Q635.3 402.3 635.3 400.8" fill="none" stroke="#000" stroke-width="1.0" stroke-linejoin="round"/>
<path d="M640.8 389.9L640.8 402.3M638.2 393.5L643.4 393.5" fill="none" stroke="#000" stroke-width="1.0" stroke-linejoin="round"/>
<path d="M646.2 398.2L652.5 398.2L652.5 395.1Q652.5 393.5 650.9 393.5L647.8 393.5Q646.2 393.5 646.2 395.1L646.2 400.8Q646.2 402.3 647.8 402.3L650.9 402.3Q652.5 402.3 652.5 401.1" fill="none" stroke="#000" stroke-width="1.0" stroke-linejoin="round"/>
<path d="M655.3 402.3L655.3 393.5M655.3 395.6Q655.6 393.5 657.9 393.5L660 393.5" fill="none" stroke="#000" stroke-width="1.0" stroke-linejoin="round"/>
<path d="M672 389.9L672 402.3L678.2 402.3" fill="none" stroke="#000" stroke-width="1.0" stroke-linejoin="round"/>
<path d="M680.5 398.2L686.7 398.2L686.7 395.1Q686.7 393.5 685.2 393.5L682.1 393.5Q680.5 393.5 680.5 395.1L680.5 400.8Q680.5 402.3 682.1 402.3L685.2 402.3Q686.7 402.3 686.7 401.1" fill="none" stroke="#000" stroke-width="1.0" stroke-linejoin="round"/>
<path d="M689.1 393.5L692.2 402.3L695.3 393.5" fill="none" stroke="#000" stroke-width="1.0" stroke-linejoin="round"/>
<path d="M697.7 398.2L703.9 398.2L703.9 395.1Q703.9 393.5 702.3 393.5L699.2 393.5Q697.7 393.5 697.7 395.1L697.7 400.8Q697.7 402.3 699.2 402.3L702.3 402.3Q703.9 402.3 703.9 401.1" fill="none" stroke="#000" stroke-width="1.0" stroke-linejoin="round"/>
<path d="M709.3 389.9L709.3 402.3" fill="none" stroke="#000" stroke-width="1.0" stroke-linejoin="round"/>
<path d="M729.6 391.5Q729.6 389.9 728 389.9L724.9 389.9Q723.4 389.9 723.4 391.5L723.4 394.6Q723.4 396.1 724.9 396.1L728 396.1Q729.6 396.1 729.6 397.7L729.6 400.8Q729.6 402.3 728 402.3L724.9 402.3Q723.4 402.3 723.4 400.8" fill="none" stroke="#000" stroke-width="1.0" stroke-linejoin="round"/>
<path d="M732 398.2L738.2 398.2L738.2 395.1Q738.2 393.5 736.6 393.5L733.5 393.5Q732 393.5 732 395.1L732 400.8Q732 402.3 733.5 402.3L736.6 402.3Q738.2 402.3 738.2 401.1" fill="none" stroke="#000" stroke-width="1.0" stroke-linejoin="round"/>
<path d="M740.5 402.3L740.5 393.5M740.5 395.6Q740.8 393.5 743.1 393.5L745.2 393.5Q746.7 393.5 746.7 395.1L746.7 402.3" fill="none" stroke="#000" stroke-width="1.0" stroke-linejoin="round"/>
<path d="M755.3 395.1Q755.3 393.5 753.7 393.5L750.6 393.5Q749.1 393.5 749.1 395.1L749.1 396.3Q749.1 397.9 750.6 397.9L753.7 397.9Q755.3 397.9 755.3 399.4L755.3 400.8Q755.3 402.3 753.7 402.3L750.6 402.3Q749.1 402.3 749.1 400.8" fill="none" stroke="#000" stroke-width="1.0" stroke-linejoin="round"/>
<path d="M759.2 393.5L762.3 393.5Q763.9 393.5 763.9 395.1L763.9 400.8Q763.9 402.3 762.3 402.3L759.2 402.3Q757.7 402.3 757.7 400.8L757.7 395.1Q757.7 393.5 759.2 393.5Z" fill="none" stroke="#000" stroke-width="1.0" stroke-linejoin="round"/>
<path d="M766.7 402.3L766.7 393.5M766.7 395.6Q767.1 393.5 769.3 393.5L771.4 393.5" fill="none" stroke="#000" stroke-width="1.0" stroke-linejoin="round"/>
<path d="M65.1 653.5L73.1 653.5M69.1 651L69.1 661L68.2 660.5M67.3 656L65.6 659.5M70.9 656L72.6 659.5" fill="none" stroke="#000" stroke-width="1.0" stroke-linecap="square"/>
<path d="M79.3 656L85.5 656" fill="none" stroke="#000" stroke-width="1.0" stroke-linecap="square"/>
<path d="M92.6 652.5L94.8 654.5M92.6 660.5Q97.5 659 99.2 653" fill="none" stroke="#000" stroke-width="1.0" stroke-linecap="square"/>
<path d="M105 658L108.1 653.5L113 659.5" fill="none" stroke="#000" stroke-width="1.0" stroke-linecap="square"/>
<path d="M61.4 666.4L67.6 666.4M64.5 666.4L64.5 678.8" fill="none" stroke="#000" stroke-width="1.0" stroke-linejoin="round"/>
<path d="M71.5 670L74.6 670Q76.1 670 76.1 671.6L76.1 677.2Q76.1 678.8 74.6 678.8L71.5 678.8Q69.9 678.8 69.9 677.2L69.9 671.6Q69.9 670 71.5 670Z" fill="none" stroke="#000" stroke-width="1.0" stroke-linejoin="round"/>
<path d="M86.9 666.4L86.9 678.8M93.1 666.4L93.1 678.8M86.9 672.6L93.1 672.6" fill="none" stroke="#000" stroke-width="1.0" stroke-linejoin="round"/>
<path d="M97 670L100.1 670Q101.6 670 101.6 671.6L101.6 677.2Q101.6 678.8 100.1 678.8L97 678.8Q95.4 678.8 95.4 677.2L95.4 671.6Q95.4 670 97 670Z" fill="none" stroke="#000" stroke-width="1.0" stroke-linejoin="round"/>
<path d="M104.4 678.8L104.4 670M104.4 672.1Q104.7 670 107 670L109.1 670" fill="none" stroke="#000" stroke-width="1.0" stroke-linejoin="round"/>
<path d="M112.4 678.8L112.4 670M112.4 672.1Q112.7 670 115 670L117.1 670Q118.6 670 118.6 671.6L118.6 678.8" fill="none" stroke="#000" stroke-width="1.0" stroke-linejoin="round"/>
<path d="M67.2 702L68.1 703.5M66.6 705.5L68.1 705.5L68.1 710M66.6 711.5Q68.1 709.5 68.9 711Q70.7 712 75.1 712M70.3 701.3L74.2 701.3L74.2 705M70.3 701.3L70.3 705M71.6 703L72.9 703L72.9 705M69.4 705L74.9 705L74.9 710.5M69.4 705L69.4 710M70.9 706.8L73.3 706.8L73.3 709L70.9 709Z" fill="none" stroke="#000" stroke-width="1.0" stroke-linecap="square"/>
<path d="M82.6 701L80.8 703M82.1 701.8L84.8 701.8L83.5 703.5M80.8 704L86.5 704L86.5 709.5L80.8 709.5ZM80.8 705.8L86.5 705.8M80.8 707.7L86.5 707.7M82.1 710L79.9 712M85.2 710L87.4 712" fill="none" stroke="#000" stroke-width="1.0" stroke-linecap="square"/>
<path d="M92.3 702.5L100.2 702.5M94.5 701L94.5 704M98 701L98 704M94 705L92.3 708.5M93.3 707L93.3 712M94.9 706L100.2 706M99.3 706L99.3 711.5L98.4 711M95.5 707.7L98 707.7L98 710.2L95.5 710.2Z" fill="none" stroke="#000" stroke-width="1.0" stroke-linecap="square"/>
<path d="M105 701.8L109 701.8M105.9 700.7L105.9 702.8M107.9 700.7L107.9 702.8M105.5 703.5L108.5 703.5L108.5 705.5L105.5 705.5ZM110.3 700.8L109.4 703.5M109.9 701.8L112.9 701.8M112.5 701.8Q111.6 704.5 109.4 706M110.3 703.5L112.9 706M105.5 707L112.5 707M106.3 708.5L111.6 708.5M106.3 709.8L111.6 709.8M106.8 710.8L111.2 710.8L111.2 712.5L106.8 712.5Z" fill="none" stroke="#000" stroke-width="1.0" stroke-linecap="square"/>
<path d="M117.8 702L121.3 702M119.5 700.8L119.5 703.5M117.3 703.7L121.7 703.7M118.2 705L118.8 706.5M120.9 705L120.2 706.5M117.6 707L121.6 707M117.8 709L121.3 709M119.5 707L119.5 712.5M122.4 701.5L125.3 701.5L125.3 705.5L124.6 705.2M122.4 701.5L122.4 712.5M122.4 706.5L125.7 706.5Q124.8 710 122.6 712M123.1 708L126 712" fill="none" stroke="#000" stroke-width="1.0" stroke-linecap="square"/>
<path d="M130.5 705.5L138 704L136.3 707.5M133.2 701.5L133.2 709.5Q133.2 711 134.5 711L138 711" fill="none" stroke="#000" stroke-width="1.0" stroke-linecap="square"/>
<path d="M144.2 703L146.4 705M144.2 711Q149 709.5 150.8 703.5" fill="none" stroke="#000" stroke-width="1.0" stroke-linecap="square"/>
<path d="M156.1 704.5L164 704.5M158.3 701.5L158.3 708M161.8 701.5L161.8 706.5Q161.8 710 158.7 712" fill="none" stroke="#000" stroke-width="1.0" stroke-linecap="square"/>
<path d="M168.8 708.5L171.9 704L176.7 710" fill="none" stroke="#000" stroke-width="1.0" stroke-linecap="square"/>
<path d="M8.1 717.6L14.3 717.6M11.2 717.6L11.2 730" fill="none" stroke="#000" stroke-width="1.0" stroke-linejoin="round"/>
<path d="M18.3 721.2L21.4 721.2Q23 721.2 23 722.8L23 728.5Q23 730 21.4 730L18.3 730Q16.8 730 16.8 728.5L16.8 722.8Q16.8 721.2 18.3 721.2Z" fill="none" stroke="#000" stroke-width="1.0" stroke-linejoin="round"/>
<path d="M35.6 717.6L38.7 717.6Q40.3 717.6 40.3 719.1L40.3 728.5Q40.3 730 38.7 730L35.6 730Q34.1 730 34.1 728.5L34.1 719.1Q34.1 717.6 35.6 717.6Z" fill="none" stroke="#000" stroke-width="1.0" stroke-linejoin="round"/>
<path d="M42.7 721.2L45.8 730L48.9 721.2" fill="none" stroke="#000" stroke-width="1.0" stroke-linejoin="round"/>
<path d="M51.4 725.9L57.6 725.9L57.6 722.8Q57.6 721.2 56 721.2L52.9 721.2Q51.4 721.2 51.4 722.8L51.4 728.5Q51.4 730 52.9 730L56 730Q57.6 730 57.6 728.8" fill="none" stroke="#000" stroke-width="1.0" stroke-linejoin="round"/>
<path d="M60.5 730L60.5 721.2M60.5 723.3Q60.8 721.2 63.1 721.2L65.2 721.2" fill="none" stroke="#000" stroke-width="1.0" stroke-linejoin="round"/>
<path d="M77.3 717.6L77.3 730L83.5 730" fill="none" stroke="#000" stroke-width="1.0" stroke-linejoin="round"/>
<path d="M87.5 721.2L90.6 721.2Q92.2 721.2 92.2 722.8L92.2 728.5Q92.2 730 90.6 730L87.5 730Q86 730 86 728.5L86 722.8Q86 721.2 87.5 721.2Z" fill="none" stroke="#000" stroke-width="1.0" stroke-linejoin="round"/>
<path d="M95.1 722.8Q95.1 721.2 96.7 721.2L99.2 721.2Q100.8 721.2 100.8 722.8L100.8 730M100.8 725.4L96.1 725.4Q94.6 725.4 94.6 726.9L94.6 728.5Q94.6 730 96.1 730L99.2 730Q100.8 730 100.8 728.5" fill="none" stroke="#000" stroke-width="1.0" stroke-linejoin="round"/>
<path d="M109.5 717.6L109.5 730M109.5 722.8Q109.5 721.2 107.9 721.2L104.8 721.2Q103.2 721.2 103.2 722.8L103.2 728.5Q103.2 730 104.8 730L107.9 730Q109.5 730 109.5 728.5" fill="none" stroke="#000" stroke-width="1.0" stroke-linejoin="round"/>
<path d="M126.8 719.7L126.8 719.1Q126.8 717.6 125.2 717.6L122.1 717.6Q120.5 717.6 120.5 719.1L120.5 728.5Q120.5 730 122.1 730L125.2 730Q126.8 730 126.8 728.5L126.8 727.9" fill="none" stroke="#000" stroke-width="1.0" stroke-linejoin="round"/>
<path d="M129.7 722.8Q129.7 721.2 131.3 721.2L133.9 721.2Q135.4 721.2 135.4 722.8L135.4 730M135.4 725.4L130.8 725.4Q129.2 725.4 129.2 726.9L129.2 728.5Q129.2 730 130.8 730L133.9 730Q135.4 730 135.4 728.5" fill="none" stroke="#000" stroke-width="1.0" stroke-linejoin="round"/>
<path d="M137.8 721.2L137.8 728.5Q137.8 730 139.4 730L142.5 730Q144 730 144 728.5M144 721.2L144 730" fill="none" stroke="#000" stroke-width="1.0" stroke-linejoin="round"/>
<path d="M149.6 717.6L149.6 730M147 721.2L152.2 721.2" fill="none" stroke="#000" stroke-width="1.0" stroke-linejoin="round"/>
<path d="M158.2 721.2L158.2 730M158.2 717.9L158.2 719.1" fill="none" stroke="#000" stroke-width="1.0" stroke-linejoin="round"/>
<path d="M165.4 721.2L168.5 721.2Q170 721.2 170 722.8L170 728.5Q170 730 168.5 730L165.4 730Q163.8 730 163.8 728.5L163.8 722.8Q163.8 721.2 165.4 721.2Z" fill="none" stroke="#000" stroke-width="1.0" stroke-linejoin="round"/>
<path d="M172.4 730L172.4 721.2M172.4 723.3Q172.8 721.2 175 721.2L177.1 721.2Q178.6 721.2 178.6 722.8L178.6 730" fill="none" stroke="#000" stroke-width="1.0" stroke-linejoin="round"/>
<path d="M195.9 719.1Q195.9 717.6 194.4 717.6L191.3 717.6Q189.8 717.6 189.8 719.1L189.8 722.2Q189.8 723.8 191.3 723.8L194.4 723.8Q195.9 723.8 195.9 725.4L195.9 728.5Q195.9 730 194.4 730L191.3 730Q189.8 730 189.8 728.5" fill="none" stroke="#000" stroke-width="1.0" stroke-linejoin="round"/>
<path d="M198.4 725.9L204.6 725.9L204.6 722.8Q204.6 721.2 203.1 721.2L200 721.2Q198.4 721.2 198.4 722.8L198.4 728.5Q198.4 730 200 730L203.1 730Q204.6 730 204.6 728.8" fill="none" stroke="#000" stroke-width="1.0" stroke-linejoin="round"/>
<path d="M207.1 730L207.1 721.2M207.1 723.3Q207.4 721.2 209.6 721.2L211.7 721.2Q213.2 721.2 213.2 722.8L213.2 730" fill="none" stroke="#000" stroke-width="1.0" stroke-linejoin="round"/>
<path d="M221.9 722.8Q221.9 721.2 220.4 721.2L217.3 721.2Q215.7 721.2 215.7 722.8L215.7 724Q215.7 725.6 217.3 725.6L220.4 725.6Q221.9 725.6 221.9 727.1L221.9 728.5Q221.9 730 220.4 730L217.3 730Q215.7 730 215.7 728.5" fill="none" stroke="#000" stroke-width="1.0" stroke-linejoin="round"/>
<path d="M225.9 721.2L229 721.2Q230.5 721.2 230.5 722.8L230.5 728.5Q230.5 730 229 730L225.9 730Q224.3 730 224.3 728.5L224.3 722.8Q224.3 721.2 225.9 721.2Z" fill="none" stroke="#000" stroke-width="1.0" stroke-linejoin="round"/>
<path d="M233.5 730L233.5 721.2M233.5 723.3Q233.8 721.2 236.1 721.2L238.2 721.2" fill="none" stroke="#000" stroke-width="1.0" stroke-linejoin="round"/>
<path d="M392.9 681Q391.2 687.5 386.8 691M388.1 684L392.9 689" fill="none" stroke="#000" stroke-width="1.0" stroke-linecap="square"/>
<path d="M406.5 681Q404.3 685 399.9 687M403.8 684.5L403.8 691.5" fill="none" stroke="#000" stroke-width="1.0" stroke-linecap="square"/>
<path d="M413.4 682.5L415.6 684.5M413.4 690.5Q418.3 689 420 683" fill="none" stroke="#000" stroke-width="1.0" stroke-linecap="square"/>
<path d="M428.3 683Q427.8 687.5 425.6 690.5M430.9 683Q431.8 687 433.6 690.5" fill="none" stroke="#000" stroke-width="1.0" stroke-linecap="square"/>
<path d="M439.6 686L445.8 686" fill="none" stroke="#000" stroke-width="1.0" stroke-linecap="square"/>
<path d="M455.8 680.5L455.8 682M452.7 683L458.4 683Q456.2 686.5 451.8 689M455.8 686L455.8 691.5M456.7 686.5L459.8 689" fill="none" stroke="#000" stroke-width="1.0" stroke-linecap="square"/>
<path d="M465.8 682L471.5 682Q469.8 687.5 464.9 691M469.3 687L472.9 691" fill="none" stroke="#000" stroke-width="1.0" stroke-linecap="square"/>
<path d="M478 688L481.1 683.5L486 689.5" fill="none" stroke="#000" stroke-width="1.0" stroke-linecap="square"/>
<path d="M372.9 696.5L379.1 696.5M376 696.5L376 708.9" fill="none" stroke="#000" stroke-width="1.0" stroke-linejoin="round"/>
<path d="M383.1 700.1L386.2 700.1Q387.8 700.1 387.8 701.7L387.8 707.4Q387.8 708.9 386.2 708.9L383.1 708.9Q381.6 708.9 381.6 707.4L381.6 701.7Q381.6 700.1 383.1 700.1Z" fill="none" stroke="#000" stroke-width="1.0" stroke-linejoin="round"/>
<path d="M399 708.9L399 696.5L402.1 703.7L405.2 696.5L405.2 708.9" fill="none" stroke="#000" stroke-width="1.0" stroke-linejoin="round"/>
<path d="M408.2 701.7Q408.2 700.1 409.7 700.1L412.3 700.1Q413.9 700.1 413.9 701.7L413.9 708.9M413.9 704.2L409.2 704.2Q407.7 704.2 407.7 705.8L407.7 707.4Q407.7 708.9 409.2 708.9L412.3 708.9Q413.9 708.9 413.9 707.4" fill="none" stroke="#000" stroke-width="1.0" stroke-linejoin="round"/>
<path d="M419.4 700.1L419.4 708.9M419.4 696.8L419.4 698" fill="none" stroke="#000" stroke-width="1.0" stroke-linejoin="round"/>
<path d="M425 708.9L425 700.1M425 702.2Q425.3 700.1 427.6 700.1L429.7 700.1Q431.2 700.1 431.2 701.7L431.2 708.9" fill="none" stroke="#000" stroke-width="1.0" stroke-linejoin="round"/>
<path d="M442.4 696.5L442.4 708.9M448.6 696.5L448.6 708.9M442.4 702.7L448.6 702.7" fill="none" stroke="#000" stroke-width="1.0" stroke-linejoin="round"/>
<path d="M451.6 701.7Q451.6 700.1 453.2 700.1L455.8 700.1Q457.3 700.1 457.3 701.7L457.3 708.9M457.3 704.2L452.7 704.2Q451.1 704.2 451.1 705.8L451.1 707.4Q451.1 708.9 452.7 708.9L455.8 708.9Q457.3 708.9 457.3 707.4" fill="none" stroke="#000" stroke-width="1.0" stroke-linejoin="round"/>
<path d="M460.3 708.9L460.3 700.1M460.3 702.2Q460.6 700.1 462.9 700.1L465 700.1" fill="none" stroke="#000" stroke-width="1.0" stroke-linejoin="round"/>
<path d="M468.5 708.9L468.5 700.1M468.5 702.2Q468.8 700.1 471.1 700.1L473.1 700.1Q474.7 700.1 474.7 701.7L474.7 708.9" fill="none" stroke="#000" stroke-width="1.0" stroke-linejoin="round"/>
<path d="M477.2 704.8L483.4 704.8L483.4 701.7Q483.4 700.1 481.8 700.1L478.7 700.1Q477.2 700.1 477.2 701.7L477.2 707.4Q477.2 708.9 478.7 708.9L481.8 708.9Q483.4 708.9 483.4 707.7" fill="none" stroke="#000" stroke-width="1.0" stroke-linejoin="round"/>
<path d="M492.1 701.7Q492.1 700.1 490.5 700.1L487.4 700.1Q485.9 700.1 485.9 701.7L485.9 702.9Q485.9 704.5 487.4 704.5L490.5 704.5Q492.1 704.5 492.1 706L492.1 707.4Q492.1 708.9 490.5 708.9L487.4 708.9Q485.9 708.9 485.9 707.4" fill="none" stroke="#000" stroke-width="1.0" stroke-linejoin="round"/>
<path d="M500.8 701.7Q500.8 700.1 499.2 700.1L496.1 700.1Q494.6 700.1 494.6 701.7L494.6 702.9Q494.6 704.5 496.1 704.5L499.2 704.5Q500.8 704.5 500.8 706L500.8 707.4Q500.8 708.9 499.2 708.9L496.1 708.9Q494.6 708.9 494.6 707.4" fill="none" stroke="#000" stroke-width="1.0" stroke-linejoin="round"/>
<path d="M209.3 277L213 265.5L216.8 277M210.6 273H215.5" fill="none" stroke="#000" stroke-width="1"/>
<path d="M231.3 266.5L235 266.5M230.8 268.5L235.5 268.5M231.3 270.5L235 270.5M231.3 272.5L235 272.5M231.3 274L235 274L235 276.5L231.3 276.5ZM237.1 265.5L237.8 267M240.2 265.5L239.5 267M236.6 268L240.8 268M236.6 270.5L240.8 270.5M236.1 273L241.3 273M238.7 268L238.7 277" fill="none" stroke="#000" stroke-width="1.0" stroke-linecap="square"/>
<path d="M257.8 265.5L255.7 268.5L258.3 268L255.7 272L259.4 271M257.6 272L257.6 276.5M255.9 273.5L255.5 275.5M259.2 273.5L259.7 275.5M261 267L265.7 267L265.7 276L261 276ZM263.3 267L263.3 276M261 271.5L265.7 271.5" fill="none" stroke="#000" stroke-width="1.0" stroke-linecap="square"/>
<path d="M207.8 283L207.8 294.6L212 294.6Q214.1 294.6 214.1 292.7L214.1 284.9Q214.1 283 212 283L207.8 283" fill="none" stroke="#000" stroke-width="1.0" stroke-linejoin="round"/>
<path d="M215.2 290.7L221.6 290.7L221.6 287.8Q221.6 286.4 220 286.4L216.8 286.4Q215.2 286.4 215.2 287.8L215.2 293.1Q215.2 294.6 216.8 294.6L220 294.6Q221.6 294.6 221.6 293.4" fill="none" stroke="#000" stroke-width="1.0" stroke-linejoin="round"/>
<path d="M225.9 283L225.9 294.6M223.2 286.4L228.5 286.4" fill="none" stroke="#000" stroke-width="1.0" stroke-linejoin="round"/>
<path d="M230.7 287.8Q230.7 286.4 232.2 286.4L234.9 286.4Q236.5 286.4 236.5 287.8L236.5 294.6M236.5 290.2L231.7 290.2Q230.2 290.2 230.2 291.7L230.2 293.1Q230.2 294.6 231.7 294.6L234.9 294.6Q236.5 294.6 236.5 293.1" fill="none" stroke="#000" stroke-width="1.0" stroke-linejoin="round"/>
<path d="M240.8 286.4L240.8 294.6M240.8 283.3L240.8 284.4" fill="none" stroke="#000" stroke-width="1.0" stroke-linejoin="round"/>
<path d="M248.2 283L248.2 294.6" fill="none" stroke="#000" stroke-width="1.0" stroke-linejoin="round"/>
<path d="M259.9 294.6L263.1 283L266.2 294.6M261 290.7L265.2 290.7" fill="none" stroke="#000" stroke-width="1.0" stroke-linejoin="round"/>
<path d="M502.5 920V931M502.5 920H506.5Q509.5 920 509.5 922.7Q509.5 925.3 506.5 925.3H502.5M506.5 925.3Q510 925.5 510 928.2Q510 931 506.5 931H502.5" fill="none" stroke="#000" stroke-width="1"/>
<path d="M525.1 921L529.1 921M524.5 923L529.7 923M525.1 925L529.1 925M525.1 927L529.1 927M525.1 928.5L529.1 928.5L529.1 931L525.1 931ZM531.4 920L532.2 921.5M534.9 920L534 921.5M530.8 922.5L535.4 922.5M530.8 925L535.4 925M530.2 927.5L536 927.5M533.1 922.5L533.1 931.5" fill="none" stroke="#000" stroke-width="1.0" stroke-linecap="square"/>
<path d="M551.4 920L549.1 923L552 922.5L549.1 926.5L553.1 925.5M551.1 926.5L551.1 931M549.3 928L548.8 930M552.9 928L553.4 930M554.8 921.5L560 921.5L560 930.5L554.8 930.5ZM557.4 921.5L557.4 930.5M554.8 926L560 926" fill="none" stroke="#000" stroke-width="1.0" stroke-linecap="square"/>
<path d="M502 937.7L502 949.3L506.2 949.3Q508.3 949.3 508.3 947.4L508.3 939.6Q508.3 937.7 506.2 937.7L502 937.7" fill="none" stroke="#000" stroke-width="1.0" stroke-linejoin="round"/>
<path d="M509.4 945.4L515.7 945.4L515.7 942.5Q515.7 941.1 514.1 941.1L511 941.1Q509.4 941.1 509.4 942.5L509.4 947.8Q509.4 949.3 511 949.3L514.1 949.3Q515.7 949.3 515.7 948.1" fill="none" stroke="#000" stroke-width="1.0" stroke-linejoin="round"/>
<path d="M519.9 937.7L519.9 949.3M517.3 941.1L522.6 941.1" fill="none" stroke="#000" stroke-width="1.0" stroke-linejoin="round"/>
<path d="M524.7 942.5Q524.7 941.1 526.3 941.1L528.9 941.1Q530.5 941.1 530.5 942.5L530.5 949.3M530.5 944.9L525.8 944.9Q524.2 944.9 524.2 946.4L524.2 947.8Q524.2 949.3 525.8 949.3L528.9 949.3Q530.5 949.3 530.5 947.8" fill="none" stroke="#000" stroke-width="1.0" stroke-linejoin="round"/>
<path d="M534.8 941.1L534.8 949.3M534.8 938L534.8 939.1" fill="none" stroke="#000" stroke-width="1.0" stroke-linejoin="round"/>
<path d="M542.1 937.7L542.1 949.3" fill="none" stroke="#000" stroke-width="1.0" stroke-linejoin="round"/>
<path d="M553.8 937.7L553.8 949.3M553.8 937.7L558.5 937.7Q560.1 937.7 560.1 939.1L560.1 942Q560.1 943.5 558.5 943.5L553.8 943.5M558.5 943.5Q560.1 943.5 560.1 944.9L560.1 947.8Q560.1 949.3 558.5 949.3L553.8 949.3" fill="none" stroke="#000" stroke-width="1.0" stroke-linejoin="round"/>
<path d="M683 966.4L684.9 966.4Q685.8 966.4 685.8 967.4L685.8 973.4Q685.8 974.4 684.9 974.4L683 974.4Q682 974.4 682 973.4L682 967.4Q682 966.4 683 966.4Z" fill="none" stroke="#000" stroke-width="1.0" stroke-linejoin="round"/>
<path d="M693.6 966.4L695.5 966.4Q696.4 966.4 696.4 967.4L696.4 973.4Q696.4 974.4 695.5 974.4L693.6 974.4Q692.6 974.4 692.6 973.4L692.6 967.4Q692.6 966.4 693.6 966.4Z" fill="none" stroke="#000" stroke-width="1.0" stroke-linejoin="round"/>
<path d="M704.2 966.4L706.1 966.4Q707 966.4 707 967.4L707 973.4Q707 974.4 706.1 974.4L704.2 974.4Q703.2 974.4 703.2 973.4L703.2 967.4Q703.2 966.4 704.2 966.4Z" fill="none" stroke="#000" stroke-width="1.0" stroke-linejoin="round"/>
<path d="M717.6 967.4Q717.6 966.4 716.6 966.4L714.8 966.4Q713.8 966.4 713.8 967.4L713.8 973.4Q713.8 974.4 714.8 974.4L716.6 974.4Q717.6 974.4 717.6 973.4L717.6 971.4Q717.6 970.4 716.6 970.4L713.8 970.4" fill="none" stroke="#000" stroke-width="1.0" stroke-linejoin="round"/>
<path d="M727.2 974.4L727.2 966.4L724.4 972.1L728.2 972.1" fill="none" stroke="#000" stroke-width="1.0" stroke-linejoin="round"/>
<path d="M735 967.4Q735 966.4 736 966.4L737.9 966.4Q738.8 966.4 738.8 967.4L738.8 969.4Q738.8 970.4 737.9 970.4L736.3 970.4M737.9 970.4Q738.8 970.4 738.8 971.4L738.8 973.4Q738.8 974.4 737.9 974.4L736 974.4Q735 974.4 735 973.4" fill="none" stroke="#000" stroke-width="1.0" stroke-linejoin="round"/>
<path d="M749.4 967.4Q749.4 966.4 748.5 966.4L746.6 966.4Q745.6 966.4 745.6 967.4L745.6 973.4Q745.6 974.4 746.6 974.4L748.5 974.4Q749.4 974.4 749.4 973.4L749.4 971.4Q749.4 970.4 748.5 970.4L745.6 970.4" fill="none" stroke="#000" stroke-width="1.0" stroke-linejoin="round"/>
<path d="M756.2 966.4L760 966.4L757.8 974.4" fill="none" stroke="#000" stroke-width="1.0" stroke-linejoin="round"/>
</svg>
</body></html>
